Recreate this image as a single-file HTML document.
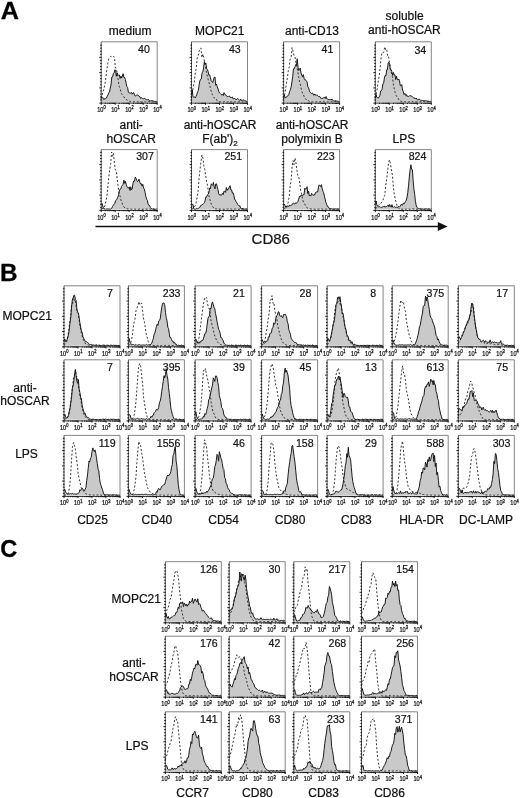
<!DOCTYPE html>
<html><head><meta charset="utf-8"><title>Figure</title>
<style>
html,body{margin:0;padding:0;background:#fff;}
body{width:520px;height:798px;overflow:hidden;}
svg{display:block;}
text{font-family:"Liberation Sans",sans-serif;fill:#111;}
.big{font-size:23.8px;font-weight:bold;fill:#000;stroke:#000;stroke-width:0.3px;}
.lb{font-size:12px;stroke:#111;stroke-width:0.22px;}
.cd{font-size:15px;stroke:#111;stroke-width:0.2px;}
.nm{font-size:10.6px;text-anchor:middle;stroke:#111;stroke-width:0.2px;}
.tk{font-size:7.3px;fill:#111;stroke:#111;stroke-width:0.25px;}
.sp{font-size:5.2px;stroke-width:0.3px;}
</style></head><body>
<svg width="520" height="798" viewBox="0 0 520 798">
<rect width="520" height="798" fill="#fff"/>
<path d="M101.2,102.0 L101.2,96.5 L102.0,96.7 L102.7,97.4 L103.5,99.4 L104.2,98.6 L105.0,99.4 L105.7,98.3 L106.5,98.0 L107.3,96.0 L108.0,95.0 L108.8,92.5 L109.5,92.1 L110.3,88.1 L111.0,85.0 L111.8,77.0 L112.6,76.9 L113.3,73.6 L114.1,73.0 L114.8,69.8 L115.6,70.2 L116.3,76.2 L117.1,72.8 L117.8,74.5 L118.6,75.3 L119.4,75.0 L120.1,78.4 L120.9,76.1 L121.6,78.1 L122.4,76.2 L123.1,73.7 L123.9,77.5 L124.7,77.5 L125.4,79.6 L126.2,83.4 L126.9,86.7 L127.7,87.7 L128.4,92.4 L129.2,92.9 L130.0,92.6 L130.7,93.2 L131.5,92.5 L132.2,94.2 L133.0,92.8 L133.7,92.8 L134.5,94.8 L135.3,96.1 L136.0,95.5 L136.8,95.0 L137.5,95.0 L138.3,95.3 L139.0,96.4 L139.8,96.5 L140.6,98.4 L141.3,97.6 L142.1,98.2 L142.8,98.9 L143.6,98.7 L144.3,98.2 L145.1,99.2 L145.8,99.1 L146.6,99.7 L147.4,99.8 L148.1,99.3 L148.9,99.8 L149.6,100.7 L150.4,100.8 L151.1,100.8 L151.9,100.6 L152.7,100.7 L153.4,101.1 L154.2,101.3 L154.9,101.4 L155.7,101.3 L156.4,101.7 L157.2,101.7 L157.2,102.0 Z" fill="#c9c9c9" stroke="none"/>
<path d="M101.2,98.9 L102.1,94.9 L103.1,91.5 L104.0,88.4 L105.0,83.9 L105.9,77.4 L106.9,69.2 L107.8,63.3 L108.8,58.8 L109.7,57.5 L110.7,56.3 L111.6,56.7 L112.6,57.5 L113.5,56.6 L114.5,57.0 L115.4,67.9 L116.4,69.2 L117.3,74.1 L118.3,80.7 L119.2,86.4 L120.2,88.6 L121.1,92.9 L122.1,94.6 L123.0,95.9 L124.0,97.4 L124.9,97.5 L125.9,99.0 L126.8,99.9 L127.8,100.5 L128.7,101.1 L129.7,101.3 L130.6,101.7 L131.6,101.9 L132.5,101.8 L133.5,101.8 L134.4,101.7 L135.4,101.9 L136.3,101.8 L137.3,101.7 L138.2,102.0 L139.2,102.0 L140.1,101.6 L141.1,102.0 L142.0,102.0 L143.0,101.8 L143.9,101.7 L144.9,102.0 L145.8,102.0 L146.8,101.4 L147.7,101.6 L148.7,101.4 L149.6,101.7 L150.6,102.0 L151.5,101.6 L152.5,101.9 L153.4,102.0 L154.4,101.7 L155.3,101.9 L156.3,101.8 L157.2,101.9" fill="none" stroke="#2a2a2a" stroke-width="0.95" stroke-dasharray="2,1.9"/>
<path d="M101.2,96.5 L102.0,96.7 L102.7,97.4 L103.5,99.4 L104.2,98.6 L105.0,99.4 L105.7,98.3 L106.5,98.0 L107.3,96.0 L108.0,95.0 L108.8,92.5 L109.5,92.1 L110.3,88.1 L111.0,85.0 L111.8,77.0 L112.6,76.9 L113.3,73.6 L114.1,73.0 L114.8,69.8 L115.6,70.2 L116.3,76.2 L117.1,72.8 L117.8,74.5 L118.6,75.3 L119.4,75.0 L120.1,78.4 L120.9,76.1 L121.6,78.1 L122.4,76.2 L123.1,73.7 L123.9,77.5 L124.7,77.5 L125.4,79.6 L126.2,83.4 L126.9,86.7 L127.7,87.7 L128.4,92.4 L129.2,92.9 L130.0,92.6 L130.7,93.2 L131.5,92.5 L132.2,94.2 L133.0,92.8 L133.7,92.8 L134.5,94.8 L135.3,96.1 L136.0,95.5 L136.8,95.0 L137.5,95.0 L138.3,95.3 L139.0,96.4 L139.8,96.5 L140.6,98.4 L141.3,97.6 L142.1,98.2 L142.8,98.9 L143.6,98.7 L144.3,98.2 L145.1,99.2 L145.8,99.1 L146.6,99.7 L147.4,99.8 L148.1,99.3 L148.9,99.8 L149.6,100.7 L150.4,100.8 L151.1,100.8 L151.9,100.6 L152.7,100.7 L153.4,101.1 L154.2,101.3 L154.9,101.4 L155.7,101.3 L156.4,101.7 L157.2,101.7" fill="none" stroke="#111" stroke-width="0.95" stroke-linejoin="round"/>
<path d="M101.2,41.8 H157.2 V103.1" fill="none" stroke="#666" stroke-width="0.8"/>
<path d="M101.2,41.8 V103.1" fill="none" stroke="#222" stroke-width="0.8"/>
<path d="M100.8,103.1 H157.5" fill="none" stroke="#111" stroke-width="0.9"/>
<path d="M99.3,103.1 h2.4 M100.1,100.0 h1.6 M100.1,97.0 h1.6 M100.1,94.0 h1.6 M100.1,90.9 h1.6 M99.3,87.9 h2.4 M100.1,84.8 h1.6 M100.1,81.8 h1.6 M100.1,78.7 h1.6 M100.1,75.7 h1.6 M99.3,72.6 h2.4 M100.1,69.6 h1.6 M100.1,66.5 h1.6 M100.1,63.5 h1.6 M100.1,60.4 h1.6 M99.3,57.4 h2.4 M100.1,54.3 h1.6 M100.1,51.3 h1.6 M100.1,48.2 h1.6 M100.1,45.2 h1.6 M101.2,102.8 v2.0 M105.4,102.8 v1.1 M107.9,102.8 v1.1 M109.6,102.8 v1.1 M111.0,102.8 v1.1 M112.1,102.8 v1.1 M113.0,102.8 v1.1 M113.8,102.8 v1.1 M114.6,102.8 v1.1 M115.2,102.8 v2.0 M119.4,102.8 v1.1 M121.9,102.8 v1.1 M123.6,102.8 v1.1 M125.0,102.8 v1.1 M126.1,102.8 v1.1 M127.0,102.8 v1.1 M127.8,102.8 v1.1 M128.6,102.8 v1.1 M129.2,102.8 v2.0 M133.4,102.8 v1.1 M135.9,102.8 v1.1 M137.6,102.8 v1.1 M139.0,102.8 v1.1 M140.1,102.8 v1.1 M141.0,102.8 v1.1 M141.8,102.8 v1.1 M142.6,102.8 v1.1 M143.2,102.8 v2.0 M147.4,102.8 v1.1 M149.9,102.8 v1.1 M151.6,102.8 v1.1 M153.0,102.8 v1.1 M154.1,102.8 v1.1 M155.0,102.8 v1.1 M155.8,102.8 v1.1 M156.6,102.8 v1.1 M157.2,102.8 v2" fill="none" stroke="#111" stroke-width="0.95"/>
<text transform="translate(97.2,111.9) scale(0.77,1)" class="tk">10<tspan dy="-2.5" class="sp">0</tspan></text>
<text transform="translate(111.2,111.9) scale(0.77,1)" class="tk">10<tspan dy="-2.5" class="sp">1</tspan></text>
<text transform="translate(125.2,111.9) scale(0.77,1)" class="tk">10<tspan dy="-2.5" class="sp">2</tspan></text>
<text transform="translate(139.2,111.9) scale(0.77,1)" class="tk">10<tspan dy="-2.5" class="sp">3</tspan></text>
<text transform="translate(153.2,111.9) scale(0.77,1)" class="tk">10<tspan dy="-2.5" class="sp">4</tspan></text>
<text x="144.0" y="53.3" class="nm">40</text>
<path d="M191.5,102.0 L191.5,94.8 L192.3,89.9 L193.0,96.6 L193.8,97.2 L194.5,96.8 L195.3,97.9 L196.0,96.4 L196.8,94.5 L197.6,91.8 L198.3,90.3 L199.1,85.1 L199.8,81.0 L200.6,79.3 L201.3,78.9 L202.1,72.5 L202.9,71.9 L203.6,67.4 L204.4,61.6 L205.1,64.1 L205.9,63.0 L206.6,68.5 L207.4,69.8 L208.1,71.3 L208.9,75.2 L209.7,74.8 L210.4,77.7 L211.2,80.7 L211.9,81.7 L212.7,82.5 L213.4,79.9 L214.2,77.4 L215.0,77.0 L215.7,85.3 L216.5,84.1 L217.2,86.6 L218.0,88.9 L218.7,91.3 L219.5,92.9 L220.3,93.5 L221.0,94.3 L221.8,95.0 L222.5,94.5 L223.3,95.6 L224.0,92.6 L224.8,93.9 L225.6,95.3 L226.3,95.7 L227.1,96.2 L227.8,96.8 L228.6,96.4 L229.3,95.9 L230.1,97.3 L230.9,97.4 L231.6,97.5 L232.4,97.0 L233.1,98.8 L233.9,98.9 L234.6,98.2 L235.4,99.0 L236.1,99.9 L236.9,98.9 L237.7,98.5 L238.4,99.3 L239.2,99.8 L239.9,100.6 L240.7,99.1 L241.4,100.5 L242.2,100.4 L243.0,100.2 L243.7,99.8 L244.5,100.9 L245.2,100.6 L246.0,101.3 L246.7,101.4 L247.5,101.7 L247.5,102.0 Z" fill="#c9c9c9" stroke="none"/>
<path d="M191.5,97.8 L192.4,92.5 L193.4,85.8 L194.3,82.1 L195.3,72.6 L196.2,68.4 L197.2,57.9 L198.1,56.2 L199.1,51.2 L200.0,48.7 L201.0,47.9 L201.9,57.6 L202.9,54.0 L203.8,57.5 L204.8,63.8 L205.7,68.5 L206.7,73.2 L207.6,77.5 L208.6,81.3 L209.5,84.2 L210.5,89.0 L211.4,91.6 L212.4,94.7 L213.3,96.8 L214.3,97.9 L215.2,98.7 L216.2,98.7 L217.1,100.8 L218.1,101.4 L219.0,101.8 L220.0,101.8 L220.9,101.8 L221.9,102.0 L222.8,101.9 L223.8,101.8 L224.7,101.5 L225.7,101.9 L226.6,101.9 L227.6,102.0 L228.5,101.5 L229.5,102.0 L230.4,101.8 L231.4,101.9 L232.3,101.6 L233.3,102.0 L234.2,102.0 L235.2,101.9 L236.1,101.9 L237.1,101.8 L238.0,102.0 L239.0,101.9 L239.9,101.7 L240.9,102.0 L241.8,101.8 L242.8,102.0 L243.7,101.7 L244.7,101.7 L245.6,101.8 L246.6,101.8 L247.5,101.9" fill="none" stroke="#2a2a2a" stroke-width="0.95" stroke-dasharray="2,1.9"/>
<path d="M191.5,94.8 L192.3,89.9 L193.0,96.6 L193.8,97.2 L194.5,96.8 L195.3,97.9 L196.0,96.4 L196.8,94.5 L197.6,91.8 L198.3,90.3 L199.1,85.1 L199.8,81.0 L200.6,79.3 L201.3,78.9 L202.1,72.5 L202.9,71.9 L203.6,67.4 L204.4,61.6 L205.1,64.1 L205.9,63.0 L206.6,68.5 L207.4,69.8 L208.1,71.3 L208.9,75.2 L209.7,74.8 L210.4,77.7 L211.2,80.7 L211.9,81.7 L212.7,82.5 L213.4,79.9 L214.2,77.4 L215.0,77.0 L215.7,85.3 L216.5,84.1 L217.2,86.6 L218.0,88.9 L218.7,91.3 L219.5,92.9 L220.3,93.5 L221.0,94.3 L221.8,95.0 L222.5,94.5 L223.3,95.6 L224.0,92.6 L224.8,93.9 L225.6,95.3 L226.3,95.7 L227.1,96.2 L227.8,96.8 L228.6,96.4 L229.3,95.9 L230.1,97.3 L230.9,97.4 L231.6,97.5 L232.4,97.0 L233.1,98.8 L233.9,98.9 L234.6,98.2 L235.4,99.0 L236.1,99.9 L236.9,98.9 L237.7,98.5 L238.4,99.3 L239.2,99.8 L239.9,100.6 L240.7,99.1 L241.4,100.5 L242.2,100.4 L243.0,100.2 L243.7,99.8 L244.5,100.9 L245.2,100.6 L246.0,101.3 L246.7,101.4 L247.5,101.7" fill="none" stroke="#111" stroke-width="0.95" stroke-linejoin="round"/>
<path d="M191.5,41.8 H247.5 V103.1" fill="none" stroke="#666" stroke-width="0.8"/>
<path d="M191.5,41.8 V103.1" fill="none" stroke="#222" stroke-width="0.8"/>
<path d="M191.1,103.1 H247.8" fill="none" stroke="#111" stroke-width="0.9"/>
<path d="M189.6,103.1 h2.4 M190.4,100.0 h1.6 M190.4,97.0 h1.6 M190.4,94.0 h1.6 M190.4,90.9 h1.6 M189.6,87.9 h2.4 M190.4,84.8 h1.6 M190.4,81.8 h1.6 M190.4,78.7 h1.6 M190.4,75.7 h1.6 M189.6,72.6 h2.4 M190.4,69.6 h1.6 M190.4,66.5 h1.6 M190.4,63.5 h1.6 M190.4,60.4 h1.6 M189.6,57.4 h2.4 M190.4,54.3 h1.6 M190.4,51.3 h1.6 M190.4,48.2 h1.6 M190.4,45.2 h1.6 M191.5,102.8 v2.0 M195.7,102.8 v1.1 M198.2,102.8 v1.1 M199.9,102.8 v1.1 M201.3,102.8 v1.1 M202.4,102.8 v1.1 M203.3,102.8 v1.1 M204.1,102.8 v1.1 M204.9,102.8 v1.1 M205.5,102.8 v2.0 M209.7,102.8 v1.1 M212.2,102.8 v1.1 M213.9,102.8 v1.1 M215.3,102.8 v1.1 M216.4,102.8 v1.1 M217.3,102.8 v1.1 M218.1,102.8 v1.1 M218.9,102.8 v1.1 M219.5,102.8 v2.0 M223.7,102.8 v1.1 M226.2,102.8 v1.1 M227.9,102.8 v1.1 M229.3,102.8 v1.1 M230.4,102.8 v1.1 M231.3,102.8 v1.1 M232.1,102.8 v1.1 M232.9,102.8 v1.1 M233.5,102.8 v2.0 M237.7,102.8 v1.1 M240.2,102.8 v1.1 M241.9,102.8 v1.1 M243.3,102.8 v1.1 M244.4,102.8 v1.1 M245.3,102.8 v1.1 M246.1,102.8 v1.1 M246.9,102.8 v1.1 M247.5,102.8 v2" fill="none" stroke="#111" stroke-width="0.95"/>
<text transform="translate(187.5,112.1) scale(0.77,1)" class="tk">10<tspan dy="-2.5" class="sp">0</tspan></text>
<text transform="translate(201.5,112.1) scale(0.77,1)" class="tk">10<tspan dy="-2.5" class="sp">1</tspan></text>
<text transform="translate(215.5,112.1) scale(0.77,1)" class="tk">10<tspan dy="-2.5" class="sp">2</tspan></text>
<text transform="translate(229.5,112.1) scale(0.77,1)" class="tk">10<tspan dy="-2.5" class="sp">3</tspan></text>
<text transform="translate(243.5,112.1) scale(0.77,1)" class="tk">10<tspan dy="-2.5" class="sp">4</tspan></text>
<text x="234.8" y="53.3" class="nm">43</text>
<path d="M283.6,102.0 L283.6,97.2 L284.4,95.0 L285.1,97.4 L285.9,97.8 L286.6,97.0 L287.4,95.9 L288.1,95.8 L288.9,94.2 L289.7,91.3 L290.4,89.7 L291.2,86.8 L291.9,82.0 L292.7,76.6 L293.4,68.8 L294.2,68.8 L295.0,66.8 L295.7,64.5 L296.5,65.2 L297.2,58.8 L298.0,67.2 L298.7,70.5 L299.5,69.5 L300.2,68.1 L301.0,72.9 L301.8,75.1 L302.5,76.8 L303.3,74.6 L304.0,78.2 L304.8,79.8 L305.5,79.7 L306.3,81.1 L307.1,81.9 L307.8,86.7 L308.6,88.0 L309.3,90.3 L310.1,92.3 L310.8,92.8 L311.6,93.6 L312.4,92.8 L313.1,94.0 L313.9,95.3 L314.6,93.9 L315.4,95.1 L316.1,95.6 L316.9,94.7 L317.7,95.7 L318.4,96.5 L319.2,96.4 L319.9,96.6 L320.7,98.3 L321.4,98.3 L322.2,98.5 L323.0,98.1 L323.7,97.6 L324.5,97.4 L325.2,98.6 L326.0,96.5 L326.7,98.7 L327.5,99.0 L328.2,99.5 L329.0,99.5 L329.8,99.8 L330.5,99.7 L331.3,100.0 L332.0,99.0 L332.8,100.5 L333.5,100.9 L334.3,101.0 L335.1,100.6 L335.8,100.8 L336.6,101.0 L337.3,101.1 L338.1,101.4 L338.8,101.4 L339.6,101.8 L339.6,102.0 Z" fill="#c9c9c9" stroke="none"/>
<path d="M283.6,99.1 L284.5,95.2 L285.5,90.0 L286.4,83.7 L287.4,77.6 L288.3,70.6 L289.3,66.7 L290.2,58.4 L291.2,56.9 L292.1,47.6 L293.1,51.8 L294.0,55.4 L295.0,57.0 L295.9,62.6 L296.9,66.8 L297.8,71.2 L298.8,77.9 L299.7,82.4 L300.7,85.8 L301.6,91.0 L302.6,93.3 L303.5,94.8 L304.5,97.6 L305.4,98.9 L306.4,99.5 L307.3,99.3 L308.3,100.7 L309.2,101.4 L310.2,101.8 L311.1,101.9 L312.1,101.9 L313.0,102.0 L314.0,101.8 L314.9,101.9 L315.9,102.0 L316.8,101.8 L317.8,102.0 L318.7,101.9 L319.7,101.9 L320.6,101.8 L321.6,101.7 L322.5,101.6 L323.5,101.4 L324.4,101.9 L325.4,101.8 L326.3,101.8 L327.3,101.8 L328.2,102.0 L329.2,102.0 L330.1,101.8 L331.1,101.6 L332.0,101.9 L333.0,101.9 L333.9,101.7 L334.9,101.9 L335.8,101.5 L336.8,101.9 L337.7,101.9 L338.7,102.0 L339.6,101.8" fill="none" stroke="#2a2a2a" stroke-width="0.95" stroke-dasharray="2,1.9"/>
<path d="M283.6,97.2 L284.4,95.0 L285.1,97.4 L285.9,97.8 L286.6,97.0 L287.4,95.9 L288.1,95.8 L288.9,94.2 L289.7,91.3 L290.4,89.7 L291.2,86.8 L291.9,82.0 L292.7,76.6 L293.4,68.8 L294.2,68.8 L295.0,66.8 L295.7,64.5 L296.5,65.2 L297.2,58.8 L298.0,67.2 L298.7,70.5 L299.5,69.5 L300.2,68.1 L301.0,72.9 L301.8,75.1 L302.5,76.8 L303.3,74.6 L304.0,78.2 L304.8,79.8 L305.5,79.7 L306.3,81.1 L307.1,81.9 L307.8,86.7 L308.6,88.0 L309.3,90.3 L310.1,92.3 L310.8,92.8 L311.6,93.6 L312.4,92.8 L313.1,94.0 L313.9,95.3 L314.6,93.9 L315.4,95.1 L316.1,95.6 L316.9,94.7 L317.7,95.7 L318.4,96.5 L319.2,96.4 L319.9,96.6 L320.7,98.3 L321.4,98.3 L322.2,98.5 L323.0,98.1 L323.7,97.6 L324.5,97.4 L325.2,98.6 L326.0,96.5 L326.7,98.7 L327.5,99.0 L328.2,99.5 L329.0,99.5 L329.8,99.8 L330.5,99.7 L331.3,100.0 L332.0,99.0 L332.8,100.5 L333.5,100.9 L334.3,101.0 L335.1,100.6 L335.8,100.8 L336.6,101.0 L337.3,101.1 L338.1,101.4 L338.8,101.4 L339.6,101.8" fill="none" stroke="#111" stroke-width="0.95" stroke-linejoin="round"/>
<path d="M283.6,41.8 H339.6 V103.1" fill="none" stroke="#666" stroke-width="0.8"/>
<path d="M283.6,41.8 V103.1" fill="none" stroke="#222" stroke-width="0.8"/>
<path d="M283.2,103.1 H339.9" fill="none" stroke="#111" stroke-width="0.9"/>
<path d="M281.7,103.1 h2.4 M282.5,100.0 h1.6 M282.5,97.0 h1.6 M282.5,94.0 h1.6 M282.5,90.9 h1.6 M281.7,87.9 h2.4 M282.5,84.8 h1.6 M282.5,81.8 h1.6 M282.5,78.7 h1.6 M282.5,75.7 h1.6 M281.7,72.6 h2.4 M282.5,69.6 h1.6 M282.5,66.5 h1.6 M282.5,63.5 h1.6 M282.5,60.4 h1.6 M281.7,57.4 h2.4 M282.5,54.3 h1.6 M282.5,51.3 h1.6 M282.5,48.2 h1.6 M282.5,45.2 h1.6 M283.6,102.8 v2.0 M287.8,102.8 v1.1 M290.3,102.8 v1.1 M292.0,102.8 v1.1 M293.4,102.8 v1.1 M294.5,102.8 v1.1 M295.4,102.8 v1.1 M296.2,102.8 v1.1 M297.0,102.8 v1.1 M297.6,102.8 v2.0 M301.8,102.8 v1.1 M304.3,102.8 v1.1 M306.0,102.8 v1.1 M307.4,102.8 v1.1 M308.5,102.8 v1.1 M309.4,102.8 v1.1 M310.2,102.8 v1.1 M311.0,102.8 v1.1 M311.6,102.8 v2.0 M315.8,102.8 v1.1 M318.3,102.8 v1.1 M320.0,102.8 v1.1 M321.4,102.8 v1.1 M322.5,102.8 v1.1 M323.4,102.8 v1.1 M324.2,102.8 v1.1 M325.0,102.8 v1.1 M325.6,102.8 v2.0 M329.8,102.8 v1.1 M332.3,102.8 v1.1 M334.0,102.8 v1.1 M335.4,102.8 v1.1 M336.5,102.8 v1.1 M337.4,102.8 v1.1 M338.2,102.8 v1.1 M339.0,102.8 v1.1 M339.6,102.8 v2" fill="none" stroke="#111" stroke-width="0.95"/>
<text transform="translate(279.6,112.1) scale(0.77,1)" class="tk">10<tspan dy="-2.5" class="sp">0</tspan></text>
<text transform="translate(293.6,112.1) scale(0.77,1)" class="tk">10<tspan dy="-2.5" class="sp">1</tspan></text>
<text transform="translate(307.6,112.1) scale(0.77,1)" class="tk">10<tspan dy="-2.5" class="sp">2</tspan></text>
<text transform="translate(321.6,112.1) scale(0.77,1)" class="tk">10<tspan dy="-2.5" class="sp">3</tspan></text>
<text transform="translate(335.6,112.1) scale(0.77,1)" class="tk">10<tspan dy="-2.5" class="sp">4</tspan></text>
<text x="327.5" y="53.3" class="nm">41</text>
<path d="M375.3,102.0 L375.3,98.2 L376.1,94.5 L376.8,97.4 L377.6,97.6 L378.3,98.2 L379.1,96.9 L379.8,95.9 L380.6,91.1 L381.4,90.7 L382.1,89.1 L382.9,83.7 L383.6,83.3 L384.4,78.1 L385.1,75.4 L385.9,75.8 L386.7,69.8 L387.4,69.7 L388.2,62.8 L388.9,62.4 L389.7,64.4 L390.4,69.9 L391.2,69.7 L391.9,71.7 L392.7,75.3 L393.5,72.5 L394.2,75.1 L395.0,74.8 L395.7,79.5 L396.5,76.2 L397.2,79.4 L398.0,80.0 L398.8,79.0 L399.5,80.9 L400.3,85.6 L401.0,85.8 L401.8,84.6 L402.5,90.0 L403.3,91.6 L404.1,94.5 L404.8,93.4 L405.6,95.4 L406.3,94.5 L407.1,96.5 L407.8,95.9 L408.6,96.5 L409.4,96.1 L410.1,95.3 L410.9,96.4 L411.6,96.1 L412.4,96.6 L413.1,97.3 L413.9,98.3 L414.7,97.9 L415.4,98.8 L416.2,98.0 L416.9,99.2 L417.7,100.2 L418.4,99.2 L419.2,99.3 L419.9,99.4 L420.7,100.4 L421.5,100.4 L422.2,100.5 L423.0,100.7 L423.7,100.6 L424.5,100.8 L425.2,100.6 L426.0,101.1 L426.8,100.9 L427.5,101.2 L428.3,101.2 L429.0,101.5 L429.8,101.4 L430.5,101.3 L431.3,101.4 L431.3,102.0 Z" fill="#c9c9c9" stroke="none"/>
<path d="M375.3,98.0 L376.2,94.0 L377.2,88.8 L378.1,82.0 L379.1,76.4 L380.0,69.1 L381.0,58.8 L381.9,52.8 L382.9,53.2 L383.8,51.6 L384.8,46.8 L385.7,49.8 L386.7,49.2 L387.6,56.2 L388.6,56.2 L389.5,63.1 L390.5,69.5 L391.4,73.1 L392.4,76.6 L393.3,83.9 L394.3,88.8 L395.2,92.6 L396.2,95.5 L397.1,97.2 L398.1,98.2 L399.0,100.0 L400.0,101.0 L400.9,101.2 L401.9,101.8 L402.8,101.8 L403.8,101.8 L404.7,101.8 L405.7,101.9 L406.6,101.8 L407.6,102.0 L408.5,102.0 L409.5,101.7 L410.4,101.9 L411.4,101.9 L412.3,101.5 L413.3,101.9 L414.2,101.8 L415.2,101.9 L416.1,101.9 L417.1,102.0 L418.0,101.7 L419.0,101.7 L419.9,101.8 L420.9,101.7 L421.8,101.7 L422.8,101.7 L423.7,101.5 L424.7,101.7 L425.6,101.7 L426.6,101.8 L427.5,102.0 L428.5,101.5 L429.4,101.9 L430.4,102.0 L431.3,101.7" fill="none" stroke="#2a2a2a" stroke-width="0.95" stroke-dasharray="2,1.9"/>
<path d="M375.3,98.2 L376.1,94.5 L376.8,97.4 L377.6,97.6 L378.3,98.2 L379.1,96.9 L379.8,95.9 L380.6,91.1 L381.4,90.7 L382.1,89.1 L382.9,83.7 L383.6,83.3 L384.4,78.1 L385.1,75.4 L385.9,75.8 L386.7,69.8 L387.4,69.7 L388.2,62.8 L388.9,62.4 L389.7,64.4 L390.4,69.9 L391.2,69.7 L391.9,71.7 L392.7,75.3 L393.5,72.5 L394.2,75.1 L395.0,74.8 L395.7,79.5 L396.5,76.2 L397.2,79.4 L398.0,80.0 L398.8,79.0 L399.5,80.9 L400.3,85.6 L401.0,85.8 L401.8,84.6 L402.5,90.0 L403.3,91.6 L404.1,94.5 L404.8,93.4 L405.6,95.4 L406.3,94.5 L407.1,96.5 L407.8,95.9 L408.6,96.5 L409.4,96.1 L410.1,95.3 L410.9,96.4 L411.6,96.1 L412.4,96.6 L413.1,97.3 L413.9,98.3 L414.7,97.9 L415.4,98.8 L416.2,98.0 L416.9,99.2 L417.7,100.2 L418.4,99.2 L419.2,99.3 L419.9,99.4 L420.7,100.4 L421.5,100.4 L422.2,100.5 L423.0,100.7 L423.7,100.6 L424.5,100.8 L425.2,100.6 L426.0,101.1 L426.8,100.9 L427.5,101.2 L428.3,101.2 L429.0,101.5 L429.8,101.4 L430.5,101.3 L431.3,101.4" fill="none" stroke="#111" stroke-width="0.95" stroke-linejoin="round"/>
<path d="M375.3,41.8 H431.3 V103.1" fill="none" stroke="#666" stroke-width="0.8"/>
<path d="M375.3,41.8 V103.1" fill="none" stroke="#222" stroke-width="0.8"/>
<path d="M374.9,103.1 H431.6" fill="none" stroke="#111" stroke-width="0.9"/>
<path d="M373.4,103.1 h2.4 M374.2,100.0 h1.6 M374.2,97.0 h1.6 M374.2,94.0 h1.6 M374.2,90.9 h1.6 M373.4,87.9 h2.4 M374.2,84.8 h1.6 M374.2,81.8 h1.6 M374.2,78.7 h1.6 M374.2,75.7 h1.6 M373.4,72.6 h2.4 M374.2,69.6 h1.6 M374.2,66.5 h1.6 M374.2,63.5 h1.6 M374.2,60.4 h1.6 M373.4,57.4 h2.4 M374.2,54.3 h1.6 M374.2,51.3 h1.6 M374.2,48.2 h1.6 M374.2,45.2 h1.6 M375.3,102.8 v2.0 M379.5,102.8 v1.1 M382.0,102.8 v1.1 M383.7,102.8 v1.1 M385.1,102.8 v1.1 M386.2,102.8 v1.1 M387.1,102.8 v1.1 M387.9,102.8 v1.1 M388.7,102.8 v1.1 M389.3,102.8 v2.0 M393.5,102.8 v1.1 M396.0,102.8 v1.1 M397.7,102.8 v1.1 M399.1,102.8 v1.1 M400.2,102.8 v1.1 M401.1,102.8 v1.1 M401.9,102.8 v1.1 M402.7,102.8 v1.1 M403.3,102.8 v2.0 M407.5,102.8 v1.1 M410.0,102.8 v1.1 M411.7,102.8 v1.1 M413.1,102.8 v1.1 M414.2,102.8 v1.1 M415.1,102.8 v1.1 M415.9,102.8 v1.1 M416.7,102.8 v1.1 M417.3,102.8 v2.0 M421.5,102.8 v1.1 M424.0,102.8 v1.1 M425.7,102.8 v1.1 M427.1,102.8 v1.1 M428.2,102.8 v1.1 M429.1,102.8 v1.1 M429.9,102.8 v1.1 M430.7,102.8 v1.1 M431.3,102.8 v2" fill="none" stroke="#111" stroke-width="0.95"/>
<text transform="translate(371.3,112.1) scale(0.77,1)" class="tk">10<tspan dy="-2.5" class="sp">0</tspan></text>
<text transform="translate(385.3,112.1) scale(0.77,1)" class="tk">10<tspan dy="-2.5" class="sp">1</tspan></text>
<text transform="translate(399.3,112.1) scale(0.77,1)" class="tk">10<tspan dy="-2.5" class="sp">2</tspan></text>
<text transform="translate(413.3,112.1) scale(0.77,1)" class="tk">10<tspan dy="-2.5" class="sp">3</tspan></text>
<text transform="translate(427.3,112.1) scale(0.77,1)" class="tk">10<tspan dy="-2.5" class="sp">4</tspan></text>
<text x="420.3" y="53.8" class="nm">34</text>
<path d="M101.2,209.3 L101.2,204.4 L102.0,203.4 L102.7,205.9 L103.5,208.2 L104.2,209.1 L105.0,208.5 L105.7,209.2 L106.5,209.0 L107.3,209.0 L108.0,208.9 L108.8,208.9 L109.5,209.0 L110.3,209.2 L111.0,208.8 L111.8,208.2 L112.6,206.3 L113.3,205.3 L114.1,204.1 L114.8,203.3 L115.6,200.7 L116.3,200.2 L117.1,198.9 L117.8,197.2 L118.6,194.8 L119.4,190.9 L120.1,189.0 L120.9,188.9 L121.6,186.4 L122.4,185.4 L123.1,184.2 L123.9,180.2 L124.7,183.4 L125.4,181.2 L126.2,184.4 L126.9,186.4 L127.7,187.7 L128.4,188.2 L129.2,186.9 L130.0,190.5 L130.7,186.8 L131.5,189.8 L132.2,188.8 L133.0,183.3 L133.7,181.0 L134.5,181.1 L135.3,177.0 L136.0,178.4 L136.8,180.5 L137.5,181.7 L138.3,181.0 L139.0,179.2 L139.8,182.2 L140.6,184.0 L141.3,183.6 L142.1,186.1 L142.8,184.3 L143.6,188.4 L144.3,188.9 L145.1,192.4 L145.8,196.2 L146.6,199.1 L147.4,200.4 L148.1,204.1 L148.9,205.4 L149.6,205.5 L150.4,207.6 L151.1,208.3 L151.9,208.8 L152.7,209.1 L153.4,208.7 L154.2,209.0 L154.9,209.3 L155.7,209.3 L156.4,209.0 L157.2,208.8 L157.2,209.3 Z" fill="#c9c9c9" stroke="none"/>
<path d="M101.2,209.1 L102.1,208.5 L103.1,208.5 L104.0,207.4 L105.0,205.5 L105.9,201.9 L106.9,196.1 L107.8,187.1 L108.8,177.1 L109.7,169.5 L110.7,163.6 L111.6,152.0 L112.6,156.2 L113.5,153.6 L114.5,164.0 L115.4,169.9 L116.4,171.2 L117.3,179.7 L118.3,187.7 L119.2,193.9 L120.2,196.4 L121.1,200.8 L122.1,202.8 L123.0,205.6 L124.0,206.9 L124.9,208.1 L125.9,208.4 L126.8,208.5 L127.8,208.9 L128.7,209.0 L129.7,209.0 L130.6,209.1 L131.6,209.3 L132.5,209.2 L133.5,208.7 L134.4,209.1 L135.4,209.2 L136.3,209.2 L137.3,209.2 L138.2,209.3 L139.2,209.1 L140.1,209.0 L141.1,209.3 L142.0,209.3 L143.0,209.3 L143.9,209.0 L144.9,208.9 L145.8,209.1 L146.8,209.2 L147.7,209.0 L148.7,209.3 L149.6,209.0 L150.6,209.2 L151.5,209.2 L152.5,209.3 L153.4,209.2 L154.4,209.3 L155.3,209.3 L156.3,209.2 L157.2,209.2" fill="none" stroke="#2a2a2a" stroke-width="0.95" stroke-dasharray="2,1.9"/>
<path d="M101.2,204.4 L102.0,203.4 L102.7,205.9 L103.5,208.2 L104.2,209.1 L105.0,208.5 L105.7,209.2 L106.5,209.0 L107.3,209.0 L108.0,208.9 L108.8,208.9 L109.5,209.0 L110.3,209.2 L111.0,208.8 L111.8,208.2 L112.6,206.3 L113.3,205.3 L114.1,204.1 L114.8,203.3 L115.6,200.7 L116.3,200.2 L117.1,198.9 L117.8,197.2 L118.6,194.8 L119.4,190.9 L120.1,189.0 L120.9,188.9 L121.6,186.4 L122.4,185.4 L123.1,184.2 L123.9,180.2 L124.7,183.4 L125.4,181.2 L126.2,184.4 L126.9,186.4 L127.7,187.7 L128.4,188.2 L129.2,186.9 L130.0,190.5 L130.7,186.8 L131.5,189.8 L132.2,188.8 L133.0,183.3 L133.7,181.0 L134.5,181.1 L135.3,177.0 L136.0,178.4 L136.8,180.5 L137.5,181.7 L138.3,181.0 L139.0,179.2 L139.8,182.2 L140.6,184.0 L141.3,183.6 L142.1,186.1 L142.8,184.3 L143.6,188.4 L144.3,188.9 L145.1,192.4 L145.8,196.2 L146.6,199.1 L147.4,200.4 L148.1,204.1 L148.9,205.4 L149.6,205.5 L150.4,207.6 L151.1,208.3 L151.9,208.8 L152.7,209.1 L153.4,208.7 L154.2,209.0 L154.9,209.3 L155.7,209.3 L156.4,209.0 L157.2,208.8" fill="none" stroke="#111" stroke-width="0.95" stroke-linejoin="round"/>
<path d="M101.2,149.6 H157.2 V210.4" fill="none" stroke="#666" stroke-width="0.8"/>
<path d="M101.2,149.6 V210.4" fill="none" stroke="#222" stroke-width="0.8"/>
<path d="M100.8,210.4 H157.5" fill="none" stroke="#111" stroke-width="0.9"/>
<path d="M99.3,210.4 h2.4 M100.1,207.3 h1.6 M100.1,204.3 h1.6 M100.1,201.2 h1.6 M100.1,198.2 h1.6 M99.3,195.1 h2.4 M100.1,192.1 h1.6 M100.1,189.0 h1.6 M100.1,186.0 h1.6 M100.1,182.9 h1.6 M99.3,179.9 h2.4 M100.1,176.8 h1.6 M100.1,173.8 h1.6 M100.1,170.7 h1.6 M100.1,167.7 h1.6 M99.3,164.6 h2.4 M100.1,161.6 h1.6 M100.1,158.5 h1.6 M100.1,155.5 h1.6 M100.1,152.4 h1.6 M101.2,210.1 v2.0 M105.4,210.1 v1.1 M107.9,210.1 v1.1 M109.6,210.1 v1.1 M111.0,210.1 v1.1 M112.1,210.1 v1.1 M113.0,210.1 v1.1 M113.8,210.1 v1.1 M114.6,210.1 v1.1 M115.2,210.1 v2.0 M119.4,210.1 v1.1 M121.9,210.1 v1.1 M123.6,210.1 v1.1 M125.0,210.1 v1.1 M126.1,210.1 v1.1 M127.0,210.1 v1.1 M127.8,210.1 v1.1 M128.6,210.1 v1.1 M129.2,210.1 v2.0 M133.4,210.1 v1.1 M135.9,210.1 v1.1 M137.6,210.1 v1.1 M139.0,210.1 v1.1 M140.1,210.1 v1.1 M141.0,210.1 v1.1 M141.8,210.1 v1.1 M142.6,210.1 v1.1 M143.2,210.1 v2.0 M147.4,210.1 v1.1 M149.9,210.1 v1.1 M151.6,210.1 v1.1 M153.0,210.1 v1.1 M154.1,210.1 v1.1 M155.0,210.1 v1.1 M155.8,210.1 v1.1 M156.6,210.1 v1.1 M157.2,210.1 v2" fill="none" stroke="#111" stroke-width="0.95"/>
<text transform="translate(97.2,219.9) scale(0.77,1)" class="tk">10<tspan dy="-2.5" class="sp">0</tspan></text>
<text transform="translate(111.2,219.9) scale(0.77,1)" class="tk">10<tspan dy="-2.5" class="sp">1</tspan></text>
<text transform="translate(125.2,219.9) scale(0.77,1)" class="tk">10<tspan dy="-2.5" class="sp">2</tspan></text>
<text transform="translate(139.2,219.9) scale(0.77,1)" class="tk">10<tspan dy="-2.5" class="sp">3</tspan></text>
<text transform="translate(153.2,219.9) scale(0.77,1)" class="tk">10<tspan dy="-2.5" class="sp">4</tspan></text>
<text x="145.0" y="160.2" class="nm">307</text>
<path d="M191.5,209.3 L191.5,205.4 L192.3,203.9 L193.0,204.8 L193.8,208.5 L194.5,209.1 L195.3,209.2 L196.0,208.9 L196.8,208.5 L197.6,208.7 L198.3,208.4 L199.1,207.7 L199.8,207.3 L200.6,205.9 L201.3,205.0 L202.1,204.7 L202.9,204.3 L203.6,203.5 L204.4,202.5 L205.1,200.8 L205.9,196.9 L206.6,196.9 L207.4,194.8 L208.1,194.3 L208.9,192.7 L209.7,187.9 L210.4,188.9 L211.2,183.9 L211.9,184.5 L212.7,185.4 L213.4,182.4 L214.2,186.8 L215.0,188.9 L215.7,184.0 L216.5,183.8 L217.2,186.8 L218.0,189.6 L218.7,193.7 L219.5,195.0 L220.3,194.4 L221.0,195.6 L221.8,194.4 L222.5,193.3 L223.3,194.6 L224.0,191.1 L224.8,191.4 L225.6,192.4 L226.3,187.5 L227.1,190.4 L227.8,189.0 L228.6,189.1 L229.3,186.9 L230.1,185.7 L230.9,190.1 L231.6,189.9 L232.4,193.1 L233.1,192.8 L233.9,195.4 L234.6,199.0 L235.4,200.1 L236.1,201.6 L236.9,202.9 L237.7,204.5 L238.4,205.4 L239.2,206.1 L239.9,205.7 L240.7,208.4 L241.4,209.0 L242.2,208.0 L243.0,209.1 L243.7,208.9 L244.5,209.0 L245.2,208.9 L246.0,209.2 L246.7,209.1 L247.5,209.0 L247.5,209.3 Z" fill="#c9c9c9" stroke="none"/>
<path d="M191.5,209.1 L192.4,208.9 L193.4,208.5 L194.3,207.1 L195.3,205.4 L196.2,202.2 L197.2,197.1 L198.1,191.3 L199.1,177.9 L200.0,169.7 L201.0,161.7 L201.9,155.0 L202.9,158.0 L203.8,165.8 L204.8,169.2 L205.7,175.6 L206.7,182.0 L207.6,185.7 L208.6,194.5 L209.5,197.9 L210.5,201.8 L211.4,204.2 L212.4,206.5 L213.3,207.1 L214.3,208.6 L215.2,208.7 L216.2,209.1 L217.1,208.7 L218.1,209.2 L219.0,209.1 L220.0,209.2 L220.9,209.2 L221.9,209.2 L222.8,209.2 L223.8,209.3 L224.7,209.3 L225.7,209.3 L226.6,209.0 L227.6,209.1 L228.5,209.0 L229.5,209.3 L230.4,208.9 L231.4,209.1 L232.3,209.3 L233.3,209.1 L234.2,209.1 L235.2,209.0 L236.1,209.1 L237.1,209.2 L238.0,209.3 L239.0,209.3 L239.9,208.9 L240.9,209.1 L241.8,209.3 L242.8,209.2 L243.7,209.1 L244.7,209.2 L245.6,209.3 L246.6,209.1 L247.5,209.2" fill="none" stroke="#2a2a2a" stroke-width="0.95" stroke-dasharray="2,1.9"/>
<path d="M191.5,205.4 L192.3,203.9 L193.0,204.8 L193.8,208.5 L194.5,209.1 L195.3,209.2 L196.0,208.9 L196.8,208.5 L197.6,208.7 L198.3,208.4 L199.1,207.7 L199.8,207.3 L200.6,205.9 L201.3,205.0 L202.1,204.7 L202.9,204.3 L203.6,203.5 L204.4,202.5 L205.1,200.8 L205.9,196.9 L206.6,196.9 L207.4,194.8 L208.1,194.3 L208.9,192.7 L209.7,187.9 L210.4,188.9 L211.2,183.9 L211.9,184.5 L212.7,185.4 L213.4,182.4 L214.2,186.8 L215.0,188.9 L215.7,184.0 L216.5,183.8 L217.2,186.8 L218.0,189.6 L218.7,193.7 L219.5,195.0 L220.3,194.4 L221.0,195.6 L221.8,194.4 L222.5,193.3 L223.3,194.6 L224.0,191.1 L224.8,191.4 L225.6,192.4 L226.3,187.5 L227.1,190.4 L227.8,189.0 L228.6,189.1 L229.3,186.9 L230.1,185.7 L230.9,190.1 L231.6,189.9 L232.4,193.1 L233.1,192.8 L233.9,195.4 L234.6,199.0 L235.4,200.1 L236.1,201.6 L236.9,202.9 L237.7,204.5 L238.4,205.4 L239.2,206.1 L239.9,205.7 L240.7,208.4 L241.4,209.0 L242.2,208.0 L243.0,209.1 L243.7,208.9 L244.5,209.0 L245.2,208.9 L246.0,209.2 L246.7,209.1 L247.5,209.0" fill="none" stroke="#111" stroke-width="0.95" stroke-linejoin="round"/>
<path d="M191.5,149.6 H247.5 V210.4" fill="none" stroke="#666" stroke-width="0.8"/>
<path d="M191.5,149.6 V210.4" fill="none" stroke="#222" stroke-width="0.8"/>
<path d="M191.1,210.4 H247.8" fill="none" stroke="#111" stroke-width="0.9"/>
<path d="M189.6,210.4 h2.4 M190.4,207.3 h1.6 M190.4,204.3 h1.6 M190.4,201.2 h1.6 M190.4,198.2 h1.6 M189.6,195.1 h2.4 M190.4,192.1 h1.6 M190.4,189.0 h1.6 M190.4,186.0 h1.6 M190.4,182.9 h1.6 M189.6,179.9 h2.4 M190.4,176.8 h1.6 M190.4,173.8 h1.6 M190.4,170.7 h1.6 M190.4,167.7 h1.6 M189.6,164.6 h2.4 M190.4,161.6 h1.6 M190.4,158.5 h1.6 M190.4,155.5 h1.6 M190.4,152.4 h1.6 M191.5,210.1 v2.0 M195.7,210.1 v1.1 M198.2,210.1 v1.1 M199.9,210.1 v1.1 M201.3,210.1 v1.1 M202.4,210.1 v1.1 M203.3,210.1 v1.1 M204.1,210.1 v1.1 M204.9,210.1 v1.1 M205.5,210.1 v2.0 M209.7,210.1 v1.1 M212.2,210.1 v1.1 M213.9,210.1 v1.1 M215.3,210.1 v1.1 M216.4,210.1 v1.1 M217.3,210.1 v1.1 M218.1,210.1 v1.1 M218.9,210.1 v1.1 M219.5,210.1 v2.0 M223.7,210.1 v1.1 M226.2,210.1 v1.1 M227.9,210.1 v1.1 M229.3,210.1 v1.1 M230.4,210.1 v1.1 M231.3,210.1 v1.1 M232.1,210.1 v1.1 M232.9,210.1 v1.1 M233.5,210.1 v2.0 M237.7,210.1 v1.1 M240.2,210.1 v1.1 M241.9,210.1 v1.1 M243.3,210.1 v1.1 M244.4,210.1 v1.1 M245.3,210.1 v1.1 M246.1,210.1 v1.1 M246.9,210.1 v1.1 M247.5,210.1 v2" fill="none" stroke="#111" stroke-width="0.95"/>
<text transform="translate(187.5,219.9) scale(0.77,1)" class="tk">10<tspan dy="-2.5" class="sp">0</tspan></text>
<text transform="translate(201.5,219.9) scale(0.77,1)" class="tk">10<tspan dy="-2.5" class="sp">1</tspan></text>
<text transform="translate(215.5,219.9) scale(0.77,1)" class="tk">10<tspan dy="-2.5" class="sp">2</tspan></text>
<text transform="translate(229.5,219.9) scale(0.77,1)" class="tk">10<tspan dy="-2.5" class="sp">3</tspan></text>
<text transform="translate(243.5,219.9) scale(0.77,1)" class="tk">10<tspan dy="-2.5" class="sp">4</tspan></text>
<text x="233.3" y="160.2" class="nm">251</text>
<path d="M283.6,209.3 L283.6,205.5 L284.4,204.0 L285.1,205.4 L285.9,207.5 L286.6,206.1 L287.4,206.7 L288.1,206.0 L288.9,206.5 L289.7,205.1 L290.4,205.6 L291.2,205.2 L291.9,205.1 L292.7,203.5 L293.4,203.1 L294.2,203.8 L295.0,204.0 L295.7,202.8 L296.5,203.3 L297.2,202.3 L298.0,201.4 L298.7,199.2 L299.5,196.2 L300.2,196.9 L301.0,195.1 L301.8,195.4 L302.5,195.8 L303.3,194.5 L304.0,194.9 L304.8,188.2 L305.5,189.1 L306.3,188.8 L307.1,186.7 L307.8,193.7 L308.6,191.1 L309.3,195.9 L310.1,195.1 L310.8,196.1 L311.6,193.4 L312.4,194.4 L313.1,195.4 L313.9,194.9 L314.6,195.0 L315.4,192.6 L316.1,192.7 L316.9,191.5 L317.7,192.0 L318.4,187.2 L319.2,184.8 L319.9,185.5 L320.7,186.6 L321.4,184.7 L322.2,188.7 L323.0,191.3 L323.7,192.8 L324.5,196.7 L325.2,199.2 L326.0,202.8 L326.7,204.4 L327.5,206.6 L328.2,206.6 L329.0,208.0 L329.8,209.2 L330.5,208.8 L331.3,208.6 L332.0,209.2 L332.8,209.0 L333.5,209.1 L334.3,209.1 L335.1,208.9 L335.8,208.9 L336.6,209.1 L337.3,209.2 L338.1,209.0 L338.8,209.2 L339.6,208.7 L339.6,209.3 Z" fill="#c9c9c9" stroke="none"/>
<path d="M283.6,209.2 L284.5,208.4 L285.5,208.5 L286.4,206.7 L287.4,205.6 L288.3,201.8 L289.3,196.2 L290.2,186.1 L291.2,179.6 L292.1,166.9 L293.1,160.6 L294.0,164.7 L295.0,158.0 L295.9,162.4 L296.9,170.2 L297.8,175.3 L298.8,176.6 L299.7,182.9 L300.7,190.6 L301.6,193.6 L302.6,199.3 L303.5,202.2 L304.5,203.6 L305.4,205.4 L306.4,207.2 L307.3,207.9 L308.3,208.5 L309.2,208.6 L310.2,208.9 L311.1,208.9 L312.1,209.1 L313.0,209.2 L314.0,209.2 L314.9,209.1 L315.9,209.3 L316.8,209.3 L317.8,209.3 L318.7,209.1 L319.7,209.1 L320.6,209.2 L321.6,208.9 L322.5,209.2 L323.5,209.3 L324.4,209.0 L325.4,209.1 L326.3,209.1 L327.3,209.2 L328.2,209.3 L329.2,209.2 L330.1,209.1 L331.1,208.9 L332.0,209.0 L333.0,209.3 L333.9,209.1 L334.9,209.1 L335.8,209.2 L336.8,209.0 L337.7,208.8 L338.7,209.1 L339.6,209.3" fill="none" stroke="#2a2a2a" stroke-width="0.95" stroke-dasharray="2,1.9"/>
<path d="M283.6,205.5 L284.4,204.0 L285.1,205.4 L285.9,207.5 L286.6,206.1 L287.4,206.7 L288.1,206.0 L288.9,206.5 L289.7,205.1 L290.4,205.6 L291.2,205.2 L291.9,205.1 L292.7,203.5 L293.4,203.1 L294.2,203.8 L295.0,204.0 L295.7,202.8 L296.5,203.3 L297.2,202.3 L298.0,201.4 L298.7,199.2 L299.5,196.2 L300.2,196.9 L301.0,195.1 L301.8,195.4 L302.5,195.8 L303.3,194.5 L304.0,194.9 L304.8,188.2 L305.5,189.1 L306.3,188.8 L307.1,186.7 L307.8,193.7 L308.6,191.1 L309.3,195.9 L310.1,195.1 L310.8,196.1 L311.6,193.4 L312.4,194.4 L313.1,195.4 L313.9,194.9 L314.6,195.0 L315.4,192.6 L316.1,192.7 L316.9,191.5 L317.7,192.0 L318.4,187.2 L319.2,184.8 L319.9,185.5 L320.7,186.6 L321.4,184.7 L322.2,188.7 L323.0,191.3 L323.7,192.8 L324.5,196.7 L325.2,199.2 L326.0,202.8 L326.7,204.4 L327.5,206.6 L328.2,206.6 L329.0,208.0 L329.8,209.2 L330.5,208.8 L331.3,208.6 L332.0,209.2 L332.8,209.0 L333.5,209.1 L334.3,209.1 L335.1,208.9 L335.8,208.9 L336.6,209.1 L337.3,209.2 L338.1,209.0 L338.8,209.2 L339.6,208.7" fill="none" stroke="#111" stroke-width="0.95" stroke-linejoin="round"/>
<path d="M283.6,149.6 H339.6 V210.4" fill="none" stroke="#666" stroke-width="0.8"/>
<path d="M283.6,149.6 V210.4" fill="none" stroke="#222" stroke-width="0.8"/>
<path d="M283.2,210.4 H339.9" fill="none" stroke="#111" stroke-width="0.9"/>
<path d="M281.7,210.4 h2.4 M282.5,207.3 h1.6 M282.5,204.3 h1.6 M282.5,201.2 h1.6 M282.5,198.2 h1.6 M281.7,195.1 h2.4 M282.5,192.1 h1.6 M282.5,189.0 h1.6 M282.5,186.0 h1.6 M282.5,182.9 h1.6 M281.7,179.9 h2.4 M282.5,176.8 h1.6 M282.5,173.8 h1.6 M282.5,170.7 h1.6 M282.5,167.7 h1.6 M281.7,164.6 h2.4 M282.5,161.6 h1.6 M282.5,158.5 h1.6 M282.5,155.5 h1.6 M282.5,152.4 h1.6 M283.6,210.1 v2.0 M287.8,210.1 v1.1 M290.3,210.1 v1.1 M292.0,210.1 v1.1 M293.4,210.1 v1.1 M294.5,210.1 v1.1 M295.4,210.1 v1.1 M296.2,210.1 v1.1 M297.0,210.1 v1.1 M297.6,210.1 v2.0 M301.8,210.1 v1.1 M304.3,210.1 v1.1 M306.0,210.1 v1.1 M307.4,210.1 v1.1 M308.5,210.1 v1.1 M309.4,210.1 v1.1 M310.2,210.1 v1.1 M311.0,210.1 v1.1 M311.6,210.1 v2.0 M315.8,210.1 v1.1 M318.3,210.1 v1.1 M320.0,210.1 v1.1 M321.4,210.1 v1.1 M322.5,210.1 v1.1 M323.4,210.1 v1.1 M324.2,210.1 v1.1 M325.0,210.1 v1.1 M325.6,210.1 v2.0 M329.8,210.1 v1.1 M332.3,210.1 v1.1 M334.0,210.1 v1.1 M335.4,210.1 v1.1 M336.5,210.1 v1.1 M337.4,210.1 v1.1 M338.2,210.1 v1.1 M339.0,210.1 v1.1 M339.6,210.1 v2" fill="none" stroke="#111" stroke-width="0.95"/>
<text transform="translate(279.6,219.9) scale(0.77,1)" class="tk">10<tspan dy="-2.5" class="sp">0</tspan></text>
<text transform="translate(293.6,219.9) scale(0.77,1)" class="tk">10<tspan dy="-2.5" class="sp">1</tspan></text>
<text transform="translate(307.6,219.9) scale(0.77,1)" class="tk">10<tspan dy="-2.5" class="sp">2</tspan></text>
<text transform="translate(321.6,219.9) scale(0.77,1)" class="tk">10<tspan dy="-2.5" class="sp">3</tspan></text>
<text transform="translate(335.6,219.9) scale(0.77,1)" class="tk">10<tspan dy="-2.5" class="sp">4</tspan></text>
<text x="325.8" y="160.2" class="nm">223</text>
<path d="M375.3,209.3 L375.3,203.5 L376.1,201.0 L376.8,204.9 L377.6,206.3 L378.3,206.7 L379.1,207.2 L379.8,206.5 L380.6,207.3 L381.4,207.4 L382.1,207.0 L382.9,207.0 L383.6,206.5 L384.4,206.1 L385.1,207.3 L385.9,206.3 L386.7,206.7 L387.4,205.7 L388.2,204.9 L388.9,206.8 L389.7,204.5 L390.4,205.9 L391.2,207.2 L391.9,204.7 L392.7,207.1 L393.5,207.3 L394.2,206.6 L395.0,207.2 L395.7,207.4 L396.5,207.1 L397.2,207.7 L398.0,206.6 L398.8,206.4 L399.5,207.0 L400.3,206.1 L401.0,204.5 L401.8,204.6 L402.5,205.2 L403.3,203.2 L404.1,203.9 L404.8,202.8 L405.6,201.4 L406.3,200.2 L407.1,197.0 L407.8,192.3 L408.6,185.1 L409.4,176.0 L410.1,169.7 L410.9,164.8 L411.6,169.4 L412.4,169.7 L413.1,180.2 L413.9,189.1 L414.7,194.4 L415.4,201.2 L416.2,205.3 L416.9,207.4 L417.7,208.1 L418.4,208.5 L419.2,208.8 L419.9,208.7 L420.7,208.8 L421.5,209.1 L422.2,208.9 L423.0,209.1 L423.7,209.2 L424.5,209.1 L425.2,209.2 L426.0,208.8 L426.8,208.9 L427.5,209.1 L428.3,209.2 L429.0,209.0 L429.8,209.1 L430.5,209.3 L431.3,208.5 L431.3,209.3 Z" fill="#c9c9c9" stroke="none"/>
<path d="M375.3,208.6 L376.2,208.3 L377.2,206.5 L378.1,205.7 L379.1,204.6 L380.0,203.7 L381.0,203.4 L381.9,201.9 L382.9,200.5 L383.8,197.3 L384.8,195.3 L385.7,185.5 L386.7,179.3 L387.6,170.8 L388.6,162.5 L389.5,159.8 L390.5,163.8 L391.4,170.0 L392.4,175.1 L393.3,186.5 L394.3,194.2 L395.2,198.8 L396.2,202.9 L397.1,205.7 L398.1,207.5 L399.0,208.6 L400.0,209.0 L400.9,209.1 L401.9,209.2 L402.8,209.3 L403.8,209.2 L404.7,208.7 L405.7,209.3 L406.6,209.1 L407.6,209.0 L408.5,208.9 L409.5,209.2 L410.4,209.2 L411.4,209.0 L412.3,208.6 L413.3,209.0 L414.2,209.0 L415.2,209.3 L416.1,209.2 L417.1,209.3 L418.0,209.0 L419.0,209.2 L419.9,209.1 L420.9,209.2 L421.8,209.1 L422.8,209.2 L423.7,209.0 L424.7,209.2 L425.6,209.0 L426.6,209.1 L427.5,209.3 L428.5,208.9 L429.4,209.0 L430.4,209.2 L431.3,209.0" fill="none" stroke="#2a2a2a" stroke-width="0.95" stroke-dasharray="2,1.9"/>
<path d="M375.3,203.5 L376.1,201.0 L376.8,204.9 L377.6,206.3 L378.3,206.7 L379.1,207.2 L379.8,206.5 L380.6,207.3 L381.4,207.4 L382.1,207.0 L382.9,207.0 L383.6,206.5 L384.4,206.1 L385.1,207.3 L385.9,206.3 L386.7,206.7 L387.4,205.7 L388.2,204.9 L388.9,206.8 L389.7,204.5 L390.4,205.9 L391.2,207.2 L391.9,204.7 L392.7,207.1 L393.5,207.3 L394.2,206.6 L395.0,207.2 L395.7,207.4 L396.5,207.1 L397.2,207.7 L398.0,206.6 L398.8,206.4 L399.5,207.0 L400.3,206.1 L401.0,204.5 L401.8,204.6 L402.5,205.2 L403.3,203.2 L404.1,203.9 L404.8,202.8 L405.6,201.4 L406.3,200.2 L407.1,197.0 L407.8,192.3 L408.6,185.1 L409.4,176.0 L410.1,169.7 L410.9,164.8 L411.6,169.4 L412.4,169.7 L413.1,180.2 L413.9,189.1 L414.7,194.4 L415.4,201.2 L416.2,205.3 L416.9,207.4 L417.7,208.1 L418.4,208.5 L419.2,208.8 L419.9,208.7 L420.7,208.8 L421.5,209.1 L422.2,208.9 L423.0,209.1 L423.7,209.2 L424.5,209.1 L425.2,209.2 L426.0,208.8 L426.8,208.9 L427.5,209.1 L428.3,209.2 L429.0,209.0 L429.8,209.1 L430.5,209.3 L431.3,208.5" fill="none" stroke="#111" stroke-width="0.95" stroke-linejoin="round"/>
<path d="M375.3,149.6 H431.3 V210.4" fill="none" stroke="#666" stroke-width="0.8"/>
<path d="M375.3,149.6 V210.4" fill="none" stroke="#222" stroke-width="0.8"/>
<path d="M374.9,210.4 H431.6" fill="none" stroke="#111" stroke-width="0.9"/>
<path d="M373.4,210.4 h2.4 M374.2,207.3 h1.6 M374.2,204.3 h1.6 M374.2,201.2 h1.6 M374.2,198.2 h1.6 M373.4,195.1 h2.4 M374.2,192.1 h1.6 M374.2,189.0 h1.6 M374.2,186.0 h1.6 M374.2,182.9 h1.6 M373.4,179.9 h2.4 M374.2,176.8 h1.6 M374.2,173.8 h1.6 M374.2,170.7 h1.6 M374.2,167.7 h1.6 M373.4,164.6 h2.4 M374.2,161.6 h1.6 M374.2,158.5 h1.6 M374.2,155.5 h1.6 M374.2,152.4 h1.6 M375.3,210.1 v2.0 M379.5,210.1 v1.1 M382.0,210.1 v1.1 M383.7,210.1 v1.1 M385.1,210.1 v1.1 M386.2,210.1 v1.1 M387.1,210.1 v1.1 M387.9,210.1 v1.1 M388.7,210.1 v1.1 M389.3,210.1 v2.0 M393.5,210.1 v1.1 M396.0,210.1 v1.1 M397.7,210.1 v1.1 M399.1,210.1 v1.1 M400.2,210.1 v1.1 M401.1,210.1 v1.1 M401.9,210.1 v1.1 M402.7,210.1 v1.1 M403.3,210.1 v2.0 M407.5,210.1 v1.1 M410.0,210.1 v1.1 M411.7,210.1 v1.1 M413.1,210.1 v1.1 M414.2,210.1 v1.1 M415.1,210.1 v1.1 M415.9,210.1 v1.1 M416.7,210.1 v1.1 M417.3,210.1 v2.0 M421.5,210.1 v1.1 M424.0,210.1 v1.1 M425.7,210.1 v1.1 M427.1,210.1 v1.1 M428.2,210.1 v1.1 M429.1,210.1 v1.1 M429.9,210.1 v1.1 M430.7,210.1 v1.1 M431.3,210.1 v2" fill="none" stroke="#111" stroke-width="0.95"/>
<text transform="translate(371.3,219.9) scale(0.77,1)" class="tk">10<tspan dy="-2.5" class="sp">0</tspan></text>
<text transform="translate(385.3,219.9) scale(0.77,1)" class="tk">10<tspan dy="-2.5" class="sp">1</tspan></text>
<text transform="translate(399.3,219.9) scale(0.77,1)" class="tk">10<tspan dy="-2.5" class="sp">2</tspan></text>
<text transform="translate(413.3,219.9) scale(0.77,1)" class="tk">10<tspan dy="-2.5" class="sp">3</tspan></text>
<text transform="translate(427.3,219.9) scale(0.77,1)" class="tk">10<tspan dy="-2.5" class="sp">4</tspan></text>
<text x="417.5" y="160.2" class="nm">824</text>
<path d="M64.0,345.7 L64.0,341.9 L64.8,338.9 L65.5,341.5 L66.3,341.1 L67.0,339.8 L67.8,337.4 L68.5,334.7 L69.3,329.0 L70.1,321.8 L70.8,317.1 L71.6,306.5 L72.3,299.9 L73.1,298.0 L73.8,295.8 L74.6,295.1 L75.4,299.5 L76.1,300.4 L76.9,309.2 L77.6,312.0 L78.4,313.1 L79.1,317.2 L79.9,322.9 L80.6,327.0 L81.4,330.8 L82.2,332.6 L82.9,336.5 L83.7,338.4 L84.4,339.6 L85.2,341.5 L85.9,341.7 L86.7,341.7 L87.5,342.4 L88.2,343.1 L89.0,343.9 L89.7,344.5 L90.5,344.5 L91.2,344.5 L92.0,345.0 L92.8,344.9 L93.5,345.0 L94.3,345.3 L95.0,345.2 L95.8,345.2 L96.5,344.8 L97.3,345.4 L98.1,345.5 L98.8,345.0 L99.6,345.2 L100.3,345.4 L101.1,345.6 L101.8,345.6 L102.6,345.3 L103.4,344.8 L104.1,345.6 L104.9,345.0 L105.6,345.7 L106.4,345.3 L107.1,345.4 L107.9,345.2 L108.6,345.5 L109.4,345.7 L110.2,345.2 L110.9,345.3 L111.7,345.3 L112.4,345.6 L113.2,345.1 L113.9,345.5 L114.7,345.4 L115.5,345.6 L116.2,345.3 L117.0,345.6 L117.7,345.5 L118.5,345.7 L119.2,345.4 L120.0,345.5 L120.0,345.7 Z" fill="#c9c9c9" stroke="none"/>
<path d="M64.0,345.1 L64.9,344.4 L65.9,343.4 L66.8,341.3 L67.8,336.0 L68.7,330.4 L69.7,323.3 L70.6,316.3 L71.6,305.5 L72.5,304.5 L73.5,295.7 L74.4,301.3 L75.4,300.6 L76.3,307.2 L77.3,312.7 L78.2,313.6 L79.2,320.5 L80.1,326.5 L81.1,332.0 L82.0,335.0 L83.0,339.0 L83.9,340.9 L84.9,342.9 L85.8,344.1 L86.8,344.6 L87.7,344.6 L88.7,345.2 L89.6,345.4 L90.6,345.5 L91.5,345.5 L92.5,345.5 L93.4,345.5 L94.4,345.6 L95.3,345.3 L96.3,345.4 L97.2,345.6 L98.2,345.7 L99.1,345.6 L100.1,345.5 L101.0,345.5 L102.0,345.4 L102.9,345.5 L103.9,345.6 L104.8,345.7 L105.8,345.7 L106.7,345.5 L107.7,345.7 L108.6,345.4 L109.6,345.4 L110.5,345.6 L111.5,345.5 L112.4,345.7 L113.4,345.6 L114.3,345.5 L115.3,345.3 L116.2,345.7 L117.2,345.5 L118.1,345.5 L119.1,345.6 L120.0,345.6" fill="none" stroke="#2a2a2a" stroke-width="0.95" stroke-dasharray="2,1.9"/>
<path d="M64.0,341.9 L64.8,338.9 L65.5,341.5 L66.3,341.1 L67.0,339.8 L67.8,337.4 L68.5,334.7 L69.3,329.0 L70.1,321.8 L70.8,317.1 L71.6,306.5 L72.3,299.9 L73.1,298.0 L73.8,295.8 L74.6,295.1 L75.4,299.5 L76.1,300.4 L76.9,309.2 L77.6,312.0 L78.4,313.1 L79.1,317.2 L79.9,322.9 L80.6,327.0 L81.4,330.8 L82.2,332.6 L82.9,336.5 L83.7,338.4 L84.4,339.6 L85.2,341.5 L85.9,341.7 L86.7,341.7 L87.5,342.4 L88.2,343.1 L89.0,343.9 L89.7,344.5 L90.5,344.5 L91.2,344.5 L92.0,345.0 L92.8,344.9 L93.5,345.0 L94.3,345.3 L95.0,345.2 L95.8,345.2 L96.5,344.8 L97.3,345.4 L98.1,345.5 L98.8,345.0 L99.6,345.2 L100.3,345.4 L101.1,345.6 L101.8,345.6 L102.6,345.3 L103.4,344.8 L104.1,345.6 L104.9,345.0 L105.6,345.7 L106.4,345.3 L107.1,345.4 L107.9,345.2 L108.6,345.5 L109.4,345.7 L110.2,345.2 L110.9,345.3 L111.7,345.3 L112.4,345.6 L113.2,345.1 L113.9,345.5 L114.7,345.4 L115.5,345.6 L116.2,345.3 L117.0,345.6 L117.7,345.5 L118.5,345.7 L119.2,345.4 L120.0,345.5" fill="none" stroke="#111" stroke-width="0.95" stroke-linejoin="round"/>
<path d="M64.0,285.8 H120.0 V346.8" fill="none" stroke="#666" stroke-width="0.8"/>
<path d="M64.0,285.8 V346.8" fill="none" stroke="#222" stroke-width="0.8"/>
<path d="M63.6,346.8 H120.3" fill="none" stroke="#111" stroke-width="0.9"/>
<path d="M62.1,346.8 h2.4 M62.9,343.8 h1.6 M62.9,340.7 h1.6 M62.9,337.6 h1.6 M62.9,334.6 h1.6 M62.1,331.5 h2.4 M62.9,328.5 h1.6 M62.9,325.4 h1.6 M62.9,322.4 h1.6 M62.9,319.3 h1.6 M62.1,316.3 h2.4 M62.9,313.2 h1.6 M62.9,310.2 h1.6 M62.9,307.1 h1.6 M62.9,304.1 h1.6 M62.1,301.0 h2.4 M62.9,298.0 h1.6 M62.9,294.9 h1.6 M62.9,291.9 h1.6 M62.9,288.8 h1.6 M64.0,346.5 v2.0 M68.2,346.5 v1.1 M70.7,346.5 v1.1 M72.4,346.5 v1.1 M73.8,346.5 v1.1 M74.9,346.5 v1.1 M75.8,346.5 v1.1 M76.6,346.5 v1.1 M77.4,346.5 v1.1 M78.0,346.5 v2.0 M82.2,346.5 v1.1 M84.7,346.5 v1.1 M86.4,346.5 v1.1 M87.8,346.5 v1.1 M88.9,346.5 v1.1 M89.8,346.5 v1.1 M90.6,346.5 v1.1 M91.4,346.5 v1.1 M92.0,346.5 v2.0 M96.2,346.5 v1.1 M98.7,346.5 v1.1 M100.4,346.5 v1.1 M101.8,346.5 v1.1 M102.9,346.5 v1.1 M103.8,346.5 v1.1 M104.6,346.5 v1.1 M105.4,346.5 v1.1 M106.0,346.5 v2.0 M110.2,346.5 v1.1 M112.7,346.5 v1.1 M114.4,346.5 v1.1 M115.8,346.5 v1.1 M116.9,346.5 v1.1 M117.8,346.5 v1.1 M118.6,346.5 v1.1 M119.4,346.5 v1.1 M120.0,346.5 v2" fill="none" stroke="#111" stroke-width="0.95"/>
<text transform="translate(60.0,355.8) scale(0.77,1)" class="tk">10<tspan dy="-2.5" class="sp">0</tspan></text>
<text transform="translate(74.0,355.8) scale(0.77,1)" class="tk">10<tspan dy="-2.5" class="sp">1</tspan></text>
<text transform="translate(88.0,355.8) scale(0.77,1)" class="tk">10<tspan dy="-2.5" class="sp">2</tspan></text>
<text transform="translate(102.0,355.8) scale(0.77,1)" class="tk">10<tspan dy="-2.5" class="sp">3</tspan></text>
<text transform="translate(116.0,355.8) scale(0.77,1)" class="tk">10<tspan dy="-2.5" class="sp">4</tspan></text>
<text x="110.0" y="297.1" class="nm">7</text>
<path d="M128.4,345.7 L128.4,339.2 L129.2,338.4 L129.9,342.2 L130.7,343.3 L131.4,344.9 L132.2,344.6 L132.9,344.7 L133.7,344.6 L134.5,345.2 L135.2,345.2 L136.0,344.5 L136.7,345.2 L137.5,345.1 L138.2,345.1 L139.0,344.5 L139.8,344.8 L140.5,345.2 L141.3,345.2 L142.0,344.9 L142.8,345.0 L143.5,345.0 L144.3,345.1 L145.0,345.2 L145.8,345.0 L146.6,344.6 L147.3,345.2 L148.1,344.7 L148.8,345.0 L149.6,345.2 L150.3,344.9 L151.1,343.9 L151.9,343.0 L152.6,340.4 L153.4,338.3 L154.1,334.5 L154.9,333.0 L155.6,329.9 L156.4,326.5 L157.2,324.1 L157.9,325.4 L158.7,321.0 L159.4,320.5 L160.2,318.9 L160.9,313.3 L161.7,307.9 L162.5,303.7 L163.2,303.0 L164.0,302.9 L164.7,304.8 L165.5,312.3 L166.2,317.5 L167.0,320.6 L167.8,327.2 L168.5,328.4 L169.3,333.7 L170.0,337.6 L170.8,337.6 L171.5,339.4 L172.3,341.2 L173.0,341.2 L173.8,342.9 L174.6,342.3 L175.3,344.1 L176.1,344.1 L176.8,344.7 L177.6,345.5 L178.3,345.2 L179.1,345.7 L179.9,345.5 L180.6,345.6 L181.4,345.1 L182.1,345.3 L182.9,345.6 L183.6,345.6 L184.4,345.3 L184.4,345.7 Z" fill="#c9c9c9" stroke="none"/>
<path d="M128.4,345.7 L129.3,345.1 L130.3,343.8 L131.2,341.4 L132.2,336.5 L133.1,329.4 L134.1,321.8 L135.0,319.2 L136.0,310.6 L136.9,308.4 L137.9,305.6 L138.8,301.6 L139.8,304.9 L140.7,303.8 L141.7,303.3 L142.6,310.9 L143.6,319.0 L144.5,322.2 L145.5,329.0 L146.4,335.1 L147.4,338.0 L148.3,341.6 L149.3,343.7 L150.2,345.1 L151.2,345.4 L152.1,345.6 L153.1,345.4 L154.0,345.5 L155.0,345.5 L155.9,345.6 L156.9,345.7 L157.8,345.3 L158.8,345.6 L159.7,345.2 L160.7,345.6 L161.6,345.6 L162.6,345.6 L163.5,345.5 L164.5,345.5 L165.4,345.4 L166.4,345.6 L167.3,345.5 L168.3,345.7 L169.2,345.4 L170.2,345.7 L171.1,345.4 L172.1,345.6 L173.0,345.5 L174.0,345.6 L174.9,345.4 L175.9,345.3 L176.8,345.2 L177.8,345.4 L178.7,345.6 L179.7,345.6 L180.6,345.7 L181.6,345.5 L182.5,345.6 L183.5,345.6 L184.4,345.4" fill="none" stroke="#2a2a2a" stroke-width="0.95" stroke-dasharray="2,1.9"/>
<path d="M128.4,339.2 L129.2,338.4 L129.9,342.2 L130.7,343.3 L131.4,344.9 L132.2,344.6 L132.9,344.7 L133.7,344.6 L134.5,345.2 L135.2,345.2 L136.0,344.5 L136.7,345.2 L137.5,345.1 L138.2,345.1 L139.0,344.5 L139.8,344.8 L140.5,345.2 L141.3,345.2 L142.0,344.9 L142.8,345.0 L143.5,345.0 L144.3,345.1 L145.0,345.2 L145.8,345.0 L146.6,344.6 L147.3,345.2 L148.1,344.7 L148.8,345.0 L149.6,345.2 L150.3,344.9 L151.1,343.9 L151.9,343.0 L152.6,340.4 L153.4,338.3 L154.1,334.5 L154.9,333.0 L155.6,329.9 L156.4,326.5 L157.2,324.1 L157.9,325.4 L158.7,321.0 L159.4,320.5 L160.2,318.9 L160.9,313.3 L161.7,307.9 L162.5,303.7 L163.2,303.0 L164.0,302.9 L164.7,304.8 L165.5,312.3 L166.2,317.5 L167.0,320.6 L167.8,327.2 L168.5,328.4 L169.3,333.7 L170.0,337.6 L170.8,337.6 L171.5,339.4 L172.3,341.2 L173.0,341.2 L173.8,342.9 L174.6,342.3 L175.3,344.1 L176.1,344.1 L176.8,344.7 L177.6,345.5 L178.3,345.2 L179.1,345.7 L179.9,345.5 L180.6,345.6 L181.4,345.1 L182.1,345.3 L182.9,345.6 L183.6,345.6 L184.4,345.3" fill="none" stroke="#111" stroke-width="0.95" stroke-linejoin="round"/>
<path d="M128.4,285.8 H184.4 V346.8" fill="none" stroke="#666" stroke-width="0.8"/>
<path d="M128.4,285.8 V346.8" fill="none" stroke="#222" stroke-width="0.8"/>
<path d="M128.0,346.8 H184.7" fill="none" stroke="#111" stroke-width="0.9"/>
<path d="M126.5,346.8 h2.4 M127.3,343.8 h1.6 M127.3,340.7 h1.6 M127.3,337.6 h1.6 M127.3,334.6 h1.6 M126.5,331.5 h2.4 M127.3,328.5 h1.6 M127.3,325.4 h1.6 M127.3,322.4 h1.6 M127.3,319.3 h1.6 M126.5,316.3 h2.4 M127.3,313.2 h1.6 M127.3,310.2 h1.6 M127.3,307.1 h1.6 M127.3,304.1 h1.6 M126.5,301.0 h2.4 M127.3,298.0 h1.6 M127.3,294.9 h1.6 M127.3,291.9 h1.6 M127.3,288.8 h1.6 M128.4,346.5 v2.0 M132.6,346.5 v1.1 M135.1,346.5 v1.1 M136.8,346.5 v1.1 M138.2,346.5 v1.1 M139.3,346.5 v1.1 M140.2,346.5 v1.1 M141.0,346.5 v1.1 M141.8,346.5 v1.1 M142.4,346.5 v2.0 M146.6,346.5 v1.1 M149.1,346.5 v1.1 M150.8,346.5 v1.1 M152.2,346.5 v1.1 M153.3,346.5 v1.1 M154.2,346.5 v1.1 M155.0,346.5 v1.1 M155.8,346.5 v1.1 M156.4,346.5 v2.0 M160.6,346.5 v1.1 M163.1,346.5 v1.1 M164.8,346.5 v1.1 M166.2,346.5 v1.1 M167.3,346.5 v1.1 M168.2,346.5 v1.1 M169.0,346.5 v1.1 M169.8,346.5 v1.1 M170.4,346.5 v2.0 M174.6,346.5 v1.1 M177.1,346.5 v1.1 M178.8,346.5 v1.1 M180.2,346.5 v1.1 M181.3,346.5 v1.1 M182.2,346.5 v1.1 M183.0,346.5 v1.1 M183.8,346.5 v1.1 M184.4,346.5 v2" fill="none" stroke="#111" stroke-width="0.95"/>
<text transform="translate(124.4,355.8) scale(0.77,1)" class="tk">10<tspan dy="-2.5" class="sp">0</tspan></text>
<text transform="translate(138.4,355.8) scale(0.77,1)" class="tk">10<tspan dy="-2.5" class="sp">1</tspan></text>
<text transform="translate(152.4,355.8) scale(0.77,1)" class="tk">10<tspan dy="-2.5" class="sp">2</tspan></text>
<text transform="translate(166.4,355.8) scale(0.77,1)" class="tk">10<tspan dy="-2.5" class="sp">3</tspan></text>
<text transform="translate(180.4,355.8) scale(0.77,1)" class="tk">10<tspan dy="-2.5" class="sp">4</tspan></text>
<text x="171.6" y="297.1" class="nm">233</text>
<path d="M195.1,345.7 L195.1,340.2 L195.9,339.2 L196.6,341.2 L197.4,343.2 L198.1,342.1 L198.9,343.4 L199.6,341.9 L200.4,342.3 L201.2,340.6 L201.9,341.0 L202.7,340.3 L203.4,338.9 L204.2,336.0 L204.9,333.6 L205.7,333.3 L206.5,329.8 L207.2,324.0 L208.0,318.1 L208.7,316.9 L209.5,315.9 L210.2,308.1 L211.0,308.8 L211.7,303.8 L212.5,301.9 L213.3,304.8 L214.0,307.3 L214.8,308.8 L215.5,313.6 L216.3,317.0 L217.0,321.4 L217.8,325.3 L218.6,329.3 L219.3,330.4 L220.1,333.1 L220.8,337.6 L221.6,337.7 L222.3,339.2 L223.1,340.3 L223.9,343.0 L224.6,344.0 L225.4,344.7 L226.1,345.0 L226.9,345.3 L227.6,345.3 L228.4,345.5 L229.2,345.1 L229.9,345.6 L230.7,345.6 L231.4,345.0 L232.2,345.3 L232.9,345.7 L233.7,345.5 L234.5,345.7 L235.2,345.1 L236.0,345.6 L236.7,345.5 L237.5,345.6 L238.2,345.4 L239.0,345.3 L239.7,345.6 L240.5,345.1 L241.3,345.4 L242.0,345.7 L242.8,345.5 L243.5,345.6 L244.3,345.1 L245.0,345.4 L245.8,345.6 L246.6,345.7 L247.3,345.2 L248.1,345.4 L248.8,345.5 L249.6,345.6 L250.3,345.5 L251.1,345.5 L251.1,345.7 Z" fill="#c9c9c9" stroke="none"/>
<path d="M195.1,345.4 L196.0,344.6 L197.0,343.8 L197.9,341.3 L198.9,338.4 L199.8,332.4 L200.8,324.2 L201.7,316.8 L202.7,309.5 L203.6,303.1 L204.6,298.3 L205.5,299.1 L206.5,297.5 L207.4,303.4 L208.4,307.1 L209.3,309.2 L210.3,314.5 L211.2,321.6 L212.2,325.5 L213.1,328.4 L214.1,333.7 L215.0,336.6 L216.0,338.9 L216.9,340.7 L217.9,342.4 L218.8,343.4 L219.8,343.6 L220.7,344.7 L221.7,344.9 L222.6,345.3 L223.6,345.5 L224.5,345.6 L225.5,345.3 L226.4,345.5 L227.4,345.7 L228.3,345.5 L229.3,345.5 L230.2,345.4 L231.2,345.6 L232.1,345.4 L233.1,345.4 L234.0,345.4 L235.0,345.5 L235.9,345.4 L236.9,345.2 L237.8,345.7 L238.8,345.4 L239.7,345.7 L240.7,345.6 L241.6,345.7 L242.6,345.4 L243.5,345.5 L244.5,345.4 L245.4,345.6 L246.4,345.5 L247.3,345.6 L248.3,345.7 L249.2,345.3 L250.2,345.5 L251.1,345.3" fill="none" stroke="#2a2a2a" stroke-width="0.95" stroke-dasharray="2,1.9"/>
<path d="M195.1,340.2 L195.9,339.2 L196.6,341.2 L197.4,343.2 L198.1,342.1 L198.9,343.4 L199.6,341.9 L200.4,342.3 L201.2,340.6 L201.9,341.0 L202.7,340.3 L203.4,338.9 L204.2,336.0 L204.9,333.6 L205.7,333.3 L206.5,329.8 L207.2,324.0 L208.0,318.1 L208.7,316.9 L209.5,315.9 L210.2,308.1 L211.0,308.8 L211.7,303.8 L212.5,301.9 L213.3,304.8 L214.0,307.3 L214.8,308.8 L215.5,313.6 L216.3,317.0 L217.0,321.4 L217.8,325.3 L218.6,329.3 L219.3,330.4 L220.1,333.1 L220.8,337.6 L221.6,337.7 L222.3,339.2 L223.1,340.3 L223.9,343.0 L224.6,344.0 L225.4,344.7 L226.1,345.0 L226.9,345.3 L227.6,345.3 L228.4,345.5 L229.2,345.1 L229.9,345.6 L230.7,345.6 L231.4,345.0 L232.2,345.3 L232.9,345.7 L233.7,345.5 L234.5,345.7 L235.2,345.1 L236.0,345.6 L236.7,345.5 L237.5,345.6 L238.2,345.4 L239.0,345.3 L239.7,345.6 L240.5,345.1 L241.3,345.4 L242.0,345.7 L242.8,345.5 L243.5,345.6 L244.3,345.1 L245.0,345.4 L245.8,345.6 L246.6,345.7 L247.3,345.2 L248.1,345.4 L248.8,345.5 L249.6,345.6 L250.3,345.5 L251.1,345.5" fill="none" stroke="#111" stroke-width="0.95" stroke-linejoin="round"/>
<path d="M195.1,285.8 H251.1 V346.8" fill="none" stroke="#666" stroke-width="0.8"/>
<path d="M195.1,285.8 V346.8" fill="none" stroke="#222" stroke-width="0.8"/>
<path d="M194.7,346.8 H251.4" fill="none" stroke="#111" stroke-width="0.9"/>
<path d="M193.2,346.8 h2.4 M194.0,343.8 h1.6 M194.0,340.7 h1.6 M194.0,337.6 h1.6 M194.0,334.6 h1.6 M193.2,331.5 h2.4 M194.0,328.5 h1.6 M194.0,325.4 h1.6 M194.0,322.4 h1.6 M194.0,319.3 h1.6 M193.2,316.3 h2.4 M194.0,313.2 h1.6 M194.0,310.2 h1.6 M194.0,307.1 h1.6 M194.0,304.1 h1.6 M193.2,301.0 h2.4 M194.0,298.0 h1.6 M194.0,294.9 h1.6 M194.0,291.9 h1.6 M194.0,288.8 h1.6 M195.1,346.5 v2.0 M199.3,346.5 v1.1 M201.8,346.5 v1.1 M203.5,346.5 v1.1 M204.9,346.5 v1.1 M206.0,346.5 v1.1 M206.9,346.5 v1.1 M207.7,346.5 v1.1 M208.5,346.5 v1.1 M209.1,346.5 v2.0 M213.3,346.5 v1.1 M215.8,346.5 v1.1 M217.5,346.5 v1.1 M218.9,346.5 v1.1 M220.0,346.5 v1.1 M220.9,346.5 v1.1 M221.7,346.5 v1.1 M222.5,346.5 v1.1 M223.1,346.5 v2.0 M227.3,346.5 v1.1 M229.8,346.5 v1.1 M231.5,346.5 v1.1 M232.9,346.5 v1.1 M234.0,346.5 v1.1 M234.9,346.5 v1.1 M235.7,346.5 v1.1 M236.5,346.5 v1.1 M237.1,346.5 v2.0 M241.3,346.5 v1.1 M243.8,346.5 v1.1 M245.5,346.5 v1.1 M246.9,346.5 v1.1 M248.0,346.5 v1.1 M248.9,346.5 v1.1 M249.7,346.5 v1.1 M250.5,346.5 v1.1 M251.1,346.5 v2" fill="none" stroke="#111" stroke-width="0.95"/>
<text transform="translate(191.1,355.8) scale(0.77,1)" class="tk">10<tspan dy="-2.5" class="sp">0</tspan></text>
<text transform="translate(205.1,355.8) scale(0.77,1)" class="tk">10<tspan dy="-2.5" class="sp">1</tspan></text>
<text transform="translate(219.1,355.8) scale(0.77,1)" class="tk">10<tspan dy="-2.5" class="sp">2</tspan></text>
<text transform="translate(233.1,355.8) scale(0.77,1)" class="tk">10<tspan dy="-2.5" class="sp">3</tspan></text>
<text transform="translate(247.1,355.8) scale(0.77,1)" class="tk">10<tspan dy="-2.5" class="sp">4</tspan></text>
<text x="239.0" y="297.1" class="nm">21</text>
<path d="M261.6,345.7 L261.6,340.1 L262.4,339.8 L263.1,341.7 L263.9,343.3 L264.6,343.1 L265.4,342.3 L266.1,340.9 L266.9,341.6 L267.7,340.7 L268.4,336.8 L269.2,337.1 L269.9,333.5 L270.7,333.1 L271.4,332.9 L272.2,328.2 L273.0,327.6 L273.7,322.8 L274.5,324.3 L275.2,322.6 L276.0,317.0 L276.7,315.8 L277.5,315.0 L278.2,311.8 L279.0,312.0 L279.8,315.8 L280.5,316.3 L281.3,315.5 L282.0,317.1 L282.8,317.7 L283.5,314.6 L284.3,314.7 L285.1,314.0 L285.8,315.4 L286.6,316.6 L287.3,321.8 L288.1,323.8 L288.8,329.7 L289.6,331.7 L290.4,334.2 L291.1,338.1 L291.9,339.7 L292.6,340.2 L293.4,341.4 L294.1,342.0 L294.9,342.5 L295.7,342.6 L296.4,342.8 L297.2,344.4 L297.9,344.8 L298.7,344.6 L299.4,344.8 L300.2,344.9 L301.0,344.7 L301.7,345.0 L302.5,345.3 L303.2,344.9 L304.0,345.2 L304.7,345.6 L305.5,345.0 L306.2,345.6 L307.0,345.7 L307.8,345.0 L308.5,345.3 L309.3,345.4 L310.0,345.4 L310.8,345.3 L311.5,345.5 L312.3,344.8 L313.1,345.4 L313.8,345.5 L314.6,345.7 L315.3,345.5 L316.1,345.2 L316.8,345.7 L317.6,345.4 L317.6,345.7 Z" fill="#c9c9c9" stroke="none"/>
<path d="M261.6,345.3 L262.5,344.9 L263.5,343.6 L264.4,341.9 L265.4,338.0 L266.3,331.7 L267.3,326.9 L268.2,318.9 L269.2,312.9 L270.1,300.3 L271.1,300.0 L272.0,295.7 L273.0,303.5 L273.9,302.7 L274.9,311.1 L275.8,314.5 L276.8,317.6 L277.7,326.0 L278.7,329.6 L279.6,333.7 L280.6,337.2 L281.5,339.7 L282.5,341.9 L283.4,343.0 L284.4,344.0 L285.3,344.5 L286.3,345.1 L287.2,345.2 L288.2,345.4 L289.1,345.6 L290.1,345.6 L291.0,345.3 L292.0,345.6 L292.9,345.4 L293.9,345.6 L294.8,345.3 L295.8,345.5 L296.7,345.3 L297.7,345.4 L298.6,345.6 L299.6,345.3 L300.5,345.7 L301.5,345.7 L302.4,345.6 L303.4,345.6 L304.3,345.6 L305.3,345.6 L306.2,345.5 L307.2,345.5 L308.1,345.6 L309.1,345.6 L310.0,345.6 L311.0,345.7 L311.9,345.5 L312.9,345.6 L313.8,345.7 L314.8,345.6 L315.7,345.5 L316.7,345.5 L317.6,345.6" fill="none" stroke="#2a2a2a" stroke-width="0.95" stroke-dasharray="2,1.9"/>
<path d="M261.6,340.1 L262.4,339.8 L263.1,341.7 L263.9,343.3 L264.6,343.1 L265.4,342.3 L266.1,340.9 L266.9,341.6 L267.7,340.7 L268.4,336.8 L269.2,337.1 L269.9,333.5 L270.7,333.1 L271.4,332.9 L272.2,328.2 L273.0,327.6 L273.7,322.8 L274.5,324.3 L275.2,322.6 L276.0,317.0 L276.7,315.8 L277.5,315.0 L278.2,311.8 L279.0,312.0 L279.8,315.8 L280.5,316.3 L281.3,315.5 L282.0,317.1 L282.8,317.7 L283.5,314.6 L284.3,314.7 L285.1,314.0 L285.8,315.4 L286.6,316.6 L287.3,321.8 L288.1,323.8 L288.8,329.7 L289.6,331.7 L290.4,334.2 L291.1,338.1 L291.9,339.7 L292.6,340.2 L293.4,341.4 L294.1,342.0 L294.9,342.5 L295.7,342.6 L296.4,342.8 L297.2,344.4 L297.9,344.8 L298.7,344.6 L299.4,344.8 L300.2,344.9 L301.0,344.7 L301.7,345.0 L302.5,345.3 L303.2,344.9 L304.0,345.2 L304.7,345.6 L305.5,345.0 L306.2,345.6 L307.0,345.7 L307.8,345.0 L308.5,345.3 L309.3,345.4 L310.0,345.4 L310.8,345.3 L311.5,345.5 L312.3,344.8 L313.1,345.4 L313.8,345.5 L314.6,345.7 L315.3,345.5 L316.1,345.2 L316.8,345.7 L317.6,345.4" fill="none" stroke="#111" stroke-width="0.95" stroke-linejoin="round"/>
<path d="M261.6,285.8 H317.6 V346.8" fill="none" stroke="#666" stroke-width="0.8"/>
<path d="M261.6,285.8 V346.8" fill="none" stroke="#222" stroke-width="0.8"/>
<path d="M261.2,346.8 H317.9" fill="none" stroke="#111" stroke-width="0.9"/>
<path d="M259.7,346.8 h2.4 M260.5,343.8 h1.6 M260.5,340.7 h1.6 M260.5,337.6 h1.6 M260.5,334.6 h1.6 M259.7,331.5 h2.4 M260.5,328.5 h1.6 M260.5,325.4 h1.6 M260.5,322.4 h1.6 M260.5,319.3 h1.6 M259.7,316.3 h2.4 M260.5,313.2 h1.6 M260.5,310.2 h1.6 M260.5,307.1 h1.6 M260.5,304.1 h1.6 M259.7,301.0 h2.4 M260.5,298.0 h1.6 M260.5,294.9 h1.6 M260.5,291.9 h1.6 M260.5,288.8 h1.6 M261.6,346.5 v2.0 M265.8,346.5 v1.1 M268.3,346.5 v1.1 M270.0,346.5 v1.1 M271.4,346.5 v1.1 M272.5,346.5 v1.1 M273.4,346.5 v1.1 M274.2,346.5 v1.1 M275.0,346.5 v1.1 M275.6,346.5 v2.0 M279.8,346.5 v1.1 M282.3,346.5 v1.1 M284.0,346.5 v1.1 M285.4,346.5 v1.1 M286.5,346.5 v1.1 M287.4,346.5 v1.1 M288.2,346.5 v1.1 M289.0,346.5 v1.1 M289.6,346.5 v2.0 M293.8,346.5 v1.1 M296.3,346.5 v1.1 M298.0,346.5 v1.1 M299.4,346.5 v1.1 M300.5,346.5 v1.1 M301.4,346.5 v1.1 M302.2,346.5 v1.1 M303.0,346.5 v1.1 M303.6,346.5 v2.0 M307.8,346.5 v1.1 M310.3,346.5 v1.1 M312.0,346.5 v1.1 M313.4,346.5 v1.1 M314.5,346.5 v1.1 M315.4,346.5 v1.1 M316.2,346.5 v1.1 M317.0,346.5 v1.1 M317.6,346.5 v2" fill="none" stroke="#111" stroke-width="0.95"/>
<text transform="translate(257.6,355.8) scale(0.77,1)" class="tk">10<tspan dy="-2.5" class="sp">0</tspan></text>
<text transform="translate(271.6,355.8) scale(0.77,1)" class="tk">10<tspan dy="-2.5" class="sp">1</tspan></text>
<text transform="translate(285.6,355.8) scale(0.77,1)" class="tk">10<tspan dy="-2.5" class="sp">2</tspan></text>
<text transform="translate(299.6,355.8) scale(0.77,1)" class="tk">10<tspan dy="-2.5" class="sp">3</tspan></text>
<text transform="translate(313.6,355.8) scale(0.77,1)" class="tk">10<tspan dy="-2.5" class="sp">4</tspan></text>
<text x="305.5" y="297.1" class="nm">28</text>
<path d="M327.1,345.7 L327.1,341.4 L327.9,338.2 L328.6,340.1 L329.4,340.9 L330.1,339.4 L330.9,336.9 L331.6,332.7 L332.4,329.3 L333.2,323.9 L333.9,322.5 L334.7,317.6 L335.4,311.8 L336.2,303.9 L336.9,303.2 L337.7,297.2 L338.5,296.9 L339.2,299.4 L340.0,296.7 L340.7,302.6 L341.5,306.9 L342.2,313.8 L343.0,313.2 L343.7,317.6 L344.5,324.6 L345.3,327.5 L346.0,329.7 L346.8,334.5 L347.5,335.6 L348.3,337.1 L349.0,340.2 L349.8,340.8 L350.6,340.5 L351.3,342.8 L352.1,341.8 L352.8,344.1 L353.6,344.5 L354.3,344.0 L355.1,345.1 L355.9,344.9 L356.6,345.3 L357.4,345.3 L358.1,345.4 L358.9,345.5 L359.6,345.6 L360.4,345.4 L361.2,345.6 L361.9,345.4 L362.7,345.6 L363.4,345.4 L364.2,345.3 L364.9,345.5 L365.7,345.6 L366.5,345.4 L367.2,345.4 L368.0,345.1 L368.7,345.6 L369.5,345.4 L370.2,345.6 L371.0,345.7 L371.7,345.6 L372.5,345.3 L373.3,345.4 L374.0,345.5 L374.8,345.3 L375.5,345.5 L376.3,345.5 L377.0,345.4 L377.8,345.4 L378.6,345.5 L379.3,344.9 L380.1,345.6 L380.8,345.4 L381.6,345.4 L382.3,345.6 L383.1,345.4 L383.1,345.7 Z" fill="#c9c9c9" stroke="none"/>
<path d="M327.1,344.8 L328.0,343.9 L329.0,342.3 L329.9,340.7 L330.9,337.5 L331.8,333.0 L332.8,327.0 L333.7,321.9 L334.7,312.1 L335.6,305.7 L336.6,304.8 L337.5,301.5 L338.5,302.2 L339.4,300.6 L340.4,305.2 L341.3,304.3 L342.3,313.0 L343.2,317.6 L344.2,320.3 L345.1,327.8 L346.1,331.7 L347.0,336.4 L348.0,338.5 L348.9,341.2 L349.9,342.2 L350.8,343.0 L351.8,344.1 L352.7,345.0 L353.7,345.3 L354.6,345.3 L355.6,345.5 L356.5,345.5 L357.5,345.6 L358.4,345.6 L359.4,345.5 L360.3,345.5 L361.3,345.6 L362.2,345.6 L363.2,345.4 L364.1,345.5 L365.1,345.4 L366.0,345.7 L367.0,345.6 L367.9,345.6 L368.9,345.3 L369.8,345.6 L370.8,345.4 L371.7,345.4 L372.7,345.3 L373.6,345.6 L374.6,345.5 L375.5,345.4 L376.5,345.3 L377.4,345.5 L378.4,345.6 L379.3,345.7 L380.3,345.3 L381.2,345.6 L382.2,345.6 L383.1,345.5" fill="none" stroke="#2a2a2a" stroke-width="0.95" stroke-dasharray="2,1.9"/>
<path d="M327.1,341.4 L327.9,338.2 L328.6,340.1 L329.4,340.9 L330.1,339.4 L330.9,336.9 L331.6,332.7 L332.4,329.3 L333.2,323.9 L333.9,322.5 L334.7,317.6 L335.4,311.8 L336.2,303.9 L336.9,303.2 L337.7,297.2 L338.5,296.9 L339.2,299.4 L340.0,296.7 L340.7,302.6 L341.5,306.9 L342.2,313.8 L343.0,313.2 L343.7,317.6 L344.5,324.6 L345.3,327.5 L346.0,329.7 L346.8,334.5 L347.5,335.6 L348.3,337.1 L349.0,340.2 L349.8,340.8 L350.6,340.5 L351.3,342.8 L352.1,341.8 L352.8,344.1 L353.6,344.5 L354.3,344.0 L355.1,345.1 L355.9,344.9 L356.6,345.3 L357.4,345.3 L358.1,345.4 L358.9,345.5 L359.6,345.6 L360.4,345.4 L361.2,345.6 L361.9,345.4 L362.7,345.6 L363.4,345.4 L364.2,345.3 L364.9,345.5 L365.7,345.6 L366.5,345.4 L367.2,345.4 L368.0,345.1 L368.7,345.6 L369.5,345.4 L370.2,345.6 L371.0,345.7 L371.7,345.6 L372.5,345.3 L373.3,345.4 L374.0,345.5 L374.8,345.3 L375.5,345.5 L376.3,345.5 L377.0,345.4 L377.8,345.4 L378.6,345.5 L379.3,344.9 L380.1,345.6 L380.8,345.4 L381.6,345.4 L382.3,345.6 L383.1,345.4" fill="none" stroke="#111" stroke-width="0.95" stroke-linejoin="round"/>
<path d="M327.1,285.8 H383.1 V346.8" fill="none" stroke="#666" stroke-width="0.8"/>
<path d="M327.1,285.8 V346.8" fill="none" stroke="#222" stroke-width="0.8"/>
<path d="M326.7,346.8 H383.4" fill="none" stroke="#111" stroke-width="0.9"/>
<path d="M325.2,346.8 h2.4 M326.0,343.8 h1.6 M326.0,340.7 h1.6 M326.0,337.6 h1.6 M326.0,334.6 h1.6 M325.2,331.5 h2.4 M326.0,328.5 h1.6 M326.0,325.4 h1.6 M326.0,322.4 h1.6 M326.0,319.3 h1.6 M325.2,316.3 h2.4 M326.0,313.2 h1.6 M326.0,310.2 h1.6 M326.0,307.1 h1.6 M326.0,304.1 h1.6 M325.2,301.0 h2.4 M326.0,298.0 h1.6 M326.0,294.9 h1.6 M326.0,291.9 h1.6 M326.0,288.8 h1.6 M327.1,346.5 v2.0 M331.3,346.5 v1.1 M333.8,346.5 v1.1 M335.5,346.5 v1.1 M336.9,346.5 v1.1 M338.0,346.5 v1.1 M338.9,346.5 v1.1 M339.7,346.5 v1.1 M340.5,346.5 v1.1 M341.1,346.5 v2.0 M345.3,346.5 v1.1 M347.8,346.5 v1.1 M349.5,346.5 v1.1 M350.9,346.5 v1.1 M352.0,346.5 v1.1 M352.9,346.5 v1.1 M353.7,346.5 v1.1 M354.5,346.5 v1.1 M355.1,346.5 v2.0 M359.3,346.5 v1.1 M361.8,346.5 v1.1 M363.5,346.5 v1.1 M364.9,346.5 v1.1 M366.0,346.5 v1.1 M366.9,346.5 v1.1 M367.7,346.5 v1.1 M368.5,346.5 v1.1 M369.1,346.5 v2.0 M373.3,346.5 v1.1 M375.8,346.5 v1.1 M377.5,346.5 v1.1 M378.9,346.5 v1.1 M380.0,346.5 v1.1 M380.9,346.5 v1.1 M381.7,346.5 v1.1 M382.5,346.5 v1.1 M383.1,346.5 v2" fill="none" stroke="#111" stroke-width="0.95"/>
<text transform="translate(323.1,355.8) scale(0.77,1)" class="tk">10<tspan dy="-2.5" class="sp">0</tspan></text>
<text transform="translate(337.1,355.8) scale(0.77,1)" class="tk">10<tspan dy="-2.5" class="sp">1</tspan></text>
<text transform="translate(351.1,355.8) scale(0.77,1)" class="tk">10<tspan dy="-2.5" class="sp">2</tspan></text>
<text transform="translate(365.1,355.8) scale(0.77,1)" class="tk">10<tspan dy="-2.5" class="sp">3</tspan></text>
<text transform="translate(379.1,355.8) scale(0.77,1)" class="tk">10<tspan dy="-2.5" class="sp">4</tspan></text>
<text x="373.1" y="297.1" class="nm">8</text>
<path d="M392.2,345.7 L392.2,341.6 L393.0,340.1 L393.7,342.4 L394.5,344.3 L395.2,344.8 L396.0,345.1 L396.7,345.2 L397.5,345.2 L398.3,345.1 L399.0,345.2 L399.8,344.6 L400.5,345.0 L401.3,344.8 L402.0,345.0 L402.8,344.7 L403.6,345.1 L404.3,345.0 L405.1,345.1 L405.8,344.9 L406.6,345.1 L407.3,344.9 L408.1,344.7 L408.8,345.0 L409.6,345.0 L410.4,344.4 L411.1,345.2 L411.9,345.0 L412.6,345.3 L413.4,345.1 L414.1,345.3 L414.9,344.7 L415.7,342.8 L416.4,340.9 L417.2,338.5 L417.9,335.6 L418.7,332.1 L419.4,327.1 L420.2,325.4 L421.0,320.4 L421.7,316.7 L422.5,313.1 L423.2,306.7 L424.0,305.3 L424.7,305.3 L425.5,296.1 L426.3,301.0 L427.0,297.0 L427.8,299.7 L428.5,304.9 L429.3,309.2 L430.0,315.0 L430.8,317.7 L431.6,318.4 L432.3,320.3 L433.1,323.0 L433.8,324.7 L434.6,327.0 L435.3,330.7 L436.1,335.6 L436.8,336.3 L437.6,339.8 L438.4,338.9 L439.1,341.5 L439.9,343.4 L440.6,343.9 L441.4,345.0 L442.1,344.8 L442.9,345.4 L443.7,345.3 L444.4,345.0 L445.2,345.4 L445.9,345.0 L446.7,345.2 L447.4,345.7 L448.2,345.5 L448.2,345.7 Z" fill="#c9c9c9" stroke="none"/>
<path d="M392.2,344.7 L393.1,343.9 L394.1,341.6 L395.0,339.3 L396.0,334.9 L396.9,329.0 L397.9,321.9 L398.8,313.9 L399.8,306.6 L400.7,300.3 L401.7,301.8 L402.6,303.4 L403.6,302.5 L404.5,308.9 L405.5,311.5 L406.4,321.1 L407.4,325.7 L408.3,331.4 L409.3,335.2 L410.2,337.8 L411.2,341.5 L412.1,342.2 L413.1,344.2 L414.0,344.9 L415.0,345.1 L415.9,345.5 L416.9,345.5 L417.8,345.3 L418.8,345.6 L419.7,345.6 L420.7,345.4 L421.6,345.5 L422.6,345.6 L423.5,345.3 L424.5,345.6 L425.4,345.7 L426.4,345.5 L427.3,345.2 L428.3,345.6 L429.2,345.5 L430.2,345.7 L431.1,345.4 L432.1,345.7 L433.0,345.5 L434.0,345.6 L434.9,345.4 L435.9,345.5 L436.8,345.4 L437.8,345.6 L438.7,345.5 L439.7,345.6 L440.6,345.2 L441.6,345.6 L442.5,345.5 L443.5,345.6 L444.4,345.6 L445.4,345.5 L446.3,345.5 L447.3,345.6 L448.2,345.6" fill="none" stroke="#2a2a2a" stroke-width="0.95" stroke-dasharray="2,1.9"/>
<path d="M392.2,341.6 L393.0,340.1 L393.7,342.4 L394.5,344.3 L395.2,344.8 L396.0,345.1 L396.7,345.2 L397.5,345.2 L398.3,345.1 L399.0,345.2 L399.8,344.6 L400.5,345.0 L401.3,344.8 L402.0,345.0 L402.8,344.7 L403.6,345.1 L404.3,345.0 L405.1,345.1 L405.8,344.9 L406.6,345.1 L407.3,344.9 L408.1,344.7 L408.8,345.0 L409.6,345.0 L410.4,344.4 L411.1,345.2 L411.9,345.0 L412.6,345.3 L413.4,345.1 L414.1,345.3 L414.9,344.7 L415.7,342.8 L416.4,340.9 L417.2,338.5 L417.9,335.6 L418.7,332.1 L419.4,327.1 L420.2,325.4 L421.0,320.4 L421.7,316.7 L422.5,313.1 L423.2,306.7 L424.0,305.3 L424.7,305.3 L425.5,296.1 L426.3,301.0 L427.0,297.0 L427.8,299.7 L428.5,304.9 L429.3,309.2 L430.0,315.0 L430.8,317.7 L431.6,318.4 L432.3,320.3 L433.1,323.0 L433.8,324.7 L434.6,327.0 L435.3,330.7 L436.1,335.6 L436.8,336.3 L437.6,339.8 L438.4,338.9 L439.1,341.5 L439.9,343.4 L440.6,343.9 L441.4,345.0 L442.1,344.8 L442.9,345.4 L443.7,345.3 L444.4,345.0 L445.2,345.4 L445.9,345.0 L446.7,345.2 L447.4,345.7 L448.2,345.5" fill="none" stroke="#111" stroke-width="0.95" stroke-linejoin="round"/>
<path d="M392.2,285.8 H448.2 V346.8" fill="none" stroke="#666" stroke-width="0.8"/>
<path d="M392.2,285.8 V346.8" fill="none" stroke="#222" stroke-width="0.8"/>
<path d="M391.8,346.8 H448.5" fill="none" stroke="#111" stroke-width="0.9"/>
<path d="M390.3,346.8 h2.4 M391.1,343.8 h1.6 M391.1,340.7 h1.6 M391.1,337.6 h1.6 M391.1,334.6 h1.6 M390.3,331.5 h2.4 M391.1,328.5 h1.6 M391.1,325.4 h1.6 M391.1,322.4 h1.6 M391.1,319.3 h1.6 M390.3,316.3 h2.4 M391.1,313.2 h1.6 M391.1,310.2 h1.6 M391.1,307.1 h1.6 M391.1,304.1 h1.6 M390.3,301.0 h2.4 M391.1,298.0 h1.6 M391.1,294.9 h1.6 M391.1,291.9 h1.6 M391.1,288.8 h1.6 M392.2,346.5 v2.0 M396.4,346.5 v1.1 M398.9,346.5 v1.1 M400.6,346.5 v1.1 M402.0,346.5 v1.1 M403.1,346.5 v1.1 M404.0,346.5 v1.1 M404.8,346.5 v1.1 M405.6,346.5 v1.1 M406.2,346.5 v2.0 M410.4,346.5 v1.1 M412.9,346.5 v1.1 M414.6,346.5 v1.1 M416.0,346.5 v1.1 M417.1,346.5 v1.1 M418.0,346.5 v1.1 M418.8,346.5 v1.1 M419.6,346.5 v1.1 M420.2,346.5 v2.0 M424.4,346.5 v1.1 M426.9,346.5 v1.1 M428.6,346.5 v1.1 M430.0,346.5 v1.1 M431.1,346.5 v1.1 M432.0,346.5 v1.1 M432.8,346.5 v1.1 M433.6,346.5 v1.1 M434.2,346.5 v2.0 M438.4,346.5 v1.1 M440.9,346.5 v1.1 M442.6,346.5 v1.1 M444.0,346.5 v1.1 M445.1,346.5 v1.1 M446.0,346.5 v1.1 M446.8,346.5 v1.1 M447.6,346.5 v1.1 M448.2,346.5 v2" fill="none" stroke="#111" stroke-width="0.95"/>
<text transform="translate(388.2,355.8) scale(0.77,1)" class="tk">10<tspan dy="-2.5" class="sp">0</tspan></text>
<text transform="translate(402.2,355.8) scale(0.77,1)" class="tk">10<tspan dy="-2.5" class="sp">1</tspan></text>
<text transform="translate(416.2,355.8) scale(0.77,1)" class="tk">10<tspan dy="-2.5" class="sp">2</tspan></text>
<text transform="translate(430.2,355.8) scale(0.77,1)" class="tk">10<tspan dy="-2.5" class="sp">3</tspan></text>
<text transform="translate(444.2,355.8) scale(0.77,1)" class="tk">10<tspan dy="-2.5" class="sp">4</tspan></text>
<text x="435.4" y="297.1" class="nm">375</text>
<path d="M458.3,345.7 L458.3,338.6 L459.1,336.7 L459.8,338.1 L460.6,339.0 L461.3,337.6 L462.1,336.4 L462.8,334.5 L463.6,332.0 L464.4,330.5 L465.1,328.9 L465.9,325.5 L466.6,325.1 L467.4,321.9 L468.1,320.3 L468.9,320.3 L469.7,315.7 L470.4,313.9 L471.2,306.1 L471.9,303.0 L472.7,304.6 L473.4,308.3 L474.2,315.7 L474.9,320.8 L475.7,327.9 L476.5,330.8 L477.2,335.6 L478.0,337.8 L478.7,338.7 L479.5,339.1 L480.2,340.0 L481.0,340.6 L481.8,341.4 L482.5,340.9 L483.3,340.3 L484.0,340.8 L484.8,342.3 L485.5,340.8 L486.3,341.5 L487.1,342.4 L487.8,342.2 L488.6,342.2 L489.3,342.8 L490.1,339.9 L490.8,342.3 L491.6,342.3 L492.4,341.9 L493.1,342.5 L493.9,342.5 L494.6,342.0 L495.4,342.5 L496.1,342.2 L496.9,342.9 L497.7,342.9 L498.4,342.8 L499.2,342.9 L499.9,342.8 L500.7,340.7 L501.4,343.6 L502.2,343.9 L502.9,344.1 L503.7,344.3 L504.5,345.1 L505.2,345.3 L506.0,345.4 L506.7,345.5 L507.5,345.1 L508.2,345.6 L509.0,345.5 L509.8,345.6 L510.5,345.6 L511.3,345.3 L512.0,345.3 L512.8,345.7 L513.5,345.4 L514.3,345.2 L514.3,345.7 Z" fill="#c9c9c9" stroke="none"/>
<path d="M458.3,343.3 L459.2,341.1 L460.2,340.4 L461.1,337.7 L462.1,334.6 L463.0,332.6 L464.0,331.2 L464.9,327.8 L465.9,326.5 L466.8,323.0 L467.8,323.2 L468.7,319.4 L469.7,317.7 L470.6,313.1 L471.6,310.1 L472.5,304.0 L473.5,305.5 L474.4,318.6 L475.4,324.7 L476.3,330.1 L477.3,335.4 L478.2,338.0 L479.2,339.6 L480.1,340.2 L481.1,342.1 L482.0,342.0 L483.0,341.8 L483.9,342.7 L484.9,343.4 L485.8,342.7 L486.8,343.9 L487.7,343.4 L488.7,343.7 L489.6,343.7 L490.6,343.8 L491.5,343.4 L492.5,344.2 L493.4,344.2 L494.4,344.4 L495.3,344.7 L496.3,344.5 L497.2,344.6 L498.2,344.6 L499.1,344.6 L500.1,345.0 L501.0,345.0 L502.0,345.0 L502.9,345.3 L503.9,345.4 L504.8,345.6 L505.8,345.4 L506.7,345.3 L507.7,345.6 L508.6,345.6 L509.6,345.7 L510.5,345.5 L511.5,345.3 L512.4,345.7 L513.4,345.4 L514.3,345.5" fill="none" stroke="#2a2a2a" stroke-width="0.95" stroke-dasharray="2,1.9"/>
<path d="M458.3,338.6 L459.1,336.7 L459.8,338.1 L460.6,339.0 L461.3,337.6 L462.1,336.4 L462.8,334.5 L463.6,332.0 L464.4,330.5 L465.1,328.9 L465.9,325.5 L466.6,325.1 L467.4,321.9 L468.1,320.3 L468.9,320.3 L469.7,315.7 L470.4,313.9 L471.2,306.1 L471.9,303.0 L472.7,304.6 L473.4,308.3 L474.2,315.7 L474.9,320.8 L475.7,327.9 L476.5,330.8 L477.2,335.6 L478.0,337.8 L478.7,338.7 L479.5,339.1 L480.2,340.0 L481.0,340.6 L481.8,341.4 L482.5,340.9 L483.3,340.3 L484.0,340.8 L484.8,342.3 L485.5,340.8 L486.3,341.5 L487.1,342.4 L487.8,342.2 L488.6,342.2 L489.3,342.8 L490.1,339.9 L490.8,342.3 L491.6,342.3 L492.4,341.9 L493.1,342.5 L493.9,342.5 L494.6,342.0 L495.4,342.5 L496.1,342.2 L496.9,342.9 L497.7,342.9 L498.4,342.8 L499.2,342.9 L499.9,342.8 L500.7,340.7 L501.4,343.6 L502.2,343.9 L502.9,344.1 L503.7,344.3 L504.5,345.1 L505.2,345.3 L506.0,345.4 L506.7,345.5 L507.5,345.1 L508.2,345.6 L509.0,345.5 L509.8,345.6 L510.5,345.6 L511.3,345.3 L512.0,345.3 L512.8,345.7 L513.5,345.4 L514.3,345.2" fill="none" stroke="#111" stroke-width="0.95" stroke-linejoin="round"/>
<path d="M458.3,285.8 H514.3 V346.8" fill="none" stroke="#666" stroke-width="0.8"/>
<path d="M458.3,285.8 V346.8" fill="none" stroke="#222" stroke-width="0.8"/>
<path d="M457.9,346.8 H514.6" fill="none" stroke="#111" stroke-width="0.9"/>
<path d="M456.4,346.8 h2.4 M457.2,343.8 h1.6 M457.2,340.7 h1.6 M457.2,337.6 h1.6 M457.2,334.6 h1.6 M456.4,331.5 h2.4 M457.2,328.5 h1.6 M457.2,325.4 h1.6 M457.2,322.4 h1.6 M457.2,319.3 h1.6 M456.4,316.3 h2.4 M457.2,313.2 h1.6 M457.2,310.2 h1.6 M457.2,307.1 h1.6 M457.2,304.1 h1.6 M456.4,301.0 h2.4 M457.2,298.0 h1.6 M457.2,294.9 h1.6 M457.2,291.9 h1.6 M457.2,288.8 h1.6 M458.3,346.5 v2.0 M462.5,346.5 v1.1 M465.0,346.5 v1.1 M466.7,346.5 v1.1 M468.1,346.5 v1.1 M469.2,346.5 v1.1 M470.1,346.5 v1.1 M470.9,346.5 v1.1 M471.7,346.5 v1.1 M472.3,346.5 v2.0 M476.5,346.5 v1.1 M479.0,346.5 v1.1 M480.7,346.5 v1.1 M482.1,346.5 v1.1 M483.2,346.5 v1.1 M484.1,346.5 v1.1 M484.9,346.5 v1.1 M485.7,346.5 v1.1 M486.3,346.5 v2.0 M490.5,346.5 v1.1 M493.0,346.5 v1.1 M494.7,346.5 v1.1 M496.1,346.5 v1.1 M497.2,346.5 v1.1 M498.1,346.5 v1.1 M498.9,346.5 v1.1 M499.7,346.5 v1.1 M500.3,346.5 v2.0 M504.5,346.5 v1.1 M507.0,346.5 v1.1 M508.7,346.5 v1.1 M510.1,346.5 v1.1 M511.2,346.5 v1.1 M512.1,346.5 v1.1 M512.9,346.5 v1.1 M513.7,346.5 v1.1 M514.3,346.5 v2" fill="none" stroke="#111" stroke-width="0.95"/>
<text transform="translate(454.3,355.8) scale(0.77,1)" class="tk">10<tspan dy="-2.5" class="sp">0</tspan></text>
<text transform="translate(468.3,355.8) scale(0.77,1)" class="tk">10<tspan dy="-2.5" class="sp">1</tspan></text>
<text transform="translate(482.3,355.8) scale(0.77,1)" class="tk">10<tspan dy="-2.5" class="sp">2</tspan></text>
<text transform="translate(496.3,355.8) scale(0.77,1)" class="tk">10<tspan dy="-2.5" class="sp">3</tspan></text>
<text transform="translate(510.3,355.8) scale(0.77,1)" class="tk">10<tspan dy="-2.5" class="sp">4</tspan></text>
<text x="502.2" y="297.1" class="nm">17</text>
<path d="M64.0,419.8 L64.0,416.3 L64.8,414.3 L65.5,416.4 L66.3,418.1 L67.0,418.1 L67.8,416.6 L68.5,415.6 L69.3,411.1 L70.1,408.2 L70.8,402.6 L71.6,397.2 L72.3,388.0 L73.1,385.6 L73.8,380.8 L74.6,374.3 L75.4,369.5 L76.1,375.2 L76.9,381.6 L77.6,383.1 L78.4,379.6 L79.1,389.0 L79.9,392.6 L80.6,397.1 L81.4,398.9 L82.2,405.7 L82.9,408.7 L83.7,410.8 L84.4,413.7 L85.2,413.4 L85.9,416.1 L86.7,416.4 L87.5,417.6 L88.2,417.6 L89.0,418.4 L89.7,418.9 L90.5,419.2 L91.2,419.4 L92.0,419.3 L92.8,419.2 L93.5,419.2 L94.3,419.4 L95.0,419.7 L95.8,419.5 L96.5,419.4 L97.3,419.7 L98.1,419.5 L98.8,419.8 L99.6,419.7 L100.3,419.6 L101.1,419.8 L101.8,419.4 L102.6,419.2 L103.4,419.1 L104.1,419.5 L104.9,419.7 L105.6,419.0 L106.4,419.3 L107.1,419.7 L107.9,419.5 L108.6,419.3 L109.4,419.8 L110.2,419.3 L110.9,419.1 L111.7,419.6 L112.4,419.4 L113.2,419.1 L113.9,419.4 L114.7,419.4 L115.5,419.6 L116.2,419.6 L117.0,419.7 L117.7,419.3 L118.5,419.3 L119.2,419.6 L120.0,419.6 L120.0,419.8 Z" fill="#c9c9c9" stroke="none"/>
<path d="M64.0,419.5 L64.9,419.1 L65.9,418.8 L66.8,418.5 L67.8,417.1 L68.7,414.2 L69.7,409.8 L70.6,403.4 L71.6,394.1 L72.5,388.4 L73.5,378.0 L74.4,375.6 L75.4,370.0 L76.3,376.9 L77.3,376.6 L78.2,385.1 L79.2,389.1 L80.1,397.3 L81.1,401.1 L82.0,407.6 L83.0,411.1 L83.9,414.3 L84.9,416.2 L85.8,417.4 L86.8,418.6 L87.7,419.2 L88.7,419.5 L89.6,419.5 L90.6,419.6 L91.5,419.5 L92.5,419.7 L93.4,419.5 L94.4,419.7 L95.3,419.7 L96.3,419.7 L97.2,419.6 L98.2,419.8 L99.1,419.5 L100.1,419.5 L101.0,419.7 L102.0,419.8 L102.9,419.5 L103.9,419.5 L104.8,419.3 L105.8,419.4 L106.7,419.5 L107.7,419.6 L108.6,419.7 L109.6,419.8 L110.5,419.6 L111.5,419.4 L112.4,419.6 L113.4,419.1 L114.3,419.4 L115.3,419.6 L116.2,419.8 L117.2,419.7 L118.1,419.2 L119.1,419.7 L120.0,419.8" fill="none" stroke="#2a2a2a" stroke-width="0.95" stroke-dasharray="2,1.9"/>
<path d="M64.0,416.3 L64.8,414.3 L65.5,416.4 L66.3,418.1 L67.0,418.1 L67.8,416.6 L68.5,415.6 L69.3,411.1 L70.1,408.2 L70.8,402.6 L71.6,397.2 L72.3,388.0 L73.1,385.6 L73.8,380.8 L74.6,374.3 L75.4,369.5 L76.1,375.2 L76.9,381.6 L77.6,383.1 L78.4,379.6 L79.1,389.0 L79.9,392.6 L80.6,397.1 L81.4,398.9 L82.2,405.7 L82.9,408.7 L83.7,410.8 L84.4,413.7 L85.2,413.4 L85.9,416.1 L86.7,416.4 L87.5,417.6 L88.2,417.6 L89.0,418.4 L89.7,418.9 L90.5,419.2 L91.2,419.4 L92.0,419.3 L92.8,419.2 L93.5,419.2 L94.3,419.4 L95.0,419.7 L95.8,419.5 L96.5,419.4 L97.3,419.7 L98.1,419.5 L98.8,419.8 L99.6,419.7 L100.3,419.6 L101.1,419.8 L101.8,419.4 L102.6,419.2 L103.4,419.1 L104.1,419.5 L104.9,419.7 L105.6,419.0 L106.4,419.3 L107.1,419.7 L107.9,419.5 L108.6,419.3 L109.4,419.8 L110.2,419.3 L110.9,419.1 L111.7,419.6 L112.4,419.4 L113.2,419.1 L113.9,419.4 L114.7,419.4 L115.5,419.6 L116.2,419.6 L117.0,419.7 L117.7,419.3 L118.5,419.3 L119.2,419.6 L120.0,419.6" fill="none" stroke="#111" stroke-width="0.95" stroke-linejoin="round"/>
<path d="M64.0,359.8 H120.0 V420.9" fill="none" stroke="#666" stroke-width="0.8"/>
<path d="M64.0,359.8 V420.9" fill="none" stroke="#222" stroke-width="0.8"/>
<path d="M63.6,420.9 H120.3" fill="none" stroke="#111" stroke-width="0.9"/>
<path d="M62.1,420.9 h2.4 M62.9,417.9 h1.6 M62.9,414.8 h1.6 M62.9,411.8 h1.6 M62.9,408.7 h1.6 M62.1,405.6 h2.4 M62.9,402.6 h1.6 M62.9,399.5 h1.6 M62.9,396.5 h1.6 M62.9,393.4 h1.6 M62.1,390.4 h2.4 M62.9,387.3 h1.6 M62.9,384.3 h1.6 M62.9,381.2 h1.6 M62.9,378.2 h1.6 M62.1,375.1 h2.4 M62.9,372.1 h1.6 M62.9,369.0 h1.6 M62.9,366.0 h1.6 M62.9,362.9 h1.6 M64.0,420.6 v2.0 M68.2,420.6 v1.1 M70.7,420.6 v1.1 M72.4,420.6 v1.1 M73.8,420.6 v1.1 M74.9,420.6 v1.1 M75.8,420.6 v1.1 M76.6,420.6 v1.1 M77.4,420.6 v1.1 M78.0,420.6 v2.0 M82.2,420.6 v1.1 M84.7,420.6 v1.1 M86.4,420.6 v1.1 M87.8,420.6 v1.1 M88.9,420.6 v1.1 M89.8,420.6 v1.1 M90.6,420.6 v1.1 M91.4,420.6 v1.1 M92.0,420.6 v2.0 M96.2,420.6 v1.1 M98.7,420.6 v1.1 M100.4,420.6 v1.1 M101.8,420.6 v1.1 M102.9,420.6 v1.1 M103.8,420.6 v1.1 M104.6,420.6 v1.1 M105.4,420.6 v1.1 M106.0,420.6 v2.0 M110.2,420.6 v1.1 M112.7,420.6 v1.1 M114.4,420.6 v1.1 M115.8,420.6 v1.1 M116.9,420.6 v1.1 M117.8,420.6 v1.1 M118.6,420.6 v1.1 M119.4,420.6 v1.1 M120.0,420.6 v2" fill="none" stroke="#111" stroke-width="0.95"/>
<text transform="translate(60.0,429.9) scale(0.77,1)" class="tk">10<tspan dy="-2.5" class="sp">0</tspan></text>
<text transform="translate(74.0,429.9) scale(0.77,1)" class="tk">10<tspan dy="-2.5" class="sp">1</tspan></text>
<text transform="translate(88.0,429.9) scale(0.77,1)" class="tk">10<tspan dy="-2.5" class="sp">2</tspan></text>
<text transform="translate(102.0,429.9) scale(0.77,1)" class="tk">10<tspan dy="-2.5" class="sp">3</tspan></text>
<text transform="translate(116.0,429.9) scale(0.77,1)" class="tk">10<tspan dy="-2.5" class="sp">4</tspan></text>
<text x="110.0" y="371.1" class="nm">7</text>
<path d="M128.4,419.8 L128.4,415.6 L129.2,414.6 L129.9,414.8 L130.7,417.1 L131.4,419.2 L132.2,419.2 L132.9,419.1 L133.7,419.4 L134.5,419.0 L135.2,419.0 L136.0,419.3 L136.7,418.5 L137.5,418.2 L138.2,418.9 L139.0,419.1 L139.8,419.0 L140.5,419.1 L141.3,418.3 L142.0,418.9 L142.8,419.0 L143.5,419.0 L144.3,419.1 L145.0,419.1 L145.8,419.3 L146.6,418.6 L147.3,419.3 L148.1,419.2 L148.8,418.9 L149.6,418.7 L150.3,418.0 L151.1,416.2 L151.9,417.3 L152.6,415.4 L153.4,415.1 L154.1,412.7 L154.9,411.9 L155.6,411.4 L156.4,409.4 L157.2,410.0 L157.9,409.6 L158.7,407.4 L159.4,402.9 L160.2,401.0 L160.9,397.9 L161.7,391.7 L162.5,386.3 L163.2,381.6 L164.0,375.7 L164.7,377.9 L165.5,374.6 L166.2,368.7 L167.0,375.5 L167.8,379.0 L168.5,387.4 L169.3,393.5 L170.0,399.7 L170.8,407.8 L171.5,410.8 L172.3,414.4 L173.0,416.4 L173.8,418.6 L174.6,419.1 L175.3,418.9 L176.1,419.2 L176.8,419.0 L177.6,419.7 L178.3,419.8 L179.1,419.2 L179.9,419.2 L180.6,419.6 L181.4,419.6 L182.1,419.7 L182.9,419.5 L183.6,419.6 L184.4,419.5 L184.4,419.8 Z" fill="#c9c9c9" stroke="none"/>
<path d="M128.4,419.6 L129.3,419.6 L130.3,419.7 L131.2,419.6 L132.2,419.0 L133.1,418.1 L134.1,415.4 L135.0,409.8 L136.0,401.3 L136.9,389.1 L137.9,375.1 L138.8,365.8 L139.8,363.5 L140.7,366.8 L141.7,376.1 L142.6,383.5 L143.6,397.8 L144.5,403.1 L145.5,410.1 L146.4,414.5 L147.4,417.6 L148.3,418.4 L149.3,419.4 L150.2,419.5 L151.2,419.4 L152.1,419.7 L153.1,419.6 L154.0,419.5 L155.0,419.8 L155.9,419.8 L156.9,419.6 L157.8,419.7 L158.8,419.4 L159.7,419.7 L160.7,419.7 L161.6,419.5 L162.6,419.7 L163.5,419.6 L164.5,419.7 L165.4,419.6 L166.4,419.8 L167.3,419.8 L168.3,419.7 L169.2,419.5 L170.2,419.6 L171.1,419.7 L172.1,419.3 L173.0,419.7 L174.0,419.7 L174.9,419.7 L175.9,419.6 L176.8,419.3 L177.8,419.6 L178.7,419.8 L179.7,419.6 L180.6,419.6 L181.6,419.8 L182.5,419.6 L183.5,419.6 L184.4,419.5" fill="none" stroke="#2a2a2a" stroke-width="0.95" stroke-dasharray="2,1.9"/>
<path d="M128.4,415.6 L129.2,414.6 L129.9,414.8 L130.7,417.1 L131.4,419.2 L132.2,419.2 L132.9,419.1 L133.7,419.4 L134.5,419.0 L135.2,419.0 L136.0,419.3 L136.7,418.5 L137.5,418.2 L138.2,418.9 L139.0,419.1 L139.8,419.0 L140.5,419.1 L141.3,418.3 L142.0,418.9 L142.8,419.0 L143.5,419.0 L144.3,419.1 L145.0,419.1 L145.8,419.3 L146.6,418.6 L147.3,419.3 L148.1,419.2 L148.8,418.9 L149.6,418.7 L150.3,418.0 L151.1,416.2 L151.9,417.3 L152.6,415.4 L153.4,415.1 L154.1,412.7 L154.9,411.9 L155.6,411.4 L156.4,409.4 L157.2,410.0 L157.9,409.6 L158.7,407.4 L159.4,402.9 L160.2,401.0 L160.9,397.9 L161.7,391.7 L162.5,386.3 L163.2,381.6 L164.0,375.7 L164.7,377.9 L165.5,374.6 L166.2,368.7 L167.0,375.5 L167.8,379.0 L168.5,387.4 L169.3,393.5 L170.0,399.7 L170.8,407.8 L171.5,410.8 L172.3,414.4 L173.0,416.4 L173.8,418.6 L174.6,419.1 L175.3,418.9 L176.1,419.2 L176.8,419.0 L177.6,419.7 L178.3,419.8 L179.1,419.2 L179.9,419.2 L180.6,419.6 L181.4,419.6 L182.1,419.7 L182.9,419.5 L183.6,419.6 L184.4,419.5" fill="none" stroke="#111" stroke-width="0.95" stroke-linejoin="round"/>
<path d="M128.4,359.8 H184.4 V420.9" fill="none" stroke="#666" stroke-width="0.8"/>
<path d="M128.4,359.8 V420.9" fill="none" stroke="#222" stroke-width="0.8"/>
<path d="M128.0,420.9 H184.7" fill="none" stroke="#111" stroke-width="0.9"/>
<path d="M126.5,420.9 h2.4 M127.3,417.9 h1.6 M127.3,414.8 h1.6 M127.3,411.8 h1.6 M127.3,408.7 h1.6 M126.5,405.6 h2.4 M127.3,402.6 h1.6 M127.3,399.5 h1.6 M127.3,396.5 h1.6 M127.3,393.4 h1.6 M126.5,390.4 h2.4 M127.3,387.3 h1.6 M127.3,384.3 h1.6 M127.3,381.2 h1.6 M127.3,378.2 h1.6 M126.5,375.1 h2.4 M127.3,372.1 h1.6 M127.3,369.0 h1.6 M127.3,366.0 h1.6 M127.3,362.9 h1.6 M128.4,420.6 v2.0 M132.6,420.6 v1.1 M135.1,420.6 v1.1 M136.8,420.6 v1.1 M138.2,420.6 v1.1 M139.3,420.6 v1.1 M140.2,420.6 v1.1 M141.0,420.6 v1.1 M141.8,420.6 v1.1 M142.4,420.6 v2.0 M146.6,420.6 v1.1 M149.1,420.6 v1.1 M150.8,420.6 v1.1 M152.2,420.6 v1.1 M153.3,420.6 v1.1 M154.2,420.6 v1.1 M155.0,420.6 v1.1 M155.8,420.6 v1.1 M156.4,420.6 v2.0 M160.6,420.6 v1.1 M163.1,420.6 v1.1 M164.8,420.6 v1.1 M166.2,420.6 v1.1 M167.3,420.6 v1.1 M168.2,420.6 v1.1 M169.0,420.6 v1.1 M169.8,420.6 v1.1 M170.4,420.6 v2.0 M174.6,420.6 v1.1 M177.1,420.6 v1.1 M178.8,420.6 v1.1 M180.2,420.6 v1.1 M181.3,420.6 v1.1 M182.2,420.6 v1.1 M183.0,420.6 v1.1 M183.8,420.6 v1.1 M184.4,420.6 v2" fill="none" stroke="#111" stroke-width="0.95"/>
<text transform="translate(124.4,429.9) scale(0.77,1)" class="tk">10<tspan dy="-2.5" class="sp">0</tspan></text>
<text transform="translate(138.4,429.9) scale(0.77,1)" class="tk">10<tspan dy="-2.5" class="sp">1</tspan></text>
<text transform="translate(152.4,429.9) scale(0.77,1)" class="tk">10<tspan dy="-2.5" class="sp">2</tspan></text>
<text transform="translate(166.4,429.9) scale(0.77,1)" class="tk">10<tspan dy="-2.5" class="sp">3</tspan></text>
<text transform="translate(180.4,429.9) scale(0.77,1)" class="tk">10<tspan dy="-2.5" class="sp">4</tspan></text>
<text x="171.6" y="371.1" class="nm">395</text>
<path d="M195.1,419.8 L195.1,414.3 L195.9,411.9 L196.6,416.5 L197.4,417.8 L198.1,419.3 L198.9,419.7 L199.6,419.3 L200.4,419.1 L201.2,418.8 L201.9,418.8 L202.7,418.3 L203.4,416.1 L204.2,416.8 L204.9,413.6 L205.7,414.5 L206.5,411.6 L207.2,408.7 L208.0,405.5 L208.7,399.9 L209.5,398.5 L210.2,394.5 L211.0,391.5 L211.7,387.9 L212.5,385.1 L213.3,377.9 L214.0,379.3 L214.8,381.4 L215.5,376.0 L216.3,375.9 L217.0,377.3 L217.8,382.4 L218.6,386.3 L219.3,395.4 L220.1,398.4 L220.8,401.5 L221.6,407.5 L222.3,408.3 L223.1,410.3 L223.9,414.8 L224.6,416.0 L225.4,417.4 L226.1,417.2 L226.9,418.8 L227.6,419.2 L228.4,419.2 L229.2,419.4 L229.9,419.2 L230.7,419.4 L231.4,419.3 L232.2,419.7 L232.9,419.7 L233.7,419.5 L234.5,419.6 L235.2,419.7 L236.0,419.0 L236.7,419.5 L237.5,419.7 L238.2,419.6 L239.0,419.7 L239.7,419.6 L240.5,419.2 L241.3,419.6 L242.0,419.8 L242.8,419.7 L243.5,419.3 L244.3,419.4 L245.0,419.2 L245.8,419.4 L246.6,419.7 L247.3,419.5 L248.1,419.7 L248.8,419.7 L249.6,419.1 L250.3,419.6 L251.1,419.5 L251.1,419.8 Z" fill="#c9c9c9" stroke="none"/>
<path d="M195.1,419.6 L196.0,419.4 L197.0,419.2 L197.9,418.5 L198.9,416.4 L199.8,412.6 L200.8,405.4 L201.7,396.1 L202.7,381.0 L203.6,370.3 L204.6,371.5 L205.5,368.6 L206.5,374.8 L207.4,378.6 L208.4,383.4 L209.3,389.2 L210.3,394.1 L211.2,402.9 L212.2,408.3 L213.1,412.4 L214.1,413.9 L215.0,416.5 L216.0,418.2 L216.9,418.7 L217.9,419.3 L218.8,419.5 L219.8,419.5 L220.7,419.5 L221.7,419.3 L222.6,419.4 L223.6,419.8 L224.5,419.8 L225.5,419.7 L226.4,419.6 L227.4,419.6 L228.3,419.5 L229.3,419.7 L230.2,419.8 L231.2,419.7 L232.1,419.6 L233.1,419.8 L234.0,419.7 L235.0,419.8 L235.9,419.7 L236.9,419.7 L237.8,419.7 L238.8,419.5 L239.7,419.6 L240.7,419.8 L241.6,419.7 L242.6,419.7 L243.5,419.5 L244.5,419.7 L245.4,419.6 L246.4,419.8 L247.3,419.6 L248.3,419.5 L249.2,419.7 L250.2,419.6 L251.1,419.7" fill="none" stroke="#2a2a2a" stroke-width="0.95" stroke-dasharray="2,1.9"/>
<path d="M195.1,414.3 L195.9,411.9 L196.6,416.5 L197.4,417.8 L198.1,419.3 L198.9,419.7 L199.6,419.3 L200.4,419.1 L201.2,418.8 L201.9,418.8 L202.7,418.3 L203.4,416.1 L204.2,416.8 L204.9,413.6 L205.7,414.5 L206.5,411.6 L207.2,408.7 L208.0,405.5 L208.7,399.9 L209.5,398.5 L210.2,394.5 L211.0,391.5 L211.7,387.9 L212.5,385.1 L213.3,377.9 L214.0,379.3 L214.8,381.4 L215.5,376.0 L216.3,375.9 L217.0,377.3 L217.8,382.4 L218.6,386.3 L219.3,395.4 L220.1,398.4 L220.8,401.5 L221.6,407.5 L222.3,408.3 L223.1,410.3 L223.9,414.8 L224.6,416.0 L225.4,417.4 L226.1,417.2 L226.9,418.8 L227.6,419.2 L228.4,419.2 L229.2,419.4 L229.9,419.2 L230.7,419.4 L231.4,419.3 L232.2,419.7 L232.9,419.7 L233.7,419.5 L234.5,419.6 L235.2,419.7 L236.0,419.0 L236.7,419.5 L237.5,419.7 L238.2,419.6 L239.0,419.7 L239.7,419.6 L240.5,419.2 L241.3,419.6 L242.0,419.8 L242.8,419.7 L243.5,419.3 L244.3,419.4 L245.0,419.2 L245.8,419.4 L246.6,419.7 L247.3,419.5 L248.1,419.7 L248.8,419.7 L249.6,419.1 L250.3,419.6 L251.1,419.5" fill="none" stroke="#111" stroke-width="0.95" stroke-linejoin="round"/>
<path d="M195.1,359.8 H251.1 V420.9" fill="none" stroke="#666" stroke-width="0.8"/>
<path d="M195.1,359.8 V420.9" fill="none" stroke="#222" stroke-width="0.8"/>
<path d="M194.7,420.9 H251.4" fill="none" stroke="#111" stroke-width="0.9"/>
<path d="M193.2,420.9 h2.4 M194.0,417.9 h1.6 M194.0,414.8 h1.6 M194.0,411.8 h1.6 M194.0,408.7 h1.6 M193.2,405.6 h2.4 M194.0,402.6 h1.6 M194.0,399.5 h1.6 M194.0,396.5 h1.6 M194.0,393.4 h1.6 M193.2,390.4 h2.4 M194.0,387.3 h1.6 M194.0,384.3 h1.6 M194.0,381.2 h1.6 M194.0,378.2 h1.6 M193.2,375.1 h2.4 M194.0,372.1 h1.6 M194.0,369.0 h1.6 M194.0,366.0 h1.6 M194.0,362.9 h1.6 M195.1,420.6 v2.0 M199.3,420.6 v1.1 M201.8,420.6 v1.1 M203.5,420.6 v1.1 M204.9,420.6 v1.1 M206.0,420.6 v1.1 M206.9,420.6 v1.1 M207.7,420.6 v1.1 M208.5,420.6 v1.1 M209.1,420.6 v2.0 M213.3,420.6 v1.1 M215.8,420.6 v1.1 M217.5,420.6 v1.1 M218.9,420.6 v1.1 M220.0,420.6 v1.1 M220.9,420.6 v1.1 M221.7,420.6 v1.1 M222.5,420.6 v1.1 M223.1,420.6 v2.0 M227.3,420.6 v1.1 M229.8,420.6 v1.1 M231.5,420.6 v1.1 M232.9,420.6 v1.1 M234.0,420.6 v1.1 M234.9,420.6 v1.1 M235.7,420.6 v1.1 M236.5,420.6 v1.1 M237.1,420.6 v2.0 M241.3,420.6 v1.1 M243.8,420.6 v1.1 M245.5,420.6 v1.1 M246.9,420.6 v1.1 M248.0,420.6 v1.1 M248.9,420.6 v1.1 M249.7,420.6 v1.1 M250.5,420.6 v1.1 M251.1,420.6 v2" fill="none" stroke="#111" stroke-width="0.95"/>
<text transform="translate(191.1,429.9) scale(0.77,1)" class="tk">10<tspan dy="-2.5" class="sp">0</tspan></text>
<text transform="translate(205.1,429.9) scale(0.77,1)" class="tk">10<tspan dy="-2.5" class="sp">1</tspan></text>
<text transform="translate(219.1,429.9) scale(0.77,1)" class="tk">10<tspan dy="-2.5" class="sp">2</tspan></text>
<text transform="translate(233.1,429.9) scale(0.77,1)" class="tk">10<tspan dy="-2.5" class="sp">3</tspan></text>
<text transform="translate(247.1,429.9) scale(0.77,1)" class="tk">10<tspan dy="-2.5" class="sp">4</tspan></text>
<text x="239.0" y="371.1" class="nm">39</text>
<path d="M261.6,419.8 L261.6,416.4 L262.4,414.1 L263.1,416.9 L263.9,418.6 L264.6,419.1 L265.4,419.6 L266.1,419.5 L266.9,419.2 L267.7,419.1 L268.4,419.2 L269.2,419.2 L269.9,418.5 L270.7,417.0 L271.4,417.5 L272.2,416.1 L273.0,416.5 L273.7,414.9 L274.5,414.0 L275.2,412.6 L276.0,411.8 L276.7,410.0 L277.5,407.4 L278.2,406.6 L279.0,403.4 L279.8,400.8 L280.5,400.0 L281.3,394.3 L282.0,393.2 L282.8,385.5 L283.5,382.9 L284.3,373.0 L285.1,368.2 L285.8,372.3 L286.6,370.3 L287.3,372.7 L288.1,375.8 L288.8,382.1 L289.6,388.2 L290.4,400.4 L291.1,405.5 L291.9,408.8 L292.6,412.7 L293.4,415.6 L294.1,417.7 L294.9,419.1 L295.7,418.8 L296.4,419.3 L297.2,419.6 L297.9,419.3 L298.7,419.8 L299.4,419.3 L300.2,419.6 L301.0,419.7 L301.7,419.3 L302.5,419.6 L303.2,419.8 L304.0,419.4 L304.7,419.7 L305.5,419.6 L306.2,419.5 L307.0,419.6 L307.8,419.5 L308.5,419.5 L309.3,419.7 L310.0,419.6 L310.8,419.8 L311.5,419.6 L312.3,419.5 L313.1,419.8 L313.8,419.5 L314.6,419.6 L315.3,419.6 L316.1,419.7 L316.8,419.5 L317.6,419.7 L317.6,419.8 Z" fill="#c9c9c9" stroke="none"/>
<path d="M261.6,419.4 L262.5,419.4 L263.5,418.8 L264.4,416.9 L265.4,414.6 L266.3,409.9 L267.3,401.7 L268.2,391.6 L269.2,378.6 L270.1,370.1 L271.1,366.2 L272.0,363.8 L273.0,366.5 L273.9,373.0 L274.9,379.3 L275.8,385.2 L276.8,388.5 L277.7,395.1 L278.7,400.5 L279.6,406.4 L280.6,411.0 L281.5,412.5 L282.5,415.5 L283.4,417.3 L284.4,417.9 L285.3,418.6 L286.3,419.0 L287.2,419.4 L288.2,419.5 L289.1,419.6 L290.1,419.5 L291.0,419.6 L292.0,419.3 L292.9,419.7 L293.9,419.6 L294.8,419.5 L295.8,419.6 L296.7,419.7 L297.7,419.7 L298.6,419.6 L299.6,419.5 L300.5,419.6 L301.5,419.7 L302.4,419.6 L303.4,419.4 L304.3,419.7 L305.3,419.5 L306.2,419.2 L307.2,419.7 L308.1,419.4 L309.1,419.4 L310.0,419.6 L311.0,419.2 L311.9,419.5 L312.9,419.6 L313.8,419.7 L314.8,419.8 L315.7,419.7 L316.7,419.8 L317.6,419.8" fill="none" stroke="#2a2a2a" stroke-width="0.95" stroke-dasharray="2,1.9"/>
<path d="M261.6,416.4 L262.4,414.1 L263.1,416.9 L263.9,418.6 L264.6,419.1 L265.4,419.6 L266.1,419.5 L266.9,419.2 L267.7,419.1 L268.4,419.2 L269.2,419.2 L269.9,418.5 L270.7,417.0 L271.4,417.5 L272.2,416.1 L273.0,416.5 L273.7,414.9 L274.5,414.0 L275.2,412.6 L276.0,411.8 L276.7,410.0 L277.5,407.4 L278.2,406.6 L279.0,403.4 L279.8,400.8 L280.5,400.0 L281.3,394.3 L282.0,393.2 L282.8,385.5 L283.5,382.9 L284.3,373.0 L285.1,368.2 L285.8,372.3 L286.6,370.3 L287.3,372.7 L288.1,375.8 L288.8,382.1 L289.6,388.2 L290.4,400.4 L291.1,405.5 L291.9,408.8 L292.6,412.7 L293.4,415.6 L294.1,417.7 L294.9,419.1 L295.7,418.8 L296.4,419.3 L297.2,419.6 L297.9,419.3 L298.7,419.8 L299.4,419.3 L300.2,419.6 L301.0,419.7 L301.7,419.3 L302.5,419.6 L303.2,419.8 L304.0,419.4 L304.7,419.7 L305.5,419.6 L306.2,419.5 L307.0,419.6 L307.8,419.5 L308.5,419.5 L309.3,419.7 L310.0,419.6 L310.8,419.8 L311.5,419.6 L312.3,419.5 L313.1,419.8 L313.8,419.5 L314.6,419.6 L315.3,419.6 L316.1,419.7 L316.8,419.5 L317.6,419.7" fill="none" stroke="#111" stroke-width="0.95" stroke-linejoin="round"/>
<path d="M261.6,359.8 H317.6 V420.9" fill="none" stroke="#666" stroke-width="0.8"/>
<path d="M261.6,359.8 V420.9" fill="none" stroke="#222" stroke-width="0.8"/>
<path d="M261.2,420.9 H317.9" fill="none" stroke="#111" stroke-width="0.9"/>
<path d="M259.7,420.9 h2.4 M260.5,417.9 h1.6 M260.5,414.8 h1.6 M260.5,411.8 h1.6 M260.5,408.7 h1.6 M259.7,405.6 h2.4 M260.5,402.6 h1.6 M260.5,399.5 h1.6 M260.5,396.5 h1.6 M260.5,393.4 h1.6 M259.7,390.4 h2.4 M260.5,387.3 h1.6 M260.5,384.3 h1.6 M260.5,381.2 h1.6 M260.5,378.2 h1.6 M259.7,375.1 h2.4 M260.5,372.1 h1.6 M260.5,369.0 h1.6 M260.5,366.0 h1.6 M260.5,362.9 h1.6 M261.6,420.6 v2.0 M265.8,420.6 v1.1 M268.3,420.6 v1.1 M270.0,420.6 v1.1 M271.4,420.6 v1.1 M272.5,420.6 v1.1 M273.4,420.6 v1.1 M274.2,420.6 v1.1 M275.0,420.6 v1.1 M275.6,420.6 v2.0 M279.8,420.6 v1.1 M282.3,420.6 v1.1 M284.0,420.6 v1.1 M285.4,420.6 v1.1 M286.5,420.6 v1.1 M287.4,420.6 v1.1 M288.2,420.6 v1.1 M289.0,420.6 v1.1 M289.6,420.6 v2.0 M293.8,420.6 v1.1 M296.3,420.6 v1.1 M298.0,420.6 v1.1 M299.4,420.6 v1.1 M300.5,420.6 v1.1 M301.4,420.6 v1.1 M302.2,420.6 v1.1 M303.0,420.6 v1.1 M303.6,420.6 v2.0 M307.8,420.6 v1.1 M310.3,420.6 v1.1 M312.0,420.6 v1.1 M313.4,420.6 v1.1 M314.5,420.6 v1.1 M315.4,420.6 v1.1 M316.2,420.6 v1.1 M317.0,420.6 v1.1 M317.6,420.6 v2" fill="none" stroke="#111" stroke-width="0.95"/>
<text transform="translate(257.6,429.9) scale(0.77,1)" class="tk">10<tspan dy="-2.5" class="sp">0</tspan></text>
<text transform="translate(271.6,429.9) scale(0.77,1)" class="tk">10<tspan dy="-2.5" class="sp">1</tspan></text>
<text transform="translate(285.6,429.9) scale(0.77,1)" class="tk">10<tspan dy="-2.5" class="sp">2</tspan></text>
<text transform="translate(299.6,429.9) scale(0.77,1)" class="tk">10<tspan dy="-2.5" class="sp">3</tspan></text>
<text transform="translate(313.6,429.9) scale(0.77,1)" class="tk">10<tspan dy="-2.5" class="sp">4</tspan></text>
<text x="305.5" y="371.1" class="nm">45</text>
<path d="M327.1,419.8 L327.1,415.8 L327.9,414.3 L328.6,416.0 L329.4,417.0 L330.1,415.0 L330.9,410.4 L331.6,404.0 L332.4,402.5 L333.2,394.9 L333.9,390.9 L334.7,385.9 L335.4,385.3 L336.2,381.7 L336.9,379.0 L337.7,378.6 L338.5,376.0 L339.2,379.8 L340.0,377.4 L340.7,381.1 L341.5,386.0 L342.2,390.5 L343.0,397.5 L343.7,393.6 L344.5,393.6 L345.3,396.7 L346.0,397.4 L346.8,397.2 L347.5,397.1 L348.3,400.9 L349.0,406.7 L349.8,407.0 L350.6,411.5 L351.3,411.9 L352.1,412.4 L352.8,414.9 L353.6,417.2 L354.3,418.8 L355.1,419.4 L355.9,419.3 L356.6,419.5 L357.4,419.3 L358.1,419.6 L358.9,419.5 L359.6,419.7 L360.4,419.6 L361.2,419.7 L361.9,419.6 L362.7,419.2 L363.4,419.7 L364.2,419.2 L364.9,419.8 L365.7,419.2 L366.5,419.4 L367.2,419.8 L368.0,419.1 L368.7,419.8 L369.5,419.4 L370.2,419.3 L371.0,419.6 L371.7,419.5 L372.5,419.7 L373.3,419.5 L374.0,419.1 L374.8,419.7 L375.5,419.8 L376.3,419.7 L377.0,419.6 L377.8,419.4 L378.6,419.5 L379.3,419.8 L380.1,419.6 L380.8,419.1 L381.6,419.4 L382.3,419.4 L383.1,419.5 L383.1,419.8 Z" fill="#c9c9c9" stroke="none"/>
<path d="M327.1,419.5 L328.0,419.2 L329.0,419.1 L329.9,417.3 L330.9,415.1 L331.8,411.8 L332.8,405.6 L333.7,397.7 L334.7,384.3 L335.6,376.1 L336.6,373.0 L337.5,369.7 L338.5,368.1 L339.4,374.6 L340.4,380.9 L341.3,390.7 L342.3,397.7 L343.2,404.5 L344.2,408.7 L345.1,413.1 L346.1,416.1 L347.0,417.8 L348.0,418.6 L348.9,419.3 L349.9,419.4 L350.8,419.3 L351.8,419.7 L352.7,419.6 L353.7,419.4 L354.6,419.2 L355.6,419.8 L356.5,419.8 L357.5,419.8 L358.4,419.5 L359.4,419.6 L360.3,419.8 L361.3,419.8 L362.2,419.8 L363.2,419.8 L364.1,419.8 L365.1,419.7 L366.0,419.7 L367.0,419.7 L367.9,419.6 L368.9,419.8 L369.8,419.7 L370.8,419.6 L371.7,419.7 L372.7,419.5 L373.6,419.8 L374.6,419.5 L375.5,419.6 L376.5,419.8 L377.4,419.7 L378.4,419.6 L379.3,419.7 L380.3,419.7 L381.2,419.6 L382.2,419.5 L383.1,419.7" fill="none" stroke="#2a2a2a" stroke-width="0.95" stroke-dasharray="2,1.9"/>
<path d="M327.1,415.8 L327.9,414.3 L328.6,416.0 L329.4,417.0 L330.1,415.0 L330.9,410.4 L331.6,404.0 L332.4,402.5 L333.2,394.9 L333.9,390.9 L334.7,385.9 L335.4,385.3 L336.2,381.7 L336.9,379.0 L337.7,378.6 L338.5,376.0 L339.2,379.8 L340.0,377.4 L340.7,381.1 L341.5,386.0 L342.2,390.5 L343.0,397.5 L343.7,393.6 L344.5,393.6 L345.3,396.7 L346.0,397.4 L346.8,397.2 L347.5,397.1 L348.3,400.9 L349.0,406.7 L349.8,407.0 L350.6,411.5 L351.3,411.9 L352.1,412.4 L352.8,414.9 L353.6,417.2 L354.3,418.8 L355.1,419.4 L355.9,419.3 L356.6,419.5 L357.4,419.3 L358.1,419.6 L358.9,419.5 L359.6,419.7 L360.4,419.6 L361.2,419.7 L361.9,419.6 L362.7,419.2 L363.4,419.7 L364.2,419.2 L364.9,419.8 L365.7,419.2 L366.5,419.4 L367.2,419.8 L368.0,419.1 L368.7,419.8 L369.5,419.4 L370.2,419.3 L371.0,419.6 L371.7,419.5 L372.5,419.7 L373.3,419.5 L374.0,419.1 L374.8,419.7 L375.5,419.8 L376.3,419.7 L377.0,419.6 L377.8,419.4 L378.6,419.5 L379.3,419.8 L380.1,419.6 L380.8,419.1 L381.6,419.4 L382.3,419.4 L383.1,419.5" fill="none" stroke="#111" stroke-width="0.95" stroke-linejoin="round"/>
<path d="M327.1,359.8 H383.1 V420.9" fill="none" stroke="#666" stroke-width="0.8"/>
<path d="M327.1,359.8 V420.9" fill="none" stroke="#222" stroke-width="0.8"/>
<path d="M326.7,420.9 H383.4" fill="none" stroke="#111" stroke-width="0.9"/>
<path d="M325.2,420.9 h2.4 M326.0,417.9 h1.6 M326.0,414.8 h1.6 M326.0,411.8 h1.6 M326.0,408.7 h1.6 M325.2,405.6 h2.4 M326.0,402.6 h1.6 M326.0,399.5 h1.6 M326.0,396.5 h1.6 M326.0,393.4 h1.6 M325.2,390.4 h2.4 M326.0,387.3 h1.6 M326.0,384.3 h1.6 M326.0,381.2 h1.6 M326.0,378.2 h1.6 M325.2,375.1 h2.4 M326.0,372.1 h1.6 M326.0,369.0 h1.6 M326.0,366.0 h1.6 M326.0,362.9 h1.6 M327.1,420.6 v2.0 M331.3,420.6 v1.1 M333.8,420.6 v1.1 M335.5,420.6 v1.1 M336.9,420.6 v1.1 M338.0,420.6 v1.1 M338.9,420.6 v1.1 M339.7,420.6 v1.1 M340.5,420.6 v1.1 M341.1,420.6 v2.0 M345.3,420.6 v1.1 M347.8,420.6 v1.1 M349.5,420.6 v1.1 M350.9,420.6 v1.1 M352.0,420.6 v1.1 M352.9,420.6 v1.1 M353.7,420.6 v1.1 M354.5,420.6 v1.1 M355.1,420.6 v2.0 M359.3,420.6 v1.1 M361.8,420.6 v1.1 M363.5,420.6 v1.1 M364.9,420.6 v1.1 M366.0,420.6 v1.1 M366.9,420.6 v1.1 M367.7,420.6 v1.1 M368.5,420.6 v1.1 M369.1,420.6 v2.0 M373.3,420.6 v1.1 M375.8,420.6 v1.1 M377.5,420.6 v1.1 M378.9,420.6 v1.1 M380.0,420.6 v1.1 M380.9,420.6 v1.1 M381.7,420.6 v1.1 M382.5,420.6 v1.1 M383.1,420.6 v2" fill="none" stroke="#111" stroke-width="0.95"/>
<text transform="translate(323.1,429.9) scale(0.77,1)" class="tk">10<tspan dy="-2.5" class="sp">0</tspan></text>
<text transform="translate(337.1,429.9) scale(0.77,1)" class="tk">10<tspan dy="-2.5" class="sp">1</tspan></text>
<text transform="translate(351.1,429.9) scale(0.77,1)" class="tk">10<tspan dy="-2.5" class="sp">2</tspan></text>
<text transform="translate(365.1,429.9) scale(0.77,1)" class="tk">10<tspan dy="-2.5" class="sp">3</tspan></text>
<text transform="translate(379.1,429.9) scale(0.77,1)" class="tk">10<tspan dy="-2.5" class="sp">4</tspan></text>
<text x="371.0" y="371.1" class="nm">13</text>
<path d="M392.2,419.8 L392.2,413.3 L393.0,412.3 L393.7,413.7 L394.5,418.5 L395.2,419.1 L396.0,419.1 L396.7,419.0 L397.5,418.4 L398.3,419.2 L399.0,419.0 L399.8,419.2 L400.5,418.8 L401.3,419.0 L402.0,419.3 L402.8,418.9 L403.6,419.3 L404.3,418.9 L405.1,419.2 L405.8,418.7 L406.6,419.2 L407.3,419.2 L408.1,419.1 L408.8,418.4 L409.6,418.7 L410.4,419.1 L411.1,419.0 L411.9,419.1 L412.6,419.1 L413.4,419.2 L414.1,419.1 L414.9,419.2 L415.7,419.0 L416.4,418.8 L417.2,416.7 L417.9,414.4 L418.7,411.2 L419.4,410.0 L420.2,406.4 L421.0,403.8 L421.7,402.1 L422.5,398.3 L423.2,396.4 L424.0,395.2 L424.7,389.0 L425.5,386.4 L426.3,387.0 L427.0,384.3 L427.8,384.3 L428.5,381.9 L429.3,386.4 L430.0,383.4 L430.8,379.2 L431.6,381.4 L432.3,380.7 L433.1,384.9 L433.8,380.4 L434.6,384.5 L435.3,384.6 L436.1,391.8 L436.8,393.1 L437.6,398.5 L438.4,400.5 L439.1,407.0 L439.9,410.6 L440.6,414.0 L441.4,416.3 L442.1,419.2 L442.9,419.3 L443.7,419.6 L444.4,419.6 L445.2,419.8 L445.9,419.4 L446.7,419.5 L447.4,419.6 L448.2,419.8 L448.2,419.8 Z" fill="#c9c9c9" stroke="none"/>
<path d="M392.2,419.7 L393.1,419.5 L394.1,419.3 L395.0,418.0 L396.0,416.6 L396.9,412.5 L397.9,406.7 L398.8,397.3 L399.8,388.1 L400.7,380.0 L401.7,370.6 L402.6,365.8 L403.6,373.0 L404.5,373.8 L405.5,381.2 L406.4,390.2 L407.4,394.6 L408.3,398.7 L409.3,404.9 L410.2,410.7 L411.2,413.9 L412.1,415.4 L413.1,417.3 L414.0,418.3 L415.0,419.1 L415.9,419.3 L416.9,419.6 L417.8,419.6 L418.8,419.7 L419.7,419.6 L420.7,419.8 L421.6,419.7 L422.6,419.5 L423.5,419.7 L424.5,419.5 L425.4,419.7 L426.4,419.7 L427.3,419.5 L428.3,419.6 L429.2,419.6 L430.2,419.6 L431.1,419.7 L432.1,419.5 L433.0,419.6 L434.0,419.8 L434.9,419.7 L435.9,419.7 L436.8,419.4 L437.8,419.7 L438.7,419.7 L439.7,419.6 L440.6,419.5 L441.6,419.6 L442.5,419.7 L443.5,419.7 L444.4,419.5 L445.4,419.7 L446.3,419.7 L447.3,419.7 L448.2,419.8" fill="none" stroke="#2a2a2a" stroke-width="0.95" stroke-dasharray="2,1.9"/>
<path d="M392.2,413.3 L393.0,412.3 L393.7,413.7 L394.5,418.5 L395.2,419.1 L396.0,419.1 L396.7,419.0 L397.5,418.4 L398.3,419.2 L399.0,419.0 L399.8,419.2 L400.5,418.8 L401.3,419.0 L402.0,419.3 L402.8,418.9 L403.6,419.3 L404.3,418.9 L405.1,419.2 L405.8,418.7 L406.6,419.2 L407.3,419.2 L408.1,419.1 L408.8,418.4 L409.6,418.7 L410.4,419.1 L411.1,419.0 L411.9,419.1 L412.6,419.1 L413.4,419.2 L414.1,419.1 L414.9,419.2 L415.7,419.0 L416.4,418.8 L417.2,416.7 L417.9,414.4 L418.7,411.2 L419.4,410.0 L420.2,406.4 L421.0,403.8 L421.7,402.1 L422.5,398.3 L423.2,396.4 L424.0,395.2 L424.7,389.0 L425.5,386.4 L426.3,387.0 L427.0,384.3 L427.8,384.3 L428.5,381.9 L429.3,386.4 L430.0,383.4 L430.8,379.2 L431.6,381.4 L432.3,380.7 L433.1,384.9 L433.8,380.4 L434.6,384.5 L435.3,384.6 L436.1,391.8 L436.8,393.1 L437.6,398.5 L438.4,400.5 L439.1,407.0 L439.9,410.6 L440.6,414.0 L441.4,416.3 L442.1,419.2 L442.9,419.3 L443.7,419.6 L444.4,419.6 L445.2,419.8 L445.9,419.4 L446.7,419.5 L447.4,419.6 L448.2,419.8" fill="none" stroke="#111" stroke-width="0.95" stroke-linejoin="round"/>
<path d="M392.2,359.8 H448.2 V420.9" fill="none" stroke="#666" stroke-width="0.8"/>
<path d="M392.2,359.8 V420.9" fill="none" stroke="#222" stroke-width="0.8"/>
<path d="M391.8,420.9 H448.5" fill="none" stroke="#111" stroke-width="0.9"/>
<path d="M390.3,420.9 h2.4 M391.1,417.9 h1.6 M391.1,414.8 h1.6 M391.1,411.8 h1.6 M391.1,408.7 h1.6 M390.3,405.6 h2.4 M391.1,402.6 h1.6 M391.1,399.5 h1.6 M391.1,396.5 h1.6 M391.1,393.4 h1.6 M390.3,390.4 h2.4 M391.1,387.3 h1.6 M391.1,384.3 h1.6 M391.1,381.2 h1.6 M391.1,378.2 h1.6 M390.3,375.1 h2.4 M391.1,372.1 h1.6 M391.1,369.0 h1.6 M391.1,366.0 h1.6 M391.1,362.9 h1.6 M392.2,420.6 v2.0 M396.4,420.6 v1.1 M398.9,420.6 v1.1 M400.6,420.6 v1.1 M402.0,420.6 v1.1 M403.1,420.6 v1.1 M404.0,420.6 v1.1 M404.8,420.6 v1.1 M405.6,420.6 v1.1 M406.2,420.6 v2.0 M410.4,420.6 v1.1 M412.9,420.6 v1.1 M414.6,420.6 v1.1 M416.0,420.6 v1.1 M417.1,420.6 v1.1 M418.0,420.6 v1.1 M418.8,420.6 v1.1 M419.6,420.6 v1.1 M420.2,420.6 v2.0 M424.4,420.6 v1.1 M426.9,420.6 v1.1 M428.6,420.6 v1.1 M430.0,420.6 v1.1 M431.1,420.6 v1.1 M432.0,420.6 v1.1 M432.8,420.6 v1.1 M433.6,420.6 v1.1 M434.2,420.6 v2.0 M438.4,420.6 v1.1 M440.9,420.6 v1.1 M442.6,420.6 v1.1 M444.0,420.6 v1.1 M445.1,420.6 v1.1 M446.0,420.6 v1.1 M446.8,420.6 v1.1 M447.6,420.6 v1.1 M448.2,420.6 v2" fill="none" stroke="#111" stroke-width="0.95"/>
<text transform="translate(388.2,429.9) scale(0.77,1)" class="tk">10<tspan dy="-2.5" class="sp">0</tspan></text>
<text transform="translate(402.2,429.9) scale(0.77,1)" class="tk">10<tspan dy="-2.5" class="sp">1</tspan></text>
<text transform="translate(416.2,429.9) scale(0.77,1)" class="tk">10<tspan dy="-2.5" class="sp">2</tspan></text>
<text transform="translate(430.2,429.9) scale(0.77,1)" class="tk">10<tspan dy="-2.5" class="sp">3</tspan></text>
<text transform="translate(444.2,429.9) scale(0.77,1)" class="tk">10<tspan dy="-2.5" class="sp">4</tspan></text>
<text x="435.4" y="371.1" class="nm">613</text>
<path d="M458.3,419.8 L458.3,411.9 L459.1,408.7 L459.8,408.8 L460.6,409.6 L461.3,410.2 L462.1,410.1 L462.8,406.8 L463.6,407.7 L464.4,405.4 L465.1,405.1 L465.9,404.5 L466.6,403.6 L467.4,401.5 L468.1,398.9 L468.9,399.5 L469.7,394.9 L470.4,391.3 L471.2,391.3 L471.9,390.5 L472.7,396.7 L473.4,393.1 L474.2,400.4 L474.9,400.9 L475.7,400.5 L476.5,400.6 L477.2,401.5 L478.0,403.7 L478.7,404.6 L479.5,407.6 L480.2,407.2 L481.0,407.0 L481.8,410.0 L482.5,408.8 L483.3,407.2 L484.0,409.5 L484.8,410.4 L485.5,409.5 L486.3,410.8 L487.1,410.5 L487.8,410.9 L488.6,411.4 L489.3,412.3 L490.1,411.3 L490.8,410.4 L491.6,412.3 L492.4,410.3 L493.1,412.7 L493.9,411.3 L494.6,412.5 L495.4,411.1 L496.1,410.1 L496.9,413.0 L497.7,415.7 L498.4,417.6 L499.2,418.7 L499.9,418.6 L500.7,419.7 L501.4,419.5 L502.2,418.8 L502.9,419.7 L503.7,419.4 L504.5,419.6 L505.2,419.7 L506.0,419.5 L506.7,419.5 L507.5,419.3 L508.2,419.3 L509.0,419.6 L509.8,419.5 L510.5,419.3 L511.3,419.6 L512.0,419.2 L512.8,419.4 L513.5,419.7 L514.3,419.7 L514.3,419.8 Z" fill="#c9c9c9" stroke="none"/>
<path d="M458.3,416.4 L459.2,413.8 L460.2,414.7 L461.1,413.6 L462.1,411.0 L463.0,407.9 L464.0,405.8 L464.9,401.1 L465.9,397.9 L466.8,397.4 L467.8,391.2 L468.7,388.8 L469.7,384.7 L470.6,381.0 L471.6,382.6 L472.5,386.3 L473.5,389.6 L474.4,394.5 L475.4,395.8 L476.3,401.7 L477.3,405.6 L478.2,408.3 L479.2,411.3 L480.1,412.9 L481.1,415.2 L482.0,417.1 L483.0,419.0 L483.9,419.5 L484.9,419.7 L485.8,419.8 L486.8,419.7 L487.7,419.3 L488.7,419.7 L489.6,419.6 L490.6,419.6 L491.5,419.7 L492.5,419.4 L493.4,419.6 L494.4,419.7 L495.3,419.6 L496.3,419.6 L497.2,419.5 L498.2,419.6 L499.1,419.6 L500.1,419.6 L501.0,419.7 L502.0,419.7 L502.9,419.2 L503.9,419.2 L504.8,419.7 L505.8,419.7 L506.7,419.6 L507.7,419.6 L508.6,419.8 L509.6,419.7 L510.5,419.7 L511.5,419.7 L512.4,419.7 L513.4,419.7 L514.3,419.7" fill="none" stroke="#2a2a2a" stroke-width="0.95" stroke-dasharray="2,1.9"/>
<path d="M458.3,411.9 L459.1,408.7 L459.8,408.8 L460.6,409.6 L461.3,410.2 L462.1,410.1 L462.8,406.8 L463.6,407.7 L464.4,405.4 L465.1,405.1 L465.9,404.5 L466.6,403.6 L467.4,401.5 L468.1,398.9 L468.9,399.5 L469.7,394.9 L470.4,391.3 L471.2,391.3 L471.9,390.5 L472.7,396.7 L473.4,393.1 L474.2,400.4 L474.9,400.9 L475.7,400.5 L476.5,400.6 L477.2,401.5 L478.0,403.7 L478.7,404.6 L479.5,407.6 L480.2,407.2 L481.0,407.0 L481.8,410.0 L482.5,408.8 L483.3,407.2 L484.0,409.5 L484.8,410.4 L485.5,409.5 L486.3,410.8 L487.1,410.5 L487.8,410.9 L488.6,411.4 L489.3,412.3 L490.1,411.3 L490.8,410.4 L491.6,412.3 L492.4,410.3 L493.1,412.7 L493.9,411.3 L494.6,412.5 L495.4,411.1 L496.1,410.1 L496.9,413.0 L497.7,415.7 L498.4,417.6 L499.2,418.7 L499.9,418.6 L500.7,419.7 L501.4,419.5 L502.2,418.8 L502.9,419.7 L503.7,419.4 L504.5,419.6 L505.2,419.7 L506.0,419.5 L506.7,419.5 L507.5,419.3 L508.2,419.3 L509.0,419.6 L509.8,419.5 L510.5,419.3 L511.3,419.6 L512.0,419.2 L512.8,419.4 L513.5,419.7 L514.3,419.7" fill="none" stroke="#111" stroke-width="0.95" stroke-linejoin="round"/>
<path d="M458.3,359.8 H514.3 V420.9" fill="none" stroke="#666" stroke-width="0.8"/>
<path d="M458.3,359.8 V420.9" fill="none" stroke="#222" stroke-width="0.8"/>
<path d="M457.9,420.9 H514.6" fill="none" stroke="#111" stroke-width="0.9"/>
<path d="M456.4,420.9 h2.4 M457.2,417.9 h1.6 M457.2,414.8 h1.6 M457.2,411.8 h1.6 M457.2,408.7 h1.6 M456.4,405.6 h2.4 M457.2,402.6 h1.6 M457.2,399.5 h1.6 M457.2,396.5 h1.6 M457.2,393.4 h1.6 M456.4,390.4 h2.4 M457.2,387.3 h1.6 M457.2,384.3 h1.6 M457.2,381.2 h1.6 M457.2,378.2 h1.6 M456.4,375.1 h2.4 M457.2,372.1 h1.6 M457.2,369.0 h1.6 M457.2,366.0 h1.6 M457.2,362.9 h1.6 M458.3,420.6 v2.0 M462.5,420.6 v1.1 M465.0,420.6 v1.1 M466.7,420.6 v1.1 M468.1,420.6 v1.1 M469.2,420.6 v1.1 M470.1,420.6 v1.1 M470.9,420.6 v1.1 M471.7,420.6 v1.1 M472.3,420.6 v2.0 M476.5,420.6 v1.1 M479.0,420.6 v1.1 M480.7,420.6 v1.1 M482.1,420.6 v1.1 M483.2,420.6 v1.1 M484.1,420.6 v1.1 M484.9,420.6 v1.1 M485.7,420.6 v1.1 M486.3,420.6 v2.0 M490.5,420.6 v1.1 M493.0,420.6 v1.1 M494.7,420.6 v1.1 M496.1,420.6 v1.1 M497.2,420.6 v1.1 M498.1,420.6 v1.1 M498.9,420.6 v1.1 M499.7,420.6 v1.1 M500.3,420.6 v2.0 M504.5,420.6 v1.1 M507.0,420.6 v1.1 M508.7,420.6 v1.1 M510.1,420.6 v1.1 M511.2,420.6 v1.1 M512.1,420.6 v1.1 M512.9,420.6 v1.1 M513.7,420.6 v1.1 M514.3,420.6 v2" fill="none" stroke="#111" stroke-width="0.95"/>
<text transform="translate(454.3,429.9) scale(0.77,1)" class="tk">10<tspan dy="-2.5" class="sp">0</tspan></text>
<text transform="translate(468.3,429.9) scale(0.77,1)" class="tk">10<tspan dy="-2.5" class="sp">1</tspan></text>
<text transform="translate(482.3,429.9) scale(0.77,1)" class="tk">10<tspan dy="-2.5" class="sp">2</tspan></text>
<text transform="translate(496.3,429.9) scale(0.77,1)" class="tk">10<tspan dy="-2.5" class="sp">3</tspan></text>
<text transform="translate(510.3,429.9) scale(0.77,1)" class="tk">10<tspan dy="-2.5" class="sp">4</tspan></text>
<text x="502.2" y="371.1" class="nm">75</text>
<path d="M64.0,495.3 L64.0,490.3 L64.8,489.3 L65.5,491.8 L66.3,493.2 L67.0,493.9 L67.8,494.3 L68.5,493.9 L69.3,493.9 L70.1,493.6 L70.8,493.7 L71.6,493.8 L72.3,493.3 L73.1,493.9 L73.8,494.0 L74.6,493.9 L75.4,494.1 L76.1,494.1 L76.9,494.1 L77.6,493.9 L78.4,493.0 L79.1,492.6 L79.9,489.7 L80.6,490.5 L81.4,489.1 L82.2,488.2 L82.9,489.7 L83.7,489.9 L84.4,490.9 L85.2,489.1 L85.9,487.7 L86.7,480.6 L87.5,475.0 L88.2,468.7 L89.0,461.0 L89.7,462.1 L90.5,458.0 L91.2,457.5 L92.0,451.6 L92.8,447.9 L93.5,449.6 L94.3,451.6 L95.0,449.9 L95.8,453.4 L96.5,458.2 L97.3,463.6 L98.1,469.2 L98.8,471.0 L99.6,478.7 L100.3,483.2 L101.1,485.6 L101.8,488.0 L102.6,489.8 L103.4,493.0 L104.1,494.6 L104.9,495.2 L105.6,494.8 L106.4,494.7 L107.1,495.1 L107.9,494.5 L108.6,495.1 L109.4,495.0 L110.2,494.8 L110.9,495.1 L111.7,495.1 L112.4,495.0 L113.2,494.9 L113.9,494.7 L114.7,494.9 L115.5,495.1 L116.2,494.8 L117.0,495.1 L117.7,495.3 L118.5,495.1 L119.2,495.3 L120.0,495.1 L120.0,495.3 Z" fill="#c9c9c9" stroke="none"/>
<path d="M64.0,495.2 L64.9,495.0 L65.9,495.0 L66.8,494.9 L67.8,494.1 L68.7,491.7 L69.7,486.2 L70.6,475.3 L71.6,459.1 L72.5,446.5 L73.5,442.5 L74.4,445.6 L75.4,449.2 L76.3,458.4 L77.3,464.3 L78.2,474.2 L79.2,478.8 L80.1,482.7 L81.1,487.3 L82.0,489.1 L83.0,490.6 L83.9,491.4 L84.9,493.2 L85.8,493.7 L86.8,494.2 L87.7,494.3 L88.7,494.8 L89.6,494.8 L90.6,495.0 L91.5,495.0 L92.5,494.9 L93.4,495.2 L94.4,495.2 L95.3,494.9 L96.3,495.1 L97.2,495.1 L98.2,494.9 L99.1,495.3 L100.1,494.9 L101.0,495.2 L102.0,495.2 L102.9,495.2 L103.9,495.0 L104.8,495.0 L105.8,495.2 L106.7,495.0 L107.7,495.2 L108.6,495.2 L109.6,495.1 L110.5,494.9 L111.5,495.0 L112.4,495.0 L113.4,495.2 L114.3,495.2 L115.3,495.0 L116.2,495.3 L117.2,495.2 L118.1,495.0 L119.1,495.0 L120.0,495.1" fill="none" stroke="#2a2a2a" stroke-width="0.95" stroke-dasharray="2,1.9"/>
<path d="M64.0,490.3 L64.8,489.3 L65.5,491.8 L66.3,493.2 L67.0,493.9 L67.8,494.3 L68.5,493.9 L69.3,493.9 L70.1,493.6 L70.8,493.7 L71.6,493.8 L72.3,493.3 L73.1,493.9 L73.8,494.0 L74.6,493.9 L75.4,494.1 L76.1,494.1 L76.9,494.1 L77.6,493.9 L78.4,493.0 L79.1,492.6 L79.9,489.7 L80.6,490.5 L81.4,489.1 L82.2,488.2 L82.9,489.7 L83.7,489.9 L84.4,490.9 L85.2,489.1 L85.9,487.7 L86.7,480.6 L87.5,475.0 L88.2,468.7 L89.0,461.0 L89.7,462.1 L90.5,458.0 L91.2,457.5 L92.0,451.6 L92.8,447.9 L93.5,449.6 L94.3,451.6 L95.0,449.9 L95.8,453.4 L96.5,458.2 L97.3,463.6 L98.1,469.2 L98.8,471.0 L99.6,478.7 L100.3,483.2 L101.1,485.6 L101.8,488.0 L102.6,489.8 L103.4,493.0 L104.1,494.6 L104.9,495.2 L105.6,494.8 L106.4,494.7 L107.1,495.1 L107.9,494.5 L108.6,495.1 L109.4,495.0 L110.2,494.8 L110.9,495.1 L111.7,495.1 L112.4,495.0 L113.2,494.9 L113.9,494.7 L114.7,494.9 L115.5,495.1 L116.2,494.8 L117.0,495.1 L117.7,495.3 L118.5,495.1 L119.2,495.3 L120.0,495.1" fill="none" stroke="#111" stroke-width="0.95" stroke-linejoin="round"/>
<path d="M64.0,435.4 H120.0 V496.4" fill="none" stroke="#666" stroke-width="0.8"/>
<path d="M64.0,435.4 V496.4" fill="none" stroke="#222" stroke-width="0.8"/>
<path d="M63.6,496.4 H120.3" fill="none" stroke="#111" stroke-width="0.9"/>
<path d="M62.1,496.4 h2.4 M62.9,493.3 h1.6 M62.9,490.3 h1.6 M62.9,487.2 h1.6 M62.9,484.2 h1.6 M62.1,481.1 h2.4 M62.9,478.1 h1.6 M62.9,475.0 h1.6 M62.9,472.0 h1.6 M62.9,468.9 h1.6 M62.1,465.9 h2.4 M62.9,462.8 h1.6 M62.9,459.8 h1.6 M62.9,456.7 h1.6 M62.9,453.7 h1.6 M62.1,450.6 h2.4 M62.9,447.6 h1.6 M62.9,444.5 h1.6 M62.9,441.5 h1.6 M62.9,438.4 h1.6 M64.0,496.1 v2.0 M68.2,496.1 v1.1 M70.7,496.1 v1.1 M72.4,496.1 v1.1 M73.8,496.1 v1.1 M74.9,496.1 v1.1 M75.8,496.1 v1.1 M76.6,496.1 v1.1 M77.4,496.1 v1.1 M78.0,496.1 v2.0 M82.2,496.1 v1.1 M84.7,496.1 v1.1 M86.4,496.1 v1.1 M87.8,496.1 v1.1 M88.9,496.1 v1.1 M89.8,496.1 v1.1 M90.6,496.1 v1.1 M91.4,496.1 v1.1 M92.0,496.1 v2.0 M96.2,496.1 v1.1 M98.7,496.1 v1.1 M100.4,496.1 v1.1 M101.8,496.1 v1.1 M102.9,496.1 v1.1 M103.8,496.1 v1.1 M104.6,496.1 v1.1 M105.4,496.1 v1.1 M106.0,496.1 v2.0 M110.2,496.1 v1.1 M112.7,496.1 v1.1 M114.4,496.1 v1.1 M115.8,496.1 v1.1 M116.9,496.1 v1.1 M117.8,496.1 v1.1 M118.6,496.1 v1.1 M119.4,496.1 v1.1 M120.0,496.1 v2" fill="none" stroke="#111" stroke-width="0.95"/>
<text transform="translate(60.0,505.4) scale(0.77,1)" class="tk">10<tspan dy="-2.5" class="sp">0</tspan></text>
<text transform="translate(74.0,505.4) scale(0.77,1)" class="tk">10<tspan dy="-2.5" class="sp">1</tspan></text>
<text transform="translate(88.0,505.4) scale(0.77,1)" class="tk">10<tspan dy="-2.5" class="sp">2</tspan></text>
<text transform="translate(102.0,505.4) scale(0.77,1)" class="tk">10<tspan dy="-2.5" class="sp">3</tspan></text>
<text transform="translate(116.0,505.4) scale(0.77,1)" class="tk">10<tspan dy="-2.5" class="sp">4</tspan></text>
<text x="107.2" y="446.7" class="nm">119</text>
<path d="M128.4,495.3 L128.4,489.8 L129.2,489.5 L129.9,492.2 L130.7,493.9 L131.4,494.2 L132.2,494.4 L132.9,494.9 L133.7,494.9 L134.5,494.7 L135.2,494.4 L136.0,494.4 L136.7,494.8 L137.5,494.5 L138.2,494.6 L139.0,494.8 L139.8,494.6 L140.5,494.5 L141.3,494.4 L142.0,494.7 L142.8,494.1 L143.5,494.8 L144.3,494.4 L145.0,494.5 L145.8,494.2 L146.6,494.4 L147.3,494.8 L148.1,494.6 L148.8,494.5 L149.6,494.7 L150.3,494.8 L151.1,494.5 L151.9,494.7 L152.6,494.9 L153.4,494.9 L154.1,494.6 L154.9,494.5 L155.6,493.9 L156.4,491.7 L157.2,492.3 L157.9,489.8 L158.7,488.4 L159.4,489.5 L160.2,489.9 L160.9,488.3 L161.7,486.4 L162.5,485.8 L163.2,485.4 L164.0,484.3 L164.7,484.4 L165.5,481.4 L166.2,479.0 L167.0,476.5 L167.8,475.0 L168.5,475.9 L169.3,475.0 L170.0,473.8 L170.8,471.7 L171.5,467.5 L172.3,464.5 L173.0,455.2 L173.8,454.5 L174.6,448.9 L175.3,446.5 L176.1,460.9 L176.8,465.6 L177.6,476.1 L178.3,484.8 L179.1,490.1 L179.9,493.6 L180.6,494.9 L181.4,494.9 L182.1,495.2 L182.9,495.0 L183.6,495.2 L184.4,495.0 L184.4,495.3 Z" fill="#c9c9c9" stroke="none"/>
<path d="M128.4,495.1 L129.3,495.0 L130.3,495.2 L131.2,494.9 L132.2,494.8 L133.1,493.7 L134.1,490.1 L135.0,484.4 L136.0,476.6 L136.9,462.6 L137.9,449.9 L138.8,441.5 L139.8,445.5 L140.7,445.5 L141.7,453.5 L142.6,457.9 L143.6,466.9 L144.5,473.4 L145.5,478.4 L146.4,482.6 L147.4,487.4 L148.3,489.1 L149.3,490.5 L150.2,492.3 L151.2,493.3 L152.1,493.4 L153.1,493.7 L154.0,494.4 L155.0,494.7 L155.9,494.9 L156.9,495.1 L157.8,495.2 L158.8,494.9 L159.7,495.2 L160.7,495.0 L161.6,495.0 L162.6,495.1 L163.5,495.2 L164.5,495.3 L165.4,495.0 L166.4,495.2 L167.3,495.2 L168.3,494.9 L169.2,495.3 L170.2,495.2 L171.1,495.1 L172.1,495.2 L173.0,495.2 L174.0,494.9 L174.9,495.3 L175.9,495.2 L176.8,495.2 L177.8,495.3 L178.7,495.0 L179.7,495.0 L180.6,495.0 L181.6,495.0 L182.5,495.2 L183.5,495.3 L184.4,495.1" fill="none" stroke="#2a2a2a" stroke-width="0.95" stroke-dasharray="2,1.9"/>
<path d="M128.4,489.8 L129.2,489.5 L129.9,492.2 L130.7,493.9 L131.4,494.2 L132.2,494.4 L132.9,494.9 L133.7,494.9 L134.5,494.7 L135.2,494.4 L136.0,494.4 L136.7,494.8 L137.5,494.5 L138.2,494.6 L139.0,494.8 L139.8,494.6 L140.5,494.5 L141.3,494.4 L142.0,494.7 L142.8,494.1 L143.5,494.8 L144.3,494.4 L145.0,494.5 L145.8,494.2 L146.6,494.4 L147.3,494.8 L148.1,494.6 L148.8,494.5 L149.6,494.7 L150.3,494.8 L151.1,494.5 L151.9,494.7 L152.6,494.9 L153.4,494.9 L154.1,494.6 L154.9,494.5 L155.6,493.9 L156.4,491.7 L157.2,492.3 L157.9,489.8 L158.7,488.4 L159.4,489.5 L160.2,489.9 L160.9,488.3 L161.7,486.4 L162.5,485.8 L163.2,485.4 L164.0,484.3 L164.7,484.4 L165.5,481.4 L166.2,479.0 L167.0,476.5 L167.8,475.0 L168.5,475.9 L169.3,475.0 L170.0,473.8 L170.8,471.7 L171.5,467.5 L172.3,464.5 L173.0,455.2 L173.8,454.5 L174.6,448.9 L175.3,446.5 L176.1,460.9 L176.8,465.6 L177.6,476.1 L178.3,484.8 L179.1,490.1 L179.9,493.6 L180.6,494.9 L181.4,494.9 L182.1,495.2 L182.9,495.0 L183.6,495.2 L184.4,495.0" fill="none" stroke="#111" stroke-width="0.95" stroke-linejoin="round"/>
<path d="M128.4,435.4 H184.4 V496.4" fill="none" stroke="#666" stroke-width="0.8"/>
<path d="M128.4,435.4 V496.4" fill="none" stroke="#222" stroke-width="0.8"/>
<path d="M128.0,496.4 H184.7" fill="none" stroke="#111" stroke-width="0.9"/>
<path d="M126.5,496.4 h2.4 M127.3,493.3 h1.6 M127.3,490.3 h1.6 M127.3,487.2 h1.6 M127.3,484.2 h1.6 M126.5,481.1 h2.4 M127.3,478.1 h1.6 M127.3,475.0 h1.6 M127.3,472.0 h1.6 M127.3,468.9 h1.6 M126.5,465.9 h2.4 M127.3,462.8 h1.6 M127.3,459.8 h1.6 M127.3,456.7 h1.6 M127.3,453.7 h1.6 M126.5,450.6 h2.4 M127.3,447.6 h1.6 M127.3,444.5 h1.6 M127.3,441.5 h1.6 M127.3,438.4 h1.6 M128.4,496.1 v2.0 M132.6,496.1 v1.1 M135.1,496.1 v1.1 M136.8,496.1 v1.1 M138.2,496.1 v1.1 M139.3,496.1 v1.1 M140.2,496.1 v1.1 M141.0,496.1 v1.1 M141.8,496.1 v1.1 M142.4,496.1 v2.0 M146.6,496.1 v1.1 M149.1,496.1 v1.1 M150.8,496.1 v1.1 M152.2,496.1 v1.1 M153.3,496.1 v1.1 M154.2,496.1 v1.1 M155.0,496.1 v1.1 M155.8,496.1 v1.1 M156.4,496.1 v2.0 M160.6,496.1 v1.1 M163.1,496.1 v1.1 M164.8,496.1 v1.1 M166.2,496.1 v1.1 M167.3,496.1 v1.1 M168.2,496.1 v1.1 M169.0,496.1 v1.1 M169.8,496.1 v1.1 M170.4,496.1 v2.0 M174.6,496.1 v1.1 M177.1,496.1 v1.1 M178.8,496.1 v1.1 M180.2,496.1 v1.1 M181.3,496.1 v1.1 M182.2,496.1 v1.1 M183.0,496.1 v1.1 M183.8,496.1 v1.1 M184.4,496.1 v2" fill="none" stroke="#111" stroke-width="0.95"/>
<text transform="translate(124.4,505.4) scale(0.77,1)" class="tk">10<tspan dy="-2.5" class="sp">0</tspan></text>
<text transform="translate(138.4,505.4) scale(0.77,1)" class="tk">10<tspan dy="-2.5" class="sp">1</tspan></text>
<text transform="translate(152.4,505.4) scale(0.77,1)" class="tk">10<tspan dy="-2.5" class="sp">2</tspan></text>
<text transform="translate(166.4,505.4) scale(0.77,1)" class="tk">10<tspan dy="-2.5" class="sp">3</tspan></text>
<text transform="translate(180.4,505.4) scale(0.77,1)" class="tk">10<tspan dy="-2.5" class="sp">4</tspan></text>
<text x="168.6" y="446.7" class="nm">1556</text>
<path d="M195.1,495.3 L195.1,490.2 L195.9,488.4 L196.6,491.2 L197.4,493.4 L198.1,493.5 L198.9,494.2 L199.6,493.9 L200.4,493.9 L201.2,494.0 L201.9,492.5 L202.7,494.0 L203.4,493.1 L204.2,492.9 L204.9,492.8 L205.7,492.9 L206.5,491.4 L207.2,492.4 L208.0,490.8 L208.7,490.2 L209.5,488.6 L210.2,486.6 L211.0,486.1 L211.7,481.6 L212.5,478.7 L213.3,478.1 L214.0,473.9 L214.8,466.6 L215.5,465.0 L216.3,460.4 L217.0,454.3 L217.8,455.5 L218.6,461.2 L219.3,451.7 L220.1,454.2 L220.8,457.6 L221.6,459.9 L222.3,463.6 L223.1,468.5 L223.9,469.7 L224.6,477.5 L225.4,478.4 L226.1,483.1 L226.9,484.4 L227.6,487.5 L228.4,489.1 L229.2,489.6 L229.9,491.6 L230.7,492.6 L231.4,493.4 L232.2,493.6 L232.9,493.7 L233.7,494.8 L234.5,495.0 L235.2,495.0 L236.0,495.1 L236.7,495.2 L237.5,495.2 L238.2,495.0 L239.0,495.2 L239.7,494.6 L240.5,494.8 L241.3,495.0 L242.0,494.7 L242.8,495.0 L243.5,495.2 L244.3,494.6 L245.0,494.9 L245.8,495.1 L246.6,495.0 L247.3,495.2 L248.1,495.1 L248.8,495.2 L249.6,495.1 L250.3,495.2 L251.1,494.7 L251.1,495.3 Z" fill="#c9c9c9" stroke="none"/>
<path d="M195.1,495.1 L196.0,494.8 L197.0,494.7 L197.9,494.9 L198.9,494.7 L199.8,493.2 L200.8,489.1 L201.7,480.4 L202.7,466.7 L203.6,451.3 L204.6,439.8 L205.5,443.1 L206.5,446.5 L207.4,456.4 L208.4,464.9 L209.3,474.4 L210.3,481.5 L211.2,485.7 L212.2,488.6 L213.1,490.8 L214.1,491.5 L215.0,492.4 L216.0,493.3 L216.9,493.7 L217.9,494.2 L218.8,494.5 L219.8,494.3 L220.7,494.8 L221.7,494.9 L222.6,495.1 L223.6,494.9 L224.5,495.0 L225.5,495.2 L226.4,495.0 L227.4,495.1 L228.3,495.2 L229.3,495.3 L230.2,495.3 L231.2,495.1 L232.1,495.3 L233.1,495.0 L234.0,495.2 L235.0,495.0 L235.9,495.3 L236.9,495.3 L237.8,495.3 L238.8,495.1 L239.7,494.9 L240.7,495.2 L241.6,495.2 L242.6,495.0 L243.5,495.2 L244.5,495.3 L245.4,495.0 L246.4,495.2 L247.3,495.2 L248.3,495.1 L249.2,495.2 L250.2,495.2 L251.1,495.0" fill="none" stroke="#2a2a2a" stroke-width="0.95" stroke-dasharray="2,1.9"/>
<path d="M195.1,490.2 L195.9,488.4 L196.6,491.2 L197.4,493.4 L198.1,493.5 L198.9,494.2 L199.6,493.9 L200.4,493.9 L201.2,494.0 L201.9,492.5 L202.7,494.0 L203.4,493.1 L204.2,492.9 L204.9,492.8 L205.7,492.9 L206.5,491.4 L207.2,492.4 L208.0,490.8 L208.7,490.2 L209.5,488.6 L210.2,486.6 L211.0,486.1 L211.7,481.6 L212.5,478.7 L213.3,478.1 L214.0,473.9 L214.8,466.6 L215.5,465.0 L216.3,460.4 L217.0,454.3 L217.8,455.5 L218.6,461.2 L219.3,451.7 L220.1,454.2 L220.8,457.6 L221.6,459.9 L222.3,463.6 L223.1,468.5 L223.9,469.7 L224.6,477.5 L225.4,478.4 L226.1,483.1 L226.9,484.4 L227.6,487.5 L228.4,489.1 L229.2,489.6 L229.9,491.6 L230.7,492.6 L231.4,493.4 L232.2,493.6 L232.9,493.7 L233.7,494.8 L234.5,495.0 L235.2,495.0 L236.0,495.1 L236.7,495.2 L237.5,495.2 L238.2,495.0 L239.0,495.2 L239.7,494.6 L240.5,494.8 L241.3,495.0 L242.0,494.7 L242.8,495.0 L243.5,495.2 L244.3,494.6 L245.0,494.9 L245.8,495.1 L246.6,495.0 L247.3,495.2 L248.1,495.1 L248.8,495.2 L249.6,495.1 L250.3,495.2 L251.1,494.7" fill="none" stroke="#111" stroke-width="0.95" stroke-linejoin="round"/>
<path d="M195.1,435.4 H251.1 V496.4" fill="none" stroke="#666" stroke-width="0.8"/>
<path d="M195.1,435.4 V496.4" fill="none" stroke="#222" stroke-width="0.8"/>
<path d="M194.7,496.4 H251.4" fill="none" stroke="#111" stroke-width="0.9"/>
<path d="M193.2,496.4 h2.4 M194.0,493.3 h1.6 M194.0,490.3 h1.6 M194.0,487.2 h1.6 M194.0,484.2 h1.6 M193.2,481.1 h2.4 M194.0,478.1 h1.6 M194.0,475.0 h1.6 M194.0,472.0 h1.6 M194.0,468.9 h1.6 M193.2,465.9 h2.4 M194.0,462.8 h1.6 M194.0,459.8 h1.6 M194.0,456.7 h1.6 M194.0,453.7 h1.6 M193.2,450.6 h2.4 M194.0,447.6 h1.6 M194.0,444.5 h1.6 M194.0,441.5 h1.6 M194.0,438.4 h1.6 M195.1,496.1 v2.0 M199.3,496.1 v1.1 M201.8,496.1 v1.1 M203.5,496.1 v1.1 M204.9,496.1 v1.1 M206.0,496.1 v1.1 M206.9,496.1 v1.1 M207.7,496.1 v1.1 M208.5,496.1 v1.1 M209.1,496.1 v2.0 M213.3,496.1 v1.1 M215.8,496.1 v1.1 M217.5,496.1 v1.1 M218.9,496.1 v1.1 M220.0,496.1 v1.1 M220.9,496.1 v1.1 M221.7,496.1 v1.1 M222.5,496.1 v1.1 M223.1,496.1 v2.0 M227.3,496.1 v1.1 M229.8,496.1 v1.1 M231.5,496.1 v1.1 M232.9,496.1 v1.1 M234.0,496.1 v1.1 M234.9,496.1 v1.1 M235.7,496.1 v1.1 M236.5,496.1 v1.1 M237.1,496.1 v2.0 M241.3,496.1 v1.1 M243.8,496.1 v1.1 M245.5,496.1 v1.1 M246.9,496.1 v1.1 M248.0,496.1 v1.1 M248.9,496.1 v1.1 M249.7,496.1 v1.1 M250.5,496.1 v1.1 M251.1,496.1 v2" fill="none" stroke="#111" stroke-width="0.95"/>
<text transform="translate(191.1,505.4) scale(0.77,1)" class="tk">10<tspan dy="-2.5" class="sp">0</tspan></text>
<text transform="translate(205.1,505.4) scale(0.77,1)" class="tk">10<tspan dy="-2.5" class="sp">1</tspan></text>
<text transform="translate(219.1,505.4) scale(0.77,1)" class="tk">10<tspan dy="-2.5" class="sp">2</tspan></text>
<text transform="translate(233.1,505.4) scale(0.77,1)" class="tk">10<tspan dy="-2.5" class="sp">3</tspan></text>
<text transform="translate(247.1,505.4) scale(0.77,1)" class="tk">10<tspan dy="-2.5" class="sp">4</tspan></text>
<text x="239.0" y="446.7" class="nm">46</text>
<path d="M261.6,495.3 L261.6,490.7 L262.4,490.5 L263.1,491.6 L263.9,494.0 L264.6,494.8 L265.4,494.5 L266.1,494.7 L266.9,494.6 L267.7,494.6 L268.4,494.6 L269.2,494.4 L269.9,494.9 L270.7,494.3 L271.4,494.6 L272.2,494.7 L273.0,494.8 L273.7,494.4 L274.5,494.3 L275.2,494.6 L276.0,494.0 L276.7,494.5 L277.5,494.2 L278.2,494.7 L279.0,494.6 L279.8,494.4 L280.5,494.6 L281.3,494.2 L282.0,493.9 L282.8,493.9 L283.5,491.1 L284.3,490.5 L285.1,491.5 L285.8,487.6 L286.6,485.3 L287.3,483.6 L288.1,474.9 L288.8,468.2 L289.6,462.8 L290.4,456.9 L291.1,453.7 L291.9,446.2 L292.6,445.3 L293.4,451.0 L294.1,456.6 L294.9,462.0 L295.7,470.2 L296.4,477.5 L297.2,483.3 L297.9,485.5 L298.7,490.4 L299.4,492.1 L300.2,491.6 L301.0,492.3 L301.7,494.4 L302.5,494.7 L303.2,494.7 L304.0,494.9 L304.7,494.9 L305.5,495.2 L306.2,494.8 L307.0,494.9 L307.8,495.1 L308.5,495.2 L309.3,495.2 L310.0,494.9 L310.8,495.2 L311.5,495.0 L312.3,495.1 L313.1,495.0 L313.8,495.2 L314.6,494.9 L315.3,494.8 L316.1,495.2 L316.8,495.3 L317.6,495.0 L317.6,495.3 Z" fill="#c9c9c9" stroke="none"/>
<path d="M261.6,495.3 L262.5,495.2 L263.5,494.8 L264.4,495.1 L265.4,494.7 L266.3,493.3 L267.3,488.7 L268.2,481.3 L269.2,464.8 L270.1,455.4 L271.1,443.0 L272.0,442.5 L273.0,444.7 L273.9,451.0 L274.9,463.5 L275.8,471.4 L276.8,478.4 L277.7,481.9 L278.7,487.2 L279.6,488.5 L280.6,490.6 L281.5,490.7 L282.5,492.1 L283.4,492.6 L284.4,493.2 L285.3,494.2 L286.3,494.3 L287.2,494.3 L288.2,494.9 L289.1,494.9 L290.1,495.1 L291.0,495.0 L292.0,495.2 L292.9,495.2 L293.9,495.3 L294.8,495.2 L295.8,495.2 L296.7,495.2 L297.7,495.1 L298.6,495.1 L299.6,495.0 L300.5,495.3 L301.5,495.0 L302.4,495.2 L303.4,495.0 L304.3,495.3 L305.3,495.3 L306.2,495.3 L307.2,495.0 L308.1,495.1 L309.1,495.1 L310.0,495.2 L311.0,495.1 L311.9,495.2 L312.9,495.3 L313.8,495.1 L314.8,495.3 L315.7,495.1 L316.7,495.1 L317.6,495.1" fill="none" stroke="#2a2a2a" stroke-width="0.95" stroke-dasharray="2,1.9"/>
<path d="M261.6,490.7 L262.4,490.5 L263.1,491.6 L263.9,494.0 L264.6,494.8 L265.4,494.5 L266.1,494.7 L266.9,494.6 L267.7,494.6 L268.4,494.6 L269.2,494.4 L269.9,494.9 L270.7,494.3 L271.4,494.6 L272.2,494.7 L273.0,494.8 L273.7,494.4 L274.5,494.3 L275.2,494.6 L276.0,494.0 L276.7,494.5 L277.5,494.2 L278.2,494.7 L279.0,494.6 L279.8,494.4 L280.5,494.6 L281.3,494.2 L282.0,493.9 L282.8,493.9 L283.5,491.1 L284.3,490.5 L285.1,491.5 L285.8,487.6 L286.6,485.3 L287.3,483.6 L288.1,474.9 L288.8,468.2 L289.6,462.8 L290.4,456.9 L291.1,453.7 L291.9,446.2 L292.6,445.3 L293.4,451.0 L294.1,456.6 L294.9,462.0 L295.7,470.2 L296.4,477.5 L297.2,483.3 L297.9,485.5 L298.7,490.4 L299.4,492.1 L300.2,491.6 L301.0,492.3 L301.7,494.4 L302.5,494.7 L303.2,494.7 L304.0,494.9 L304.7,494.9 L305.5,495.2 L306.2,494.8 L307.0,494.9 L307.8,495.1 L308.5,495.2 L309.3,495.2 L310.0,494.9 L310.8,495.2 L311.5,495.0 L312.3,495.1 L313.1,495.0 L313.8,495.2 L314.6,494.9 L315.3,494.8 L316.1,495.2 L316.8,495.3 L317.6,495.0" fill="none" stroke="#111" stroke-width="0.95" stroke-linejoin="round"/>
<path d="M261.6,435.4 H317.6 V496.4" fill="none" stroke="#666" stroke-width="0.8"/>
<path d="M261.6,435.4 V496.4" fill="none" stroke="#222" stroke-width="0.8"/>
<path d="M261.2,496.4 H317.9" fill="none" stroke="#111" stroke-width="0.9"/>
<path d="M259.7,496.4 h2.4 M260.5,493.3 h1.6 M260.5,490.3 h1.6 M260.5,487.2 h1.6 M260.5,484.2 h1.6 M259.7,481.1 h2.4 M260.5,478.1 h1.6 M260.5,475.0 h1.6 M260.5,472.0 h1.6 M260.5,468.9 h1.6 M259.7,465.9 h2.4 M260.5,462.8 h1.6 M260.5,459.8 h1.6 M260.5,456.7 h1.6 M260.5,453.7 h1.6 M259.7,450.6 h2.4 M260.5,447.6 h1.6 M260.5,444.5 h1.6 M260.5,441.5 h1.6 M260.5,438.4 h1.6 M261.6,496.1 v2.0 M265.8,496.1 v1.1 M268.3,496.1 v1.1 M270.0,496.1 v1.1 M271.4,496.1 v1.1 M272.5,496.1 v1.1 M273.4,496.1 v1.1 M274.2,496.1 v1.1 M275.0,496.1 v1.1 M275.6,496.1 v2.0 M279.8,496.1 v1.1 M282.3,496.1 v1.1 M284.0,496.1 v1.1 M285.4,496.1 v1.1 M286.5,496.1 v1.1 M287.4,496.1 v1.1 M288.2,496.1 v1.1 M289.0,496.1 v1.1 M289.6,496.1 v2.0 M293.8,496.1 v1.1 M296.3,496.1 v1.1 M298.0,496.1 v1.1 M299.4,496.1 v1.1 M300.5,496.1 v1.1 M301.4,496.1 v1.1 M302.2,496.1 v1.1 M303.0,496.1 v1.1 M303.6,496.1 v2.0 M307.8,496.1 v1.1 M310.3,496.1 v1.1 M312.0,496.1 v1.1 M313.4,496.1 v1.1 M314.5,496.1 v1.1 M315.4,496.1 v1.1 M316.2,496.1 v1.1 M317.0,496.1 v1.1 M317.6,496.1 v2" fill="none" stroke="#111" stroke-width="0.95"/>
<text transform="translate(257.6,505.4) scale(0.77,1)" class="tk">10<tspan dy="-2.5" class="sp">0</tspan></text>
<text transform="translate(271.6,505.4) scale(0.77,1)" class="tk">10<tspan dy="-2.5" class="sp">1</tspan></text>
<text transform="translate(285.6,505.4) scale(0.77,1)" class="tk">10<tspan dy="-2.5" class="sp">2</tspan></text>
<text transform="translate(299.6,505.4) scale(0.77,1)" class="tk">10<tspan dy="-2.5" class="sp">3</tspan></text>
<text transform="translate(313.6,505.4) scale(0.77,1)" class="tk">10<tspan dy="-2.5" class="sp">4</tspan></text>
<text x="304.8" y="446.7" class="nm">158</text>
<path d="M327.1,495.3 L327.1,490.3 L327.9,489.2 L328.6,491.2 L329.4,494.2 L330.1,494.7 L330.9,494.9 L331.6,494.6 L332.4,494.6 L333.2,494.2 L333.9,493.8 L334.7,493.6 L335.4,492.1 L336.2,491.0 L336.9,491.5 L337.7,492.0 L338.5,492.3 L339.2,491.5 L340.0,490.6 L340.7,490.1 L341.5,490.0 L342.2,487.9 L343.0,484.1 L343.7,479.5 L344.5,474.0 L345.3,465.8 L346.0,462.9 L346.8,453.6 L347.5,457.3 L348.3,447.3 L349.0,455.3 L349.8,457.5 L350.6,459.8 L351.3,467.5 L352.1,476.3 L352.8,481.5 L353.6,485.5 L354.3,487.7 L355.1,490.3 L355.9,493.1 L356.6,494.2 L357.4,494.8 L358.1,494.7 L358.9,495.0 L359.6,495.0 L360.4,495.0 L361.2,494.9 L361.9,495.0 L362.7,494.6 L363.4,494.8 L364.2,495.2 L364.9,494.6 L365.7,495.3 L366.5,495.1 L367.2,495.3 L368.0,495.2 L368.7,495.2 L369.5,495.2 L370.2,494.9 L371.0,495.3 L371.7,494.4 L372.5,494.6 L373.3,495.3 L374.0,495.1 L374.8,494.7 L375.5,495.2 L376.3,494.9 L377.0,495.1 L377.8,495.2 L378.6,495.1 L379.3,494.8 L380.1,495.3 L380.8,494.9 L381.6,495.3 L382.3,495.1 L383.1,495.3 L383.1,495.3 Z" fill="#c9c9c9" stroke="none"/>
<path d="M327.1,495.1 L328.0,495.1 L329.0,495.0 L329.9,495.2 L330.9,494.8 L331.8,494.4 L332.8,492.7 L333.7,488.8 L334.7,480.2 L335.6,467.2 L336.6,455.3 L337.5,447.5 L338.5,445.8 L339.4,448.2 L340.4,455.5 L341.3,462.3 L342.3,469.1 L343.2,476.6 L344.2,482.3 L345.1,484.6 L346.1,488.3 L347.0,489.0 L348.0,489.5 L348.9,490.2 L349.9,490.1 L350.8,491.2 L351.8,491.9 L352.7,492.4 L353.7,492.7 L354.6,492.9 L355.6,493.3 L356.5,493.9 L357.5,494.3 L358.4,494.7 L359.4,494.9 L360.3,494.5 L361.3,495.1 L362.2,494.9 L363.2,495.2 L364.1,495.2 L365.1,495.1 L366.0,495.3 L367.0,495.2 L367.9,495.0 L368.9,495.0 L369.8,495.3 L370.8,495.1 L371.7,495.2 L372.7,495.2 L373.6,495.2 L374.6,495.0 L375.5,494.9 L376.5,495.0 L377.4,494.7 L378.4,495.2 L379.3,495.2 L380.3,494.9 L381.2,495.2 L382.2,494.8 L383.1,495.2" fill="none" stroke="#2a2a2a" stroke-width="0.95" stroke-dasharray="2,1.9"/>
<path d="M327.1,490.3 L327.9,489.2 L328.6,491.2 L329.4,494.2 L330.1,494.7 L330.9,494.9 L331.6,494.6 L332.4,494.6 L333.2,494.2 L333.9,493.8 L334.7,493.6 L335.4,492.1 L336.2,491.0 L336.9,491.5 L337.7,492.0 L338.5,492.3 L339.2,491.5 L340.0,490.6 L340.7,490.1 L341.5,490.0 L342.2,487.9 L343.0,484.1 L343.7,479.5 L344.5,474.0 L345.3,465.8 L346.0,462.9 L346.8,453.6 L347.5,457.3 L348.3,447.3 L349.0,455.3 L349.8,457.5 L350.6,459.8 L351.3,467.5 L352.1,476.3 L352.8,481.5 L353.6,485.5 L354.3,487.7 L355.1,490.3 L355.9,493.1 L356.6,494.2 L357.4,494.8 L358.1,494.7 L358.9,495.0 L359.6,495.0 L360.4,495.0 L361.2,494.9 L361.9,495.0 L362.7,494.6 L363.4,494.8 L364.2,495.2 L364.9,494.6 L365.7,495.3 L366.5,495.1 L367.2,495.3 L368.0,495.2 L368.7,495.2 L369.5,495.2 L370.2,494.9 L371.0,495.3 L371.7,494.4 L372.5,494.6 L373.3,495.3 L374.0,495.1 L374.8,494.7 L375.5,495.2 L376.3,494.9 L377.0,495.1 L377.8,495.2 L378.6,495.1 L379.3,494.8 L380.1,495.3 L380.8,494.9 L381.6,495.3 L382.3,495.1 L383.1,495.3" fill="none" stroke="#111" stroke-width="0.95" stroke-linejoin="round"/>
<path d="M327.1,435.4 H383.1 V496.4" fill="none" stroke="#666" stroke-width="0.8"/>
<path d="M327.1,435.4 V496.4" fill="none" stroke="#222" stroke-width="0.8"/>
<path d="M326.7,496.4 H383.4" fill="none" stroke="#111" stroke-width="0.9"/>
<path d="M325.2,496.4 h2.4 M326.0,493.3 h1.6 M326.0,490.3 h1.6 M326.0,487.2 h1.6 M326.0,484.2 h1.6 M325.2,481.1 h2.4 M326.0,478.1 h1.6 M326.0,475.0 h1.6 M326.0,472.0 h1.6 M326.0,468.9 h1.6 M325.2,465.9 h2.4 M326.0,462.8 h1.6 M326.0,459.8 h1.6 M326.0,456.7 h1.6 M326.0,453.7 h1.6 M325.2,450.6 h2.4 M326.0,447.6 h1.6 M326.0,444.5 h1.6 M326.0,441.5 h1.6 M326.0,438.4 h1.6 M327.1,496.1 v2.0 M331.3,496.1 v1.1 M333.8,496.1 v1.1 M335.5,496.1 v1.1 M336.9,496.1 v1.1 M338.0,496.1 v1.1 M338.9,496.1 v1.1 M339.7,496.1 v1.1 M340.5,496.1 v1.1 M341.1,496.1 v2.0 M345.3,496.1 v1.1 M347.8,496.1 v1.1 M349.5,496.1 v1.1 M350.9,496.1 v1.1 M352.0,496.1 v1.1 M352.9,496.1 v1.1 M353.7,496.1 v1.1 M354.5,496.1 v1.1 M355.1,496.1 v2.0 M359.3,496.1 v1.1 M361.8,496.1 v1.1 M363.5,496.1 v1.1 M364.9,496.1 v1.1 M366.0,496.1 v1.1 M366.9,496.1 v1.1 M367.7,496.1 v1.1 M368.5,496.1 v1.1 M369.1,496.1 v2.0 M373.3,496.1 v1.1 M375.8,496.1 v1.1 M377.5,496.1 v1.1 M378.9,496.1 v1.1 M380.0,496.1 v1.1 M380.9,496.1 v1.1 M381.7,496.1 v1.1 M382.5,496.1 v1.1 M383.1,496.1 v2" fill="none" stroke="#111" stroke-width="0.95"/>
<text transform="translate(323.1,505.4) scale(0.77,1)" class="tk">10<tspan dy="-2.5" class="sp">0</tspan></text>
<text transform="translate(337.1,505.4) scale(0.77,1)" class="tk">10<tspan dy="-2.5" class="sp">1</tspan></text>
<text transform="translate(351.1,505.4) scale(0.77,1)" class="tk">10<tspan dy="-2.5" class="sp">2</tspan></text>
<text transform="translate(365.1,505.4) scale(0.77,1)" class="tk">10<tspan dy="-2.5" class="sp">3</tspan></text>
<text transform="translate(379.1,505.4) scale(0.77,1)" class="tk">10<tspan dy="-2.5" class="sp">4</tspan></text>
<text x="371.0" y="446.7" class="nm">29</text>
<path d="M392.2,495.3 L392.2,490.8 L393.0,486.7 L393.7,490.0 L394.5,493.0 L395.2,493.8 L396.0,493.0 L396.7,493.1 L397.5,493.6 L398.3,492.6 L399.0,493.0 L399.8,493.4 L400.5,490.9 L401.3,493.4 L402.0,493.3 L402.8,492.7 L403.6,493.2 L404.3,492.2 L405.1,492.9 L405.8,491.3 L406.6,492.2 L407.3,491.3 L408.1,493.6 L408.8,493.2 L409.6,493.6 L410.4,492.7 L411.1,493.5 L411.9,493.9 L412.6,492.3 L413.4,493.0 L414.1,493.4 L414.9,494.1 L415.7,493.9 L416.4,494.1 L417.2,493.9 L417.9,490.9 L418.7,488.9 L419.4,486.3 L420.2,480.5 L421.0,478.1 L421.7,472.0 L422.5,473.2 L423.2,468.0 L424.0,468.2 L424.7,469.8 L425.5,462.1 L426.3,464.0 L427.0,467.1 L427.8,459.6 L428.5,461.6 L429.3,456.9 L430.0,460.9 L430.8,459.3 L431.6,455.2 L432.3,453.7 L433.1,453.0 L433.8,461.6 L434.6,455.4 L435.3,466.6 L436.1,463.0 L436.8,474.7 L437.6,472.3 L438.4,480.4 L439.1,487.1 L439.9,486.0 L440.6,490.4 L441.4,492.3 L442.1,493.9 L442.9,495.1 L443.7,495.0 L444.4,494.7 L445.2,495.2 L445.9,495.3 L446.7,494.6 L447.4,495.2 L448.2,495.2 L448.2,495.3 Z" fill="#c9c9c9" stroke="none"/>
<path d="M392.2,495.0 L393.1,495.0 L394.1,494.9 L395.0,494.8 L396.0,493.6 L396.9,491.0 L397.9,484.6 L398.8,474.7 L399.8,463.4 L400.7,449.0 L401.7,444.1 L402.6,441.1 L403.6,452.5 L404.5,461.2 L405.5,466.8 L406.4,476.6 L407.4,482.9 L408.3,487.3 L409.3,488.5 L410.2,489.9 L411.2,491.0 L412.1,491.4 L413.1,491.9 L414.0,491.9 L415.0,492.5 L415.9,492.5 L416.9,492.4 L417.8,492.8 L418.8,492.7 L419.7,493.3 L420.7,493.5 L421.6,494.3 L422.6,494.5 L423.5,494.5 L424.5,494.8 L425.4,494.8 L426.4,495.0 L427.3,495.0 L428.3,495.1 L429.2,495.1 L430.2,495.1 L431.1,495.1 L432.1,495.0 L433.0,495.2 L434.0,494.9 L434.9,495.2 L435.9,495.2 L436.8,495.2 L437.8,495.1 L438.7,495.2 L439.7,495.3 L440.6,495.1 L441.6,495.2 L442.5,495.0 L443.5,495.0 L444.4,495.2 L445.4,495.3 L446.3,495.1 L447.3,495.3 L448.2,495.1" fill="none" stroke="#2a2a2a" stroke-width="0.95" stroke-dasharray="2,1.9"/>
<path d="M392.2,490.8 L393.0,486.7 L393.7,490.0 L394.5,493.0 L395.2,493.8 L396.0,493.0 L396.7,493.1 L397.5,493.6 L398.3,492.6 L399.0,493.0 L399.8,493.4 L400.5,490.9 L401.3,493.4 L402.0,493.3 L402.8,492.7 L403.6,493.2 L404.3,492.2 L405.1,492.9 L405.8,491.3 L406.6,492.2 L407.3,491.3 L408.1,493.6 L408.8,493.2 L409.6,493.6 L410.4,492.7 L411.1,493.5 L411.9,493.9 L412.6,492.3 L413.4,493.0 L414.1,493.4 L414.9,494.1 L415.7,493.9 L416.4,494.1 L417.2,493.9 L417.9,490.9 L418.7,488.9 L419.4,486.3 L420.2,480.5 L421.0,478.1 L421.7,472.0 L422.5,473.2 L423.2,468.0 L424.0,468.2 L424.7,469.8 L425.5,462.1 L426.3,464.0 L427.0,467.1 L427.8,459.6 L428.5,461.6 L429.3,456.9 L430.0,460.9 L430.8,459.3 L431.6,455.2 L432.3,453.7 L433.1,453.0 L433.8,461.6 L434.6,455.4 L435.3,466.6 L436.1,463.0 L436.8,474.7 L437.6,472.3 L438.4,480.4 L439.1,487.1 L439.9,486.0 L440.6,490.4 L441.4,492.3 L442.1,493.9 L442.9,495.1 L443.7,495.0 L444.4,494.7 L445.2,495.2 L445.9,495.3 L446.7,494.6 L447.4,495.2 L448.2,495.2" fill="none" stroke="#111" stroke-width="0.95" stroke-linejoin="round"/>
<path d="M392.2,435.4 H448.2 V496.4" fill="none" stroke="#666" stroke-width="0.8"/>
<path d="M392.2,435.4 V496.4" fill="none" stroke="#222" stroke-width="0.8"/>
<path d="M391.8,496.4 H448.5" fill="none" stroke="#111" stroke-width="0.9"/>
<path d="M390.3,496.4 h2.4 M391.1,493.3 h1.6 M391.1,490.3 h1.6 M391.1,487.2 h1.6 M391.1,484.2 h1.6 M390.3,481.1 h2.4 M391.1,478.1 h1.6 M391.1,475.0 h1.6 M391.1,472.0 h1.6 M391.1,468.9 h1.6 M390.3,465.9 h2.4 M391.1,462.8 h1.6 M391.1,459.8 h1.6 M391.1,456.7 h1.6 M391.1,453.7 h1.6 M390.3,450.6 h2.4 M391.1,447.6 h1.6 M391.1,444.5 h1.6 M391.1,441.5 h1.6 M391.1,438.4 h1.6 M392.2,496.1 v2.0 M396.4,496.1 v1.1 M398.9,496.1 v1.1 M400.6,496.1 v1.1 M402.0,496.1 v1.1 M403.1,496.1 v1.1 M404.0,496.1 v1.1 M404.8,496.1 v1.1 M405.6,496.1 v1.1 M406.2,496.1 v2.0 M410.4,496.1 v1.1 M412.9,496.1 v1.1 M414.6,496.1 v1.1 M416.0,496.1 v1.1 M417.1,496.1 v1.1 M418.0,496.1 v1.1 M418.8,496.1 v1.1 M419.6,496.1 v1.1 M420.2,496.1 v2.0 M424.4,496.1 v1.1 M426.9,496.1 v1.1 M428.6,496.1 v1.1 M430.0,496.1 v1.1 M431.1,496.1 v1.1 M432.0,496.1 v1.1 M432.8,496.1 v1.1 M433.6,496.1 v1.1 M434.2,496.1 v2.0 M438.4,496.1 v1.1 M440.9,496.1 v1.1 M442.6,496.1 v1.1 M444.0,496.1 v1.1 M445.1,496.1 v1.1 M446.0,496.1 v1.1 M446.8,496.1 v1.1 M447.6,496.1 v1.1 M448.2,496.1 v2" fill="none" stroke="#111" stroke-width="0.95"/>
<text transform="translate(388.2,505.4) scale(0.77,1)" class="tk">10<tspan dy="-2.5" class="sp">0</tspan></text>
<text transform="translate(402.2,505.4) scale(0.77,1)" class="tk">10<tspan dy="-2.5" class="sp">1</tspan></text>
<text transform="translate(416.2,505.4) scale(0.77,1)" class="tk">10<tspan dy="-2.5" class="sp">2</tspan></text>
<text transform="translate(430.2,505.4) scale(0.77,1)" class="tk">10<tspan dy="-2.5" class="sp">3</tspan></text>
<text transform="translate(444.2,505.4) scale(0.77,1)" class="tk">10<tspan dy="-2.5" class="sp">4</tspan></text>
<text x="435.4" y="446.7" class="nm">588</text>
<path d="M458.3,495.3 L458.3,490.2 L459.1,488.2 L459.8,488.9 L460.6,491.6 L461.3,493.0 L462.1,489.8 L462.8,493.3 L463.6,493.4 L464.4,492.5 L465.1,493.0 L465.9,492.0 L466.6,493.2 L467.4,492.3 L468.1,492.9 L468.9,492.4 L469.7,492.0 L470.4,492.1 L471.2,491.1 L471.9,492.7 L472.7,493.1 L473.4,490.8 L474.2,492.5 L474.9,493.1 L475.7,491.3 L476.5,493.1 L477.2,491.5 L478.0,492.4 L478.7,491.9 L479.5,493.0 L480.2,493.3 L481.0,493.5 L481.8,491.4 L482.5,493.3 L483.3,493.3 L484.0,492.0 L484.8,491.9 L485.5,491.0 L486.3,491.6 L487.1,490.5 L487.8,488.5 L488.6,489.0 L489.3,488.9 L490.1,486.7 L490.8,487.3 L491.6,483.4 L492.4,479.7 L493.1,474.0 L493.9,461.3 L494.6,463.7 L495.4,453.5 L496.1,454.4 L496.9,460.7 L497.7,468.5 L498.4,472.3 L499.2,478.8 L499.9,485.2 L500.7,490.4 L501.4,491.7 L502.2,493.4 L502.9,494.7 L503.7,494.9 L504.5,495.0 L505.2,495.0 L506.0,494.8 L506.7,495.0 L507.5,494.8 L508.2,495.0 L509.0,495.1 L509.8,495.2 L510.5,495.1 L511.3,495.0 L512.0,495.3 L512.8,495.0 L513.5,495.3 L514.3,495.3 L514.3,495.3 Z" fill="#c9c9c9" stroke="none"/>
<path d="M458.3,494.6 L459.2,494.1 L460.2,493.1 L461.1,491.7 L462.1,490.8 L463.0,488.1 L464.0,488.3 L464.9,488.3 L465.9,488.1 L466.8,486.8 L467.8,483.8 L468.7,481.3 L469.7,475.4 L470.6,465.2 L471.6,456.5 L472.5,455.3 L473.5,448.9 L474.4,448.8 L475.4,453.9 L476.3,460.6 L477.3,468.8 L478.2,476.2 L479.2,482.4 L480.1,487.2 L481.1,489.7 L482.0,492.5 L483.0,494.0 L483.9,494.4 L484.9,494.9 L485.8,495.0 L486.8,494.9 L487.7,495.0 L488.7,495.1 L489.6,495.2 L490.6,495.0 L491.5,495.2 L492.5,495.3 L493.4,495.2 L494.4,495.3 L495.3,494.9 L496.3,495.3 L497.2,495.1 L498.2,494.8 L499.1,495.2 L500.1,495.2 L501.0,495.2 L502.0,495.2 L502.9,495.0 L503.9,495.1 L504.8,495.0 L505.8,495.2 L506.7,495.3 L507.7,494.9 L508.6,495.1 L509.6,495.2 L510.5,495.3 L511.5,494.9 L512.4,495.2 L513.4,495.2 L514.3,495.1" fill="none" stroke="#2a2a2a" stroke-width="0.95" stroke-dasharray="2,1.9"/>
<path d="M458.3,490.2 L459.1,488.2 L459.8,488.9 L460.6,491.6 L461.3,493.0 L462.1,489.8 L462.8,493.3 L463.6,493.4 L464.4,492.5 L465.1,493.0 L465.9,492.0 L466.6,493.2 L467.4,492.3 L468.1,492.9 L468.9,492.4 L469.7,492.0 L470.4,492.1 L471.2,491.1 L471.9,492.7 L472.7,493.1 L473.4,490.8 L474.2,492.5 L474.9,493.1 L475.7,491.3 L476.5,493.1 L477.2,491.5 L478.0,492.4 L478.7,491.9 L479.5,493.0 L480.2,493.3 L481.0,493.5 L481.8,491.4 L482.5,493.3 L483.3,493.3 L484.0,492.0 L484.8,491.9 L485.5,491.0 L486.3,491.6 L487.1,490.5 L487.8,488.5 L488.6,489.0 L489.3,488.9 L490.1,486.7 L490.8,487.3 L491.6,483.4 L492.4,479.7 L493.1,474.0 L493.9,461.3 L494.6,463.7 L495.4,453.5 L496.1,454.4 L496.9,460.7 L497.7,468.5 L498.4,472.3 L499.2,478.8 L499.9,485.2 L500.7,490.4 L501.4,491.7 L502.2,493.4 L502.9,494.7 L503.7,494.9 L504.5,495.0 L505.2,495.0 L506.0,494.8 L506.7,495.0 L507.5,494.8 L508.2,495.0 L509.0,495.1 L509.8,495.2 L510.5,495.1 L511.3,495.0 L512.0,495.3 L512.8,495.0 L513.5,495.3 L514.3,495.3" fill="none" stroke="#111" stroke-width="0.95" stroke-linejoin="round"/>
<path d="M458.3,435.4 H514.3 V496.4" fill="none" stroke="#666" stroke-width="0.8"/>
<path d="M458.3,435.4 V496.4" fill="none" stroke="#222" stroke-width="0.8"/>
<path d="M457.9,496.4 H514.6" fill="none" stroke="#111" stroke-width="0.9"/>
<path d="M456.4,496.4 h2.4 M457.2,493.3 h1.6 M457.2,490.3 h1.6 M457.2,487.2 h1.6 M457.2,484.2 h1.6 M456.4,481.1 h2.4 M457.2,478.1 h1.6 M457.2,475.0 h1.6 M457.2,472.0 h1.6 M457.2,468.9 h1.6 M456.4,465.9 h2.4 M457.2,462.8 h1.6 M457.2,459.8 h1.6 M457.2,456.7 h1.6 M457.2,453.7 h1.6 M456.4,450.6 h2.4 M457.2,447.6 h1.6 M457.2,444.5 h1.6 M457.2,441.5 h1.6 M457.2,438.4 h1.6 M458.3,496.1 v2.0 M462.5,496.1 v1.1 M465.0,496.1 v1.1 M466.7,496.1 v1.1 M468.1,496.1 v1.1 M469.2,496.1 v1.1 M470.1,496.1 v1.1 M470.9,496.1 v1.1 M471.7,496.1 v1.1 M472.3,496.1 v2.0 M476.5,496.1 v1.1 M479.0,496.1 v1.1 M480.7,496.1 v1.1 M482.1,496.1 v1.1 M483.2,496.1 v1.1 M484.1,496.1 v1.1 M484.9,496.1 v1.1 M485.7,496.1 v1.1 M486.3,496.1 v2.0 M490.5,496.1 v1.1 M493.0,496.1 v1.1 M494.7,496.1 v1.1 M496.1,496.1 v1.1 M497.2,496.1 v1.1 M498.1,496.1 v1.1 M498.9,496.1 v1.1 M499.7,496.1 v1.1 M500.3,496.1 v2.0 M504.5,496.1 v1.1 M507.0,496.1 v1.1 M508.7,496.1 v1.1 M510.1,496.1 v1.1 M511.2,496.1 v1.1 M512.1,496.1 v1.1 M512.9,496.1 v1.1 M513.7,496.1 v1.1 M514.3,496.1 v2" fill="none" stroke="#111" stroke-width="0.95"/>
<text transform="translate(454.3,505.4) scale(0.77,1)" class="tk">10<tspan dy="-2.5" class="sp">0</tspan></text>
<text transform="translate(468.3,505.4) scale(0.77,1)" class="tk">10<tspan dy="-2.5" class="sp">1</tspan></text>
<text transform="translate(482.3,505.4) scale(0.77,1)" class="tk">10<tspan dy="-2.5" class="sp">2</tspan></text>
<text transform="translate(496.3,505.4) scale(0.77,1)" class="tk">10<tspan dy="-2.5" class="sp">3</tspan></text>
<text transform="translate(510.3,505.4) scale(0.77,1)" class="tk">10<tspan dy="-2.5" class="sp">4</tspan></text>
<text x="501.5" y="446.7" class="nm">303</text>
<path d="M165.3,621.7 L165.3,617.0 L166.1,613.5 L166.8,616.8 L167.6,618.3 L168.3,616.4 L169.1,618.9 L169.8,619.0 L170.6,617.9 L171.4,617.0 L172.1,617.4 L172.9,616.4 L173.6,615.7 L174.4,615.8 L175.1,615.1 L175.9,612.4 L176.7,612.5 L177.4,610.6 L178.2,607.2 L178.9,608.6 L179.7,603.4 L180.4,603.0 L181.2,602.6 L181.9,603.5 L182.7,601.8 L183.5,606.5 L184.2,603.1 L185.0,603.8 L185.7,605.8 L186.5,604.2 L187.2,606.3 L188.0,604.4 L188.8,604.8 L189.5,601.0 L190.3,602.7 L191.0,601.6 L191.8,601.3 L192.5,598.2 L193.3,603.3 L194.1,601.3 L194.8,599.3 L195.6,599.3 L196.3,601.2 L197.1,602.1 L197.8,598.7 L198.6,604.6 L199.4,603.6 L200.1,604.3 L200.9,607.4 L201.6,608.8 L202.4,611.2 L203.1,610.1 L203.9,610.7 L204.7,612.3 L205.4,613.2 L206.2,614.2 L206.9,615.1 L207.7,615.9 L208.4,617.2 L209.2,617.8 L209.9,618.5 L210.7,618.1 L211.5,617.9 L212.2,619.7 L213.0,620.3 L213.7,620.6 L214.5,620.7 L215.2,620.7 L216.0,621.0 L216.8,621.1 L217.5,621.0 L218.3,621.0 L219.0,621.4 L219.8,621.5 L220.5,621.0 L221.3,621.2 L221.3,621.7 Z" fill="#c9c9c9" stroke="none"/>
<path d="M165.3,614.6 L166.2,611.9 L167.2,609.5 L168.1,607.9 L169.1,604.0 L170.0,598.9 L171.0,598.3 L171.9,592.0 L172.9,585.7 L173.8,580.7 L174.8,573.4 L175.7,570.8 L176.7,570.8 L177.6,573.2 L178.6,579.1 L179.5,589.9 L180.5,598.5 L181.4,609.2 L182.4,613.9 L183.3,618.3 L184.3,619.7 L185.2,620.8 L186.2,621.5 L187.1,621.6 L188.1,621.4 L189.0,621.7 L190.0,621.6 L190.9,621.5 L191.9,621.5 L192.8,621.6 L193.8,621.5 L194.7,621.5 L195.7,621.6 L196.6,621.5 L197.6,621.7 L198.5,621.6 L199.5,621.2 L200.4,621.7 L201.4,621.6 L202.3,621.4 L203.3,621.7 L204.2,621.6 L205.2,621.6 L206.1,621.4 L207.1,621.6 L208.0,621.7 L209.0,621.7 L209.9,621.5 L210.9,621.5 L211.8,621.4 L212.8,621.5 L213.7,621.4 L214.7,621.5 L215.6,621.6 L216.6,621.7 L217.5,621.7 L218.5,621.2 L219.4,621.5 L220.4,621.7 L221.3,621.7" fill="none" stroke="#2a2a2a" stroke-width="0.95" stroke-dasharray="2,1.9"/>
<path d="M165.3,617.0 L166.1,613.5 L166.8,616.8 L167.6,618.3 L168.3,616.4 L169.1,618.9 L169.8,619.0 L170.6,617.9 L171.4,617.0 L172.1,617.4 L172.9,616.4 L173.6,615.7 L174.4,615.8 L175.1,615.1 L175.9,612.4 L176.7,612.5 L177.4,610.6 L178.2,607.2 L178.9,608.6 L179.7,603.4 L180.4,603.0 L181.2,602.6 L181.9,603.5 L182.7,601.8 L183.5,606.5 L184.2,603.1 L185.0,603.8 L185.7,605.8 L186.5,604.2 L187.2,606.3 L188.0,604.4 L188.8,604.8 L189.5,601.0 L190.3,602.7 L191.0,601.6 L191.8,601.3 L192.5,598.2 L193.3,603.3 L194.1,601.3 L194.8,599.3 L195.6,599.3 L196.3,601.2 L197.1,602.1 L197.8,598.7 L198.6,604.6 L199.4,603.6 L200.1,604.3 L200.9,607.4 L201.6,608.8 L202.4,611.2 L203.1,610.1 L203.9,610.7 L204.7,612.3 L205.4,613.2 L206.2,614.2 L206.9,615.1 L207.7,615.9 L208.4,617.2 L209.2,617.8 L209.9,618.5 L210.7,618.1 L211.5,617.9 L212.2,619.7 L213.0,620.3 L213.7,620.6 L214.5,620.7 L215.2,620.7 L216.0,621.0 L216.8,621.1 L217.5,621.0 L218.3,621.0 L219.0,621.4 L219.8,621.5 L220.5,621.0 L221.3,621.2" fill="none" stroke="#111" stroke-width="0.95" stroke-linejoin="round"/>
<path d="M165.3,561.7 H221.3 V622.8" fill="none" stroke="#666" stroke-width="0.8"/>
<path d="M165.3,561.7 V622.8" fill="none" stroke="#222" stroke-width="0.8"/>
<path d="M164.9,622.8 H221.6" fill="none" stroke="#111" stroke-width="0.9"/>
<path d="M163.4,622.8 h2.4 M164.2,619.8 h1.6 M164.2,616.7 h1.6 M164.2,613.7 h1.6 M164.2,610.6 h1.6 M163.4,607.6 h2.4 M164.2,604.5 h1.6 M164.2,601.5 h1.6 M164.2,598.4 h1.6 M164.2,595.4 h1.6 M163.4,592.3 h2.4 M164.2,589.3 h1.6 M164.2,586.2 h1.6 M164.2,583.2 h1.6 M164.2,580.1 h1.6 M163.4,577.1 h2.4 M164.2,574.0 h1.6 M164.2,571.0 h1.6 M164.2,567.9 h1.6 M164.2,564.9 h1.6 M165.3,622.5 v2.0 M169.5,622.5 v1.1 M172.0,622.5 v1.1 M173.7,622.5 v1.1 M175.1,622.5 v1.1 M176.2,622.5 v1.1 M177.1,622.5 v1.1 M177.9,622.5 v1.1 M178.7,622.5 v1.1 M179.3,622.5 v2.0 M183.5,622.5 v1.1 M186.0,622.5 v1.1 M187.7,622.5 v1.1 M189.1,622.5 v1.1 M190.2,622.5 v1.1 M191.1,622.5 v1.1 M191.9,622.5 v1.1 M192.7,622.5 v1.1 M193.3,622.5 v2.0 M197.5,622.5 v1.1 M200.0,622.5 v1.1 M201.7,622.5 v1.1 M203.1,622.5 v1.1 M204.2,622.5 v1.1 M205.1,622.5 v1.1 M205.9,622.5 v1.1 M206.7,622.5 v1.1 M207.3,622.5 v2.0 M211.5,622.5 v1.1 M214.0,622.5 v1.1 M215.7,622.5 v1.1 M217.1,622.5 v1.1 M218.2,622.5 v1.1 M219.1,622.5 v1.1 M219.9,622.5 v1.1 M220.7,622.5 v1.1 M221.3,622.5 v2" fill="none" stroke="#111" stroke-width="0.95"/>
<text transform="translate(161.3,631.8) scale(0.77,1)" class="tk">10<tspan dy="-2.5" class="sp">0</tspan></text>
<text transform="translate(175.3,631.8) scale(0.77,1)" class="tk">10<tspan dy="-2.5" class="sp">1</tspan></text>
<text transform="translate(189.3,631.8) scale(0.77,1)" class="tk">10<tspan dy="-2.5" class="sp">2</tspan></text>
<text transform="translate(203.3,631.8) scale(0.77,1)" class="tk">10<tspan dy="-2.5" class="sp">3</tspan></text>
<text transform="translate(217.3,631.8) scale(0.77,1)" class="tk">10<tspan dy="-2.5" class="sp">4</tspan></text>
<text x="208.9" y="572.6" class="nm">126</text>
<path d="M229.2,621.7 L229.2,611.9 L230.0,609.8 L230.7,610.0 L231.5,609.6 L232.2,607.8 L233.0,606.6 L233.7,602.6 L234.5,598.0 L235.3,597.5 L236.0,593.9 L236.8,589.5 L237.5,587.4 L238.3,585.8 L239.0,583.2 L239.8,572.0 L240.6,577.2 L241.3,581.1 L242.1,574.0 L242.8,576.3 L243.6,577.0 L244.3,580.3 L245.1,575.2 L245.8,579.1 L246.6,588.7 L247.4,594.1 L248.1,597.3 L248.9,601.8 L249.6,606.1 L250.4,607.3 L251.1,612.0 L251.9,613.7 L252.7,612.8 L253.4,616.2 L254.2,617.2 L254.9,618.7 L255.7,619.0 L256.4,619.1 L257.2,618.7 L258.0,619.2 L258.7,619.4 L259.5,619.3 L260.2,619.3 L261.0,617.7 L261.7,619.0 L262.5,619.9 L263.3,619.2 L264.0,619.5 L264.8,619.4 L265.5,619.4 L266.3,619.3 L267.0,619.8 L267.8,619.2 L268.6,619.3 L269.3,620.0 L270.1,619.4 L270.8,619.1 L271.6,619.4 L272.3,619.5 L273.1,620.2 L273.8,618.1 L274.6,619.8 L275.4,620.0 L276.1,619.8 L276.9,618.7 L277.6,620.4 L278.4,620.3 L279.1,619.8 L279.9,620.6 L280.7,620.5 L281.4,620.4 L282.2,620.5 L282.9,620.7 L283.7,620.2 L284.4,620.5 L285.2,620.7 L285.2,621.7 Z" fill="#c9c9c9" stroke="none"/>
<path d="M229.2,616.4 L230.1,613.5 L231.1,612.0 L232.0,610.0 L233.0,606.2 L233.9,601.6 L234.9,596.7 L235.8,594.1 L236.8,589.0 L237.7,586.7 L238.7,579.4 L239.6,580.2 L240.6,578.2 L241.5,573.4 L242.5,576.0 L243.4,574.4 L244.4,582.4 L245.3,585.2 L246.3,590.4 L247.2,599.9 L248.2,604.3 L249.1,610.7 L250.1,614.0 L251.0,617.0 L252.0,618.8 L252.9,619.9 L253.9,621.0 L254.8,621.2 L255.8,621.4 L256.7,621.5 L257.7,621.7 L258.6,621.6 L259.6,621.6 L260.5,621.6 L261.5,621.7 L262.4,621.5 L263.4,621.6 L264.3,621.7 L265.3,621.7 L266.2,621.5 L267.2,621.5 L268.1,621.7 L269.1,621.5 L270.0,621.6 L271.0,621.5 L271.9,621.6 L272.9,621.6 L273.8,621.4 L274.8,621.3 L275.7,621.6 L276.7,621.6 L277.6,621.5 L278.6,621.6 L279.5,621.6 L280.5,621.4 L281.4,621.6 L282.4,621.5 L283.3,621.7 L284.3,621.6 L285.2,621.7" fill="none" stroke="#2a2a2a" stroke-width="0.95" stroke-dasharray="2,1.9"/>
<path d="M229.2,611.9 L230.0,609.8 L230.7,610.0 L231.5,609.6 L232.2,607.8 L233.0,606.6 L233.7,602.6 L234.5,598.0 L235.3,597.5 L236.0,593.9 L236.8,589.5 L237.5,587.4 L238.3,585.8 L239.0,583.2 L239.8,572.0 L240.6,577.2 L241.3,581.1 L242.1,574.0 L242.8,576.3 L243.6,577.0 L244.3,580.3 L245.1,575.2 L245.8,579.1 L246.6,588.7 L247.4,594.1 L248.1,597.3 L248.9,601.8 L249.6,606.1 L250.4,607.3 L251.1,612.0 L251.9,613.7 L252.7,612.8 L253.4,616.2 L254.2,617.2 L254.9,618.7 L255.7,619.0 L256.4,619.1 L257.2,618.7 L258.0,619.2 L258.7,619.4 L259.5,619.3 L260.2,619.3 L261.0,617.7 L261.7,619.0 L262.5,619.9 L263.3,619.2 L264.0,619.5 L264.8,619.4 L265.5,619.4 L266.3,619.3 L267.0,619.8 L267.8,619.2 L268.6,619.3 L269.3,620.0 L270.1,619.4 L270.8,619.1 L271.6,619.4 L272.3,619.5 L273.1,620.2 L273.8,618.1 L274.6,619.8 L275.4,620.0 L276.1,619.8 L276.9,618.7 L277.6,620.4 L278.4,620.3 L279.1,619.8 L279.9,620.6 L280.7,620.5 L281.4,620.4 L282.2,620.5 L282.9,620.7 L283.7,620.2 L284.4,620.5 L285.2,620.7" fill="none" stroke="#111" stroke-width="0.95" stroke-linejoin="round"/>
<path d="M229.2,561.7 H285.2 V622.8" fill="none" stroke="#666" stroke-width="0.8"/>
<path d="M229.2,561.7 V622.8" fill="none" stroke="#222" stroke-width="0.8"/>
<path d="M228.8,622.8 H285.5" fill="none" stroke="#111" stroke-width="0.9"/>
<path d="M227.3,622.8 h2.4 M228.1,619.8 h1.6 M228.1,616.7 h1.6 M228.1,613.7 h1.6 M228.1,610.6 h1.6 M227.3,607.6 h2.4 M228.1,604.5 h1.6 M228.1,601.5 h1.6 M228.1,598.4 h1.6 M228.1,595.4 h1.6 M227.3,592.3 h2.4 M228.1,589.3 h1.6 M228.1,586.2 h1.6 M228.1,583.2 h1.6 M228.1,580.1 h1.6 M227.3,577.1 h2.4 M228.1,574.0 h1.6 M228.1,571.0 h1.6 M228.1,567.9 h1.6 M228.1,564.9 h1.6 M229.2,622.5 v2.0 M233.4,622.5 v1.1 M235.9,622.5 v1.1 M237.6,622.5 v1.1 M239.0,622.5 v1.1 M240.1,622.5 v1.1 M241.0,622.5 v1.1 M241.8,622.5 v1.1 M242.6,622.5 v1.1 M243.2,622.5 v2.0 M247.4,622.5 v1.1 M249.9,622.5 v1.1 M251.6,622.5 v1.1 M253.0,622.5 v1.1 M254.1,622.5 v1.1 M255.0,622.5 v1.1 M255.8,622.5 v1.1 M256.6,622.5 v1.1 M257.2,622.5 v2.0 M261.4,622.5 v1.1 M263.9,622.5 v1.1 M265.6,622.5 v1.1 M267.0,622.5 v1.1 M268.1,622.5 v1.1 M269.0,622.5 v1.1 M269.8,622.5 v1.1 M270.6,622.5 v1.1 M271.2,622.5 v2.0 M275.4,622.5 v1.1 M277.9,622.5 v1.1 M279.6,622.5 v1.1 M281.0,622.5 v1.1 M282.1,622.5 v1.1 M283.0,622.5 v1.1 M283.8,622.5 v1.1 M284.6,622.5 v1.1 M285.2,622.5 v2" fill="none" stroke="#111" stroke-width="0.95"/>
<text transform="translate(225.2,631.8) scale(0.77,1)" class="tk">10<tspan dy="-2.5" class="sp">0</tspan></text>
<text transform="translate(239.2,631.8) scale(0.77,1)" class="tk">10<tspan dy="-2.5" class="sp">1</tspan></text>
<text transform="translate(253.2,631.8) scale(0.77,1)" class="tk">10<tspan dy="-2.5" class="sp">2</tspan></text>
<text transform="translate(267.2,631.8) scale(0.77,1)" class="tk">10<tspan dy="-2.5" class="sp">3</tspan></text>
<text transform="translate(281.2,631.8) scale(0.77,1)" class="tk">10<tspan dy="-2.5" class="sp">4</tspan></text>
<text x="274.5" y="572.6" class="nm">30</text>
<path d="M293.8,621.7 L293.8,617.7 L294.6,614.5 L295.3,617.0 L296.1,619.9 L296.8,621.1 L297.6,621.0 L298.3,620.6 L299.1,620.6 L299.9,620.1 L300.6,617.9 L301.4,617.9 L302.1,616.5 L302.9,614.2 L303.6,614.2 L304.4,613.1 L305.2,610.9 L305.9,607.3 L306.7,608.0 L307.4,608.1 L308.2,605.5 L308.9,607.3 L309.7,608.4 L310.4,609.5 L311.2,610.0 L312.0,611.6 L312.7,611.7 L313.5,612.8 L314.2,612.9 L315.0,611.6 L315.7,611.4 L316.5,612.1 L317.3,609.5 L318.0,611.6 L318.8,613.8 L319.5,614.0 L320.3,615.1 L321.0,617.6 L321.8,617.3 L322.6,617.3 L323.3,616.6 L324.1,613.8 L324.8,611.0 L325.6,606.5 L326.3,603.4 L327.1,602.4 L327.9,597.0 L328.6,595.4 L329.4,586.5 L330.1,588.1 L330.9,591.4 L331.6,594.6 L332.4,602.6 L333.2,605.7 L333.9,609.7 L334.7,615.3 L335.4,616.0 L336.2,617.2 L336.9,618.8 L337.7,620.7 L338.4,621.0 L339.2,621.4 L340.0,621.4 L340.7,620.8 L341.5,621.6 L342.2,621.1 L343.0,621.5 L343.7,621.4 L344.5,621.6 L345.3,621.6 L346.0,621.5 L346.8,621.1 L347.5,621.4 L348.3,621.5 L349.0,621.3 L349.8,621.7 L349.8,621.7 Z" fill="#c9c9c9" stroke="none"/>
<path d="M293.8,612.3 L294.7,611.3 L295.7,607.5 L296.6,606.8 L297.6,604.5 L298.5,598.4 L299.5,595.8 L300.4,590.0 L301.4,589.2 L302.3,582.1 L303.3,576.2 L304.2,575.6 L305.2,566.8 L306.1,570.5 L307.1,568.8 L308.0,582.1 L309.0,591.0 L309.9,601.1 L310.9,610.7 L311.8,616.3 L312.8,618.6 L313.7,620.8 L314.7,621.4 L315.6,621.5 L316.6,621.6 L317.5,621.7 L318.5,621.4 L319.4,621.6 L320.4,621.4 L321.3,621.7 L322.3,621.6 L323.2,621.7 L324.2,621.4 L325.1,621.5 L326.1,621.6 L327.0,621.7 L328.0,621.7 L328.9,621.7 L329.9,621.5 L330.8,621.7 L331.8,621.6 L332.7,621.4 L333.7,621.3 L334.6,621.5 L335.6,621.7 L336.5,621.4 L337.5,621.7 L338.4,621.3 L339.4,621.7 L340.3,621.6 L341.3,621.6 L342.2,621.6 L343.2,621.6 L344.1,621.7 L345.1,621.6 L346.0,621.5 L347.0,621.6 L347.9,621.5 L348.9,621.5 L349.8,621.7" fill="none" stroke="#2a2a2a" stroke-width="0.95" stroke-dasharray="2,1.9"/>
<path d="M293.8,617.7 L294.6,614.5 L295.3,617.0 L296.1,619.9 L296.8,621.1 L297.6,621.0 L298.3,620.6 L299.1,620.6 L299.9,620.1 L300.6,617.9 L301.4,617.9 L302.1,616.5 L302.9,614.2 L303.6,614.2 L304.4,613.1 L305.2,610.9 L305.9,607.3 L306.7,608.0 L307.4,608.1 L308.2,605.5 L308.9,607.3 L309.7,608.4 L310.4,609.5 L311.2,610.0 L312.0,611.6 L312.7,611.7 L313.5,612.8 L314.2,612.9 L315.0,611.6 L315.7,611.4 L316.5,612.1 L317.3,609.5 L318.0,611.6 L318.8,613.8 L319.5,614.0 L320.3,615.1 L321.0,617.6 L321.8,617.3 L322.6,617.3 L323.3,616.6 L324.1,613.8 L324.8,611.0 L325.6,606.5 L326.3,603.4 L327.1,602.4 L327.9,597.0 L328.6,595.4 L329.4,586.5 L330.1,588.1 L330.9,591.4 L331.6,594.6 L332.4,602.6 L333.2,605.7 L333.9,609.7 L334.7,615.3 L335.4,616.0 L336.2,617.2 L336.9,618.8 L337.7,620.7 L338.4,621.0 L339.2,621.4 L340.0,621.4 L340.7,620.8 L341.5,621.6 L342.2,621.1 L343.0,621.5 L343.7,621.4 L344.5,621.6 L345.3,621.6 L346.0,621.5 L346.8,621.1 L347.5,621.4 L348.3,621.5 L349.0,621.3 L349.8,621.7" fill="none" stroke="#111" stroke-width="0.95" stroke-linejoin="round"/>
<path d="M293.8,561.7 H349.8 V622.8" fill="none" stroke="#666" stroke-width="0.8"/>
<path d="M293.8,561.7 V622.8" fill="none" stroke="#222" stroke-width="0.8"/>
<path d="M293.4,622.8 H350.1" fill="none" stroke="#111" stroke-width="0.9"/>
<path d="M291.9,622.8 h2.4 M292.7,619.8 h1.6 M292.7,616.7 h1.6 M292.7,613.7 h1.6 M292.7,610.6 h1.6 M291.9,607.6 h2.4 M292.7,604.5 h1.6 M292.7,601.5 h1.6 M292.7,598.4 h1.6 M292.7,595.4 h1.6 M291.9,592.3 h2.4 M292.7,589.3 h1.6 M292.7,586.2 h1.6 M292.7,583.2 h1.6 M292.7,580.1 h1.6 M291.9,577.1 h2.4 M292.7,574.0 h1.6 M292.7,571.0 h1.6 M292.7,567.9 h1.6 M292.7,564.9 h1.6 M293.8,622.5 v2.0 M298.0,622.5 v1.1 M300.5,622.5 v1.1 M302.2,622.5 v1.1 M303.6,622.5 v1.1 M304.7,622.5 v1.1 M305.6,622.5 v1.1 M306.4,622.5 v1.1 M307.2,622.5 v1.1 M307.8,622.5 v2.0 M312.0,622.5 v1.1 M314.5,622.5 v1.1 M316.2,622.5 v1.1 M317.6,622.5 v1.1 M318.7,622.5 v1.1 M319.6,622.5 v1.1 M320.4,622.5 v1.1 M321.2,622.5 v1.1 M321.8,622.5 v2.0 M326.0,622.5 v1.1 M328.5,622.5 v1.1 M330.2,622.5 v1.1 M331.6,622.5 v1.1 M332.7,622.5 v1.1 M333.6,622.5 v1.1 M334.4,622.5 v1.1 M335.2,622.5 v1.1 M335.8,622.5 v2.0 M340.0,622.5 v1.1 M342.5,622.5 v1.1 M344.2,622.5 v1.1 M345.6,622.5 v1.1 M346.7,622.5 v1.1 M347.6,622.5 v1.1 M348.4,622.5 v1.1 M349.2,622.5 v1.1 M349.8,622.5 v2" fill="none" stroke="#111" stroke-width="0.95"/>
<text transform="translate(289.8,631.8) scale(0.77,1)" class="tk">10<tspan dy="-2.5" class="sp">0</tspan></text>
<text transform="translate(303.8,631.8) scale(0.77,1)" class="tk">10<tspan dy="-2.5" class="sp">1</tspan></text>
<text transform="translate(317.8,631.8) scale(0.77,1)" class="tk">10<tspan dy="-2.5" class="sp">2</tspan></text>
<text transform="translate(331.8,631.8) scale(0.77,1)" class="tk">10<tspan dy="-2.5" class="sp">3</tspan></text>
<text transform="translate(345.8,631.8) scale(0.77,1)" class="tk">10<tspan dy="-2.5" class="sp">4</tspan></text>
<text x="337.4" y="572.6" class="nm">217</text>
<path d="M361.5,621.7 L361.5,616.8 L362.3,616.9 L363.0,619.0 L363.8,620.6 L364.5,621.1 L365.3,621.2 L366.0,621.4 L366.8,620.9 L367.6,621.0 L368.3,620.5 L369.1,620.8 L369.8,620.5 L370.6,620.5 L371.3,620.3 L372.1,619.5 L372.9,619.6 L373.6,619.0 L374.4,618.1 L375.1,618.4 L375.9,617.8 L376.6,616.9 L377.4,615.8 L378.1,615.9 L378.9,611.5 L379.7,613.0 L380.4,612.4 L381.2,612.0 L381.9,609.4 L382.7,606.8 L383.4,606.3 L384.2,604.5 L385.0,604.2 L385.7,598.1 L386.5,598.5 L387.2,597.5 L388.0,593.3 L388.7,594.4 L389.5,591.6 L390.3,591.8 L391.0,587.3 L391.8,586.8 L392.5,581.1 L393.3,585.1 L394.0,583.4 L394.8,586.6 L395.6,581.0 L396.3,586.0 L397.1,584.4 L397.8,590.4 L398.6,590.1 L399.3,599.1 L400.1,604.7 L400.9,605.6 L401.6,610.3 L402.4,613.5 L403.1,614.8 L403.9,617.4 L404.6,618.8 L405.4,618.6 L406.1,620.5 L406.9,621.1 L407.7,620.8 L408.4,621.2 L409.2,621.3 L409.9,621.4 L410.7,621.4 L411.4,621.3 L412.2,621.3 L413.0,621.1 L413.7,621.4 L414.5,621.0 L415.2,621.6 L416.0,621.4 L416.7,621.6 L417.5,621.6 L417.5,621.7 Z" fill="#c9c9c9" stroke="none"/>
<path d="M361.5,613.5 L362.4,611.9 L363.4,609.1 L364.3,606.2 L365.3,605.4 L366.2,601.2 L367.2,598.0 L368.1,595.0 L369.1,593.1 L370.0,586.6 L371.0,584.6 L371.9,576.4 L372.9,572.7 L373.8,574.8 L374.8,577.7 L375.7,578.2 L376.7,590.5 L377.6,601.7 L378.6,610.1 L379.5,615.0 L380.5,618.9 L381.4,620.6 L382.4,621.3 L383.3,621.5 L384.3,621.6 L385.2,621.6 L386.2,621.6 L387.1,621.7 L388.1,621.6 L389.0,621.6 L390.0,621.5 L390.9,621.5 L391.9,621.6 L392.8,621.3 L393.8,621.6 L394.7,621.7 L395.7,621.4 L396.6,621.5 L397.6,621.7 L398.5,621.7 L399.5,621.6 L400.4,621.5 L401.4,621.6 L402.3,621.4 L403.3,621.5 L404.2,621.3 L405.2,621.2 L406.1,621.7 L407.1,621.5 L408.0,621.6 L409.0,621.7 L409.9,621.6 L410.9,621.6 L411.8,621.5 L412.8,621.4 L413.7,621.5 L414.7,621.5 L415.6,621.4 L416.6,621.6 L417.5,621.3" fill="none" stroke="#2a2a2a" stroke-width="0.95" stroke-dasharray="2,1.9"/>
<path d="M361.5,616.8 L362.3,616.9 L363.0,619.0 L363.8,620.6 L364.5,621.1 L365.3,621.2 L366.0,621.4 L366.8,620.9 L367.6,621.0 L368.3,620.5 L369.1,620.8 L369.8,620.5 L370.6,620.5 L371.3,620.3 L372.1,619.5 L372.9,619.6 L373.6,619.0 L374.4,618.1 L375.1,618.4 L375.9,617.8 L376.6,616.9 L377.4,615.8 L378.1,615.9 L378.9,611.5 L379.7,613.0 L380.4,612.4 L381.2,612.0 L381.9,609.4 L382.7,606.8 L383.4,606.3 L384.2,604.5 L385.0,604.2 L385.7,598.1 L386.5,598.5 L387.2,597.5 L388.0,593.3 L388.7,594.4 L389.5,591.6 L390.3,591.8 L391.0,587.3 L391.8,586.8 L392.5,581.1 L393.3,585.1 L394.0,583.4 L394.8,586.6 L395.6,581.0 L396.3,586.0 L397.1,584.4 L397.8,590.4 L398.6,590.1 L399.3,599.1 L400.1,604.7 L400.9,605.6 L401.6,610.3 L402.4,613.5 L403.1,614.8 L403.9,617.4 L404.6,618.8 L405.4,618.6 L406.1,620.5 L406.9,621.1 L407.7,620.8 L408.4,621.2 L409.2,621.3 L409.9,621.4 L410.7,621.4 L411.4,621.3 L412.2,621.3 L413.0,621.1 L413.7,621.4 L414.5,621.0 L415.2,621.6 L416.0,621.4 L416.7,621.6 L417.5,621.6" fill="none" stroke="#111" stroke-width="0.95" stroke-linejoin="round"/>
<path d="M361.5,561.7 H417.5 V622.8" fill="none" stroke="#666" stroke-width="0.8"/>
<path d="M361.5,561.7 V622.8" fill="none" stroke="#222" stroke-width="0.8"/>
<path d="M361.1,622.8 H417.8" fill="none" stroke="#111" stroke-width="0.9"/>
<path d="M359.6,622.8 h2.4 M360.4,619.8 h1.6 M360.4,616.7 h1.6 M360.4,613.7 h1.6 M360.4,610.6 h1.6 M359.6,607.6 h2.4 M360.4,604.5 h1.6 M360.4,601.5 h1.6 M360.4,598.4 h1.6 M360.4,595.4 h1.6 M359.6,592.3 h2.4 M360.4,589.3 h1.6 M360.4,586.2 h1.6 M360.4,583.2 h1.6 M360.4,580.1 h1.6 M359.6,577.1 h2.4 M360.4,574.0 h1.6 M360.4,571.0 h1.6 M360.4,567.9 h1.6 M360.4,564.9 h1.6 M361.5,622.5 v2.0 M365.7,622.5 v1.1 M368.2,622.5 v1.1 M369.9,622.5 v1.1 M371.3,622.5 v1.1 M372.4,622.5 v1.1 M373.3,622.5 v1.1 M374.1,622.5 v1.1 M374.9,622.5 v1.1 M375.5,622.5 v2.0 M379.7,622.5 v1.1 M382.2,622.5 v1.1 M383.9,622.5 v1.1 M385.3,622.5 v1.1 M386.4,622.5 v1.1 M387.3,622.5 v1.1 M388.1,622.5 v1.1 M388.9,622.5 v1.1 M389.5,622.5 v2.0 M393.7,622.5 v1.1 M396.2,622.5 v1.1 M397.9,622.5 v1.1 M399.3,622.5 v1.1 M400.4,622.5 v1.1 M401.3,622.5 v1.1 M402.1,622.5 v1.1 M402.9,622.5 v1.1 M403.5,622.5 v2.0 M407.7,622.5 v1.1 M410.2,622.5 v1.1 M411.9,622.5 v1.1 M413.3,622.5 v1.1 M414.4,622.5 v1.1 M415.3,622.5 v1.1 M416.1,622.5 v1.1 M416.9,622.5 v1.1 M417.5,622.5 v2" fill="none" stroke="#111" stroke-width="0.95"/>
<text transform="translate(357.5,631.8) scale(0.77,1)" class="tk">10<tspan dy="-2.5" class="sp">0</tspan></text>
<text transform="translate(371.5,631.8) scale(0.77,1)" class="tk">10<tspan dy="-2.5" class="sp">1</tspan></text>
<text transform="translate(385.5,631.8) scale(0.77,1)" class="tk">10<tspan dy="-2.5" class="sp">2</tspan></text>
<text transform="translate(399.5,631.8) scale(0.77,1)" class="tk">10<tspan dy="-2.5" class="sp">3</tspan></text>
<text transform="translate(413.5,631.8) scale(0.77,1)" class="tk">10<tspan dy="-2.5" class="sp">4</tspan></text>
<text x="405.1" y="572.6" class="nm">154</text>
<path d="M165.3,696.0 L165.3,691.4 L166.1,689.5 L166.8,690.3 L167.6,693.2 L168.3,692.5 L169.1,694.5 L169.8,693.9 L170.6,694.2 L171.4,693.4 L172.1,693.5 L172.9,693.2 L173.6,694.2 L174.4,694.2 L175.1,694.0 L175.9,693.8 L176.7,693.2 L177.4,693.6 L178.2,692.8 L178.9,691.3 L179.7,690.6 L180.4,687.8 L181.2,687.1 L181.9,685.9 L182.7,686.1 L183.5,686.6 L184.2,688.3 L185.0,689.7 L185.7,689.0 L186.5,688.7 L187.2,688.8 L188.0,688.4 L188.8,684.2 L189.5,684.1 L190.3,679.2 L191.0,680.8 L191.8,676.9 L192.5,673.1 L193.3,670.5 L194.1,668.0 L194.8,668.8 L195.6,664.6 L196.3,664.2 L197.1,665.3 L197.8,660.5 L198.6,664.6 L199.4,664.7 L200.1,665.7 L200.9,667.1 L201.6,673.1 L202.4,671.5 L203.1,673.8 L203.9,679.3 L204.7,680.2 L205.4,684.5 L206.2,686.9 L206.9,687.9 L207.7,689.2 L208.4,691.2 L209.2,692.8 L209.9,692.9 L210.7,693.9 L211.5,694.7 L212.2,695.3 L213.0,694.9 L213.7,695.3 L214.5,695.8 L215.2,695.8 L216.0,695.1 L216.8,695.8 L217.5,695.5 L218.3,695.9 L219.0,695.8 L219.8,696.0 L220.5,695.4 L221.3,695.7 L221.3,696.0 Z" fill="#c9c9c9" stroke="none"/>
<path d="M165.3,686.4 L166.2,684.3 L167.2,682.5 L168.1,678.7 L169.1,675.4 L170.0,672.0 L171.0,666.1 L171.9,662.6 L172.9,655.8 L173.8,652.7 L174.8,646.4 L175.7,645.8 L176.7,650.4 L177.6,652.1 L178.6,662.1 L179.5,671.1 L180.5,680.8 L181.4,687.5 L182.4,691.7 L183.3,693.8 L184.3,694.9 L185.2,695.6 L186.2,695.7 L187.1,695.9 L188.1,695.9 L189.0,695.9 L190.0,695.8 L190.9,695.9 L191.9,695.9 L192.8,695.8 L193.8,695.7 L194.7,696.0 L195.7,695.8 L196.6,696.0 L197.6,695.9 L198.5,695.9 L199.5,696.0 L200.4,695.9 L201.4,695.7 L202.3,695.8 L203.3,696.0 L204.2,695.8 L205.2,696.0 L206.1,695.8 L207.1,695.9 L208.0,695.9 L209.0,695.8 L209.9,695.9 L210.9,695.9 L211.8,695.9 L212.8,695.8 L213.7,695.9 L214.7,695.7 L215.6,695.8 L216.6,695.8 L217.5,695.8 L218.5,695.9 L219.4,695.8 L220.4,695.9 L221.3,696.0" fill="none" stroke="#2a2a2a" stroke-width="0.95" stroke-dasharray="2,1.9"/>
<path d="M165.3,691.4 L166.1,689.5 L166.8,690.3 L167.6,693.2 L168.3,692.5 L169.1,694.5 L169.8,693.9 L170.6,694.2 L171.4,693.4 L172.1,693.5 L172.9,693.2 L173.6,694.2 L174.4,694.2 L175.1,694.0 L175.9,693.8 L176.7,693.2 L177.4,693.6 L178.2,692.8 L178.9,691.3 L179.7,690.6 L180.4,687.8 L181.2,687.1 L181.9,685.9 L182.7,686.1 L183.5,686.6 L184.2,688.3 L185.0,689.7 L185.7,689.0 L186.5,688.7 L187.2,688.8 L188.0,688.4 L188.8,684.2 L189.5,684.1 L190.3,679.2 L191.0,680.8 L191.8,676.9 L192.5,673.1 L193.3,670.5 L194.1,668.0 L194.8,668.8 L195.6,664.6 L196.3,664.2 L197.1,665.3 L197.8,660.5 L198.6,664.6 L199.4,664.7 L200.1,665.7 L200.9,667.1 L201.6,673.1 L202.4,671.5 L203.1,673.8 L203.9,679.3 L204.7,680.2 L205.4,684.5 L206.2,686.9 L206.9,687.9 L207.7,689.2 L208.4,691.2 L209.2,692.8 L209.9,692.9 L210.7,693.9 L211.5,694.7 L212.2,695.3 L213.0,694.9 L213.7,695.3 L214.5,695.8 L215.2,695.8 L216.0,695.1 L216.8,695.8 L217.5,695.5 L218.3,695.9 L219.0,695.8 L219.8,696.0 L220.5,695.4 L221.3,695.7" fill="none" stroke="#111" stroke-width="0.95" stroke-linejoin="round"/>
<path d="M165.3,636.2 H221.3 V697.1" fill="none" stroke="#666" stroke-width="0.8"/>
<path d="M165.3,636.2 V697.1" fill="none" stroke="#222" stroke-width="0.8"/>
<path d="M164.9,697.1 H221.6" fill="none" stroke="#111" stroke-width="0.9"/>
<path d="M163.4,697.1 h2.4 M164.2,694.1 h1.6 M164.2,691.0 h1.6 M164.2,688.0 h1.6 M164.2,684.9 h1.6 M163.4,681.9 h2.4 M164.2,678.8 h1.6 M164.2,675.8 h1.6 M164.2,672.7 h1.6 M164.2,669.7 h1.6 M163.4,666.6 h2.4 M164.2,663.6 h1.6 M164.2,660.5 h1.6 M164.2,657.5 h1.6 M164.2,654.4 h1.6 M163.4,651.4 h2.4 M164.2,648.3 h1.6 M164.2,645.3 h1.6 M164.2,642.2 h1.6 M164.2,639.2 h1.6 M165.3,696.8 v2.0 M169.5,696.8 v1.1 M172.0,696.8 v1.1 M173.7,696.8 v1.1 M175.1,696.8 v1.1 M176.2,696.8 v1.1 M177.1,696.8 v1.1 M177.9,696.8 v1.1 M178.7,696.8 v1.1 M179.3,696.8 v2.0 M183.5,696.8 v1.1 M186.0,696.8 v1.1 M187.7,696.8 v1.1 M189.1,696.8 v1.1 M190.2,696.8 v1.1 M191.1,696.8 v1.1 M191.9,696.8 v1.1 M192.7,696.8 v1.1 M193.3,696.8 v2.0 M197.5,696.8 v1.1 M200.0,696.8 v1.1 M201.7,696.8 v1.1 M203.1,696.8 v1.1 M204.2,696.8 v1.1 M205.1,696.8 v1.1 M205.9,696.8 v1.1 M206.7,696.8 v1.1 M207.3,696.8 v2.0 M211.5,696.8 v1.1 M214.0,696.8 v1.1 M215.7,696.8 v1.1 M217.1,696.8 v1.1 M218.2,696.8 v1.1 M219.1,696.8 v1.1 M219.9,696.8 v1.1 M220.7,696.8 v1.1 M221.3,696.8 v2" fill="none" stroke="#111" stroke-width="0.95"/>
<text transform="translate(161.3,706.1) scale(0.77,1)" class="tk">10<tspan dy="-2.5" class="sp">0</tspan></text>
<text transform="translate(175.3,706.1) scale(0.77,1)" class="tk">10<tspan dy="-2.5" class="sp">1</tspan></text>
<text transform="translate(189.3,706.1) scale(0.77,1)" class="tk">10<tspan dy="-2.5" class="sp">2</tspan></text>
<text transform="translate(203.3,706.1) scale(0.77,1)" class="tk">10<tspan dy="-2.5" class="sp">3</tspan></text>
<text transform="translate(217.3,706.1) scale(0.77,1)" class="tk">10<tspan dy="-2.5" class="sp">4</tspan></text>
<text x="208.9" y="647.1" class="nm">176</text>
<path d="M229.2,696.0 L229.2,685.5 L230.0,684.2 L230.7,686.0 L231.5,686.5 L232.2,687.1 L233.0,684.0 L233.7,682.2 L234.5,678.6 L235.3,679.9 L236.0,675.6 L236.8,674.3 L237.5,672.1 L238.3,668.3 L239.0,666.8 L239.8,663.7 L240.6,662.5 L241.3,664.0 L242.1,659.7 L242.8,659.6 L243.6,657.4 L244.3,656.7 L245.1,662.8 L245.8,663.4 L246.6,664.7 L247.4,668.8 L248.1,667.1 L248.9,673.8 L249.6,672.2 L250.4,675.7 L251.1,679.5 L251.9,680.1 L252.7,682.7 L253.4,683.2 L254.2,685.0 L254.9,687.4 L255.7,687.8 L256.4,688.8 L257.2,689.3 L258.0,690.2 L258.7,690.5 L259.5,690.2 L260.2,690.8 L261.0,691.7 L261.7,691.1 L262.5,690.0 L263.3,692.8 L264.0,692.4 L264.8,691.2 L265.5,692.4 L266.3,692.7 L267.0,691.7 L267.8,692.5 L268.6,693.3 L269.3,693.1 L270.1,693.4 L270.8,693.1 L271.6,693.1 L272.3,693.1 L273.1,694.1 L273.8,694.0 L274.6,694.8 L275.4,694.8 L276.1,695.2 L276.9,695.3 L277.6,695.1 L278.4,695.1 L279.1,694.9 L279.9,695.2 L280.7,695.4 L281.4,695.6 L282.2,695.2 L282.9,695.7 L283.7,695.8 L284.4,695.4 L285.2,695.5 L285.2,696.0 Z" fill="#c9c9c9" stroke="none"/>
<path d="M229.2,677.5 L230.1,673.0 L231.1,671.7 L232.0,669.6 L233.0,666.3 L233.9,665.6 L234.9,659.9 L235.8,659.0 L236.8,654.7 L237.7,655.3 L238.7,657.3 L239.6,656.9 L240.6,657.2 L241.5,660.9 L242.5,664.9 L243.4,666.7 L244.4,673.0 L245.3,676.9 L246.3,678.9 L247.2,683.8 L248.2,687.6 L249.1,689.0 L250.1,692.1 L251.0,692.8 L252.0,693.1 L252.9,694.9 L253.9,695.3 L254.8,695.3 L255.8,695.6 L256.7,695.8 L257.7,695.8 L258.6,695.8 L259.6,695.7 L260.5,695.9 L261.5,695.9 L262.4,696.0 L263.4,696.0 L264.3,695.9 L265.3,695.9 L266.2,695.8 L267.2,695.6 L268.1,695.8 L269.1,695.8 L270.0,695.8 L271.0,695.7 L271.9,695.7 L272.9,695.7 L273.8,695.6 L274.8,695.8 L275.7,695.9 L276.7,695.8 L277.6,695.8 L278.6,695.9 L279.5,695.9 L280.5,695.9 L281.4,695.8 L282.4,695.8 L283.3,695.7 L284.3,696.0 L285.2,695.8" fill="none" stroke="#2a2a2a" stroke-width="0.95" stroke-dasharray="2,1.9"/>
<path d="M229.2,685.5 L230.0,684.2 L230.7,686.0 L231.5,686.5 L232.2,687.1 L233.0,684.0 L233.7,682.2 L234.5,678.6 L235.3,679.9 L236.0,675.6 L236.8,674.3 L237.5,672.1 L238.3,668.3 L239.0,666.8 L239.8,663.7 L240.6,662.5 L241.3,664.0 L242.1,659.7 L242.8,659.6 L243.6,657.4 L244.3,656.7 L245.1,662.8 L245.8,663.4 L246.6,664.7 L247.4,668.8 L248.1,667.1 L248.9,673.8 L249.6,672.2 L250.4,675.7 L251.1,679.5 L251.9,680.1 L252.7,682.7 L253.4,683.2 L254.2,685.0 L254.9,687.4 L255.7,687.8 L256.4,688.8 L257.2,689.3 L258.0,690.2 L258.7,690.5 L259.5,690.2 L260.2,690.8 L261.0,691.7 L261.7,691.1 L262.5,690.0 L263.3,692.8 L264.0,692.4 L264.8,691.2 L265.5,692.4 L266.3,692.7 L267.0,691.7 L267.8,692.5 L268.6,693.3 L269.3,693.1 L270.1,693.4 L270.8,693.1 L271.6,693.1 L272.3,693.1 L273.1,694.1 L273.8,694.0 L274.6,694.8 L275.4,694.8 L276.1,695.2 L276.9,695.3 L277.6,695.1 L278.4,695.1 L279.1,694.9 L279.9,695.2 L280.7,695.4 L281.4,695.6 L282.2,695.2 L282.9,695.7 L283.7,695.8 L284.4,695.4 L285.2,695.5" fill="none" stroke="#111" stroke-width="0.95" stroke-linejoin="round"/>
<path d="M229.2,636.2 H285.2 V697.1" fill="none" stroke="#666" stroke-width="0.8"/>
<path d="M229.2,636.2 V697.1" fill="none" stroke="#222" stroke-width="0.8"/>
<path d="M228.8,697.1 H285.5" fill="none" stroke="#111" stroke-width="0.9"/>
<path d="M227.3,697.1 h2.4 M228.1,694.1 h1.6 M228.1,691.0 h1.6 M228.1,688.0 h1.6 M228.1,684.9 h1.6 M227.3,681.9 h2.4 M228.1,678.8 h1.6 M228.1,675.8 h1.6 M228.1,672.7 h1.6 M228.1,669.7 h1.6 M227.3,666.6 h2.4 M228.1,663.6 h1.6 M228.1,660.5 h1.6 M228.1,657.5 h1.6 M228.1,654.4 h1.6 M227.3,651.4 h2.4 M228.1,648.3 h1.6 M228.1,645.3 h1.6 M228.1,642.2 h1.6 M228.1,639.2 h1.6 M229.2,696.8 v2.0 M233.4,696.8 v1.1 M235.9,696.8 v1.1 M237.6,696.8 v1.1 M239.0,696.8 v1.1 M240.1,696.8 v1.1 M241.0,696.8 v1.1 M241.8,696.8 v1.1 M242.6,696.8 v1.1 M243.2,696.8 v2.0 M247.4,696.8 v1.1 M249.9,696.8 v1.1 M251.6,696.8 v1.1 M253.0,696.8 v1.1 M254.1,696.8 v1.1 M255.0,696.8 v1.1 M255.8,696.8 v1.1 M256.6,696.8 v1.1 M257.2,696.8 v2.0 M261.4,696.8 v1.1 M263.9,696.8 v1.1 M265.6,696.8 v1.1 M267.0,696.8 v1.1 M268.1,696.8 v1.1 M269.0,696.8 v1.1 M269.8,696.8 v1.1 M270.6,696.8 v1.1 M271.2,696.8 v2.0 M275.4,696.8 v1.1 M277.9,696.8 v1.1 M279.6,696.8 v1.1 M281.0,696.8 v1.1 M282.1,696.8 v1.1 M283.0,696.8 v1.1 M283.8,696.8 v1.1 M284.6,696.8 v1.1 M285.2,696.8 v2" fill="none" stroke="#111" stroke-width="0.95"/>
<text transform="translate(225.2,706.1) scale(0.77,1)" class="tk">10<tspan dy="-2.5" class="sp">0</tspan></text>
<text transform="translate(239.2,706.1) scale(0.77,1)" class="tk">10<tspan dy="-2.5" class="sp">1</tspan></text>
<text transform="translate(253.2,706.1) scale(0.77,1)" class="tk">10<tspan dy="-2.5" class="sp">2</tspan></text>
<text transform="translate(267.2,706.1) scale(0.77,1)" class="tk">10<tspan dy="-2.5" class="sp">3</tspan></text>
<text transform="translate(281.2,706.1) scale(0.77,1)" class="tk">10<tspan dy="-2.5" class="sp">4</tspan></text>
<text x="274.5" y="647.1" class="nm">42</text>
<path d="M293.8,696.0 L293.8,691.3 L294.6,689.5 L295.3,692.3 L296.1,694.6 L296.8,695.5 L297.6,695.2 L298.3,695.4 L299.1,695.2 L299.9,695.3 L300.6,695.2 L301.4,694.9 L302.1,694.6 L302.9,694.4 L303.6,692.9 L304.4,694.7 L305.2,693.5 L305.9,693.2 L306.7,692.7 L307.4,694.0 L308.2,693.6 L308.9,692.2 L309.7,692.0 L310.4,692.7 L311.2,692.5 L312.0,692.6 L312.7,691.7 L313.5,691.4 L314.2,692.0 L315.0,692.8 L315.7,691.8 L316.5,692.4 L317.3,691.8 L318.0,692.5 L318.8,689.5 L319.5,689.3 L320.3,689.9 L321.0,688.1 L321.8,687.7 L322.6,682.4 L323.3,678.8 L324.1,672.9 L324.8,665.9 L325.6,664.0 L326.3,661.8 L327.1,654.6 L327.9,652.5 L328.6,655.8 L329.4,655.9 L330.1,659.7 L330.9,663.8 L331.6,664.7 L332.4,671.6 L333.2,677.3 L333.9,682.4 L334.7,686.1 L335.4,688.7 L336.2,690.4 L336.9,692.4 L337.7,693.7 L338.4,694.8 L339.2,695.6 L340.0,695.8 L340.7,695.9 L341.5,695.5 L342.2,695.8 L343.0,695.3 L343.7,695.7 L344.5,695.9 L345.3,696.0 L346.0,695.8 L346.8,695.7 L347.5,695.6 L348.3,695.9 L349.0,695.5 L349.8,695.4 L349.8,696.0 Z" fill="#c9c9c9" stroke="none"/>
<path d="M293.8,684.9 L294.7,680.6 L295.7,677.6 L296.6,673.5 L297.6,673.3 L298.5,667.1 L299.5,665.4 L300.4,660.0 L301.4,656.6 L302.3,652.2 L303.3,648.0 L304.2,648.9 L305.2,646.3 L306.1,642.4 L307.1,648.6 L308.0,657.2 L309.0,672.4 L309.9,682.2 L310.9,690.7 L311.8,694.3 L312.8,695.3 L313.7,695.8 L314.7,695.8 L315.6,695.8 L316.6,695.5 L317.5,695.9 L318.5,695.5 L319.4,695.5 L320.4,695.9 L321.3,695.9 L322.3,696.0 L323.2,695.8 L324.2,695.8 L325.1,695.9 L326.1,695.8 L327.0,695.8 L328.0,695.8 L328.9,695.9 L329.9,695.8 L330.8,695.8 L331.8,695.7 L332.7,695.8 L333.7,695.9 L334.6,695.8 L335.6,695.9 L336.5,695.8 L337.5,695.9 L338.4,695.9 L339.4,695.8 L340.3,695.6 L341.3,695.9 L342.2,695.8 L343.2,695.9 L344.1,695.9 L345.1,696.0 L346.0,695.5 L347.0,696.0 L347.9,695.7 L348.9,695.8 L349.8,696.0" fill="none" stroke="#2a2a2a" stroke-width="0.95" stroke-dasharray="2,1.9"/>
<path d="M293.8,691.3 L294.6,689.5 L295.3,692.3 L296.1,694.6 L296.8,695.5 L297.6,695.2 L298.3,695.4 L299.1,695.2 L299.9,695.3 L300.6,695.2 L301.4,694.9 L302.1,694.6 L302.9,694.4 L303.6,692.9 L304.4,694.7 L305.2,693.5 L305.9,693.2 L306.7,692.7 L307.4,694.0 L308.2,693.6 L308.9,692.2 L309.7,692.0 L310.4,692.7 L311.2,692.5 L312.0,692.6 L312.7,691.7 L313.5,691.4 L314.2,692.0 L315.0,692.8 L315.7,691.8 L316.5,692.4 L317.3,691.8 L318.0,692.5 L318.8,689.5 L319.5,689.3 L320.3,689.9 L321.0,688.1 L321.8,687.7 L322.6,682.4 L323.3,678.8 L324.1,672.9 L324.8,665.9 L325.6,664.0 L326.3,661.8 L327.1,654.6 L327.9,652.5 L328.6,655.8 L329.4,655.9 L330.1,659.7 L330.9,663.8 L331.6,664.7 L332.4,671.6 L333.2,677.3 L333.9,682.4 L334.7,686.1 L335.4,688.7 L336.2,690.4 L336.9,692.4 L337.7,693.7 L338.4,694.8 L339.2,695.6 L340.0,695.8 L340.7,695.9 L341.5,695.5 L342.2,695.8 L343.0,695.3 L343.7,695.7 L344.5,695.9 L345.3,696.0 L346.0,695.8 L346.8,695.7 L347.5,695.6 L348.3,695.9 L349.0,695.5 L349.8,695.4" fill="none" stroke="#111" stroke-width="0.95" stroke-linejoin="round"/>
<path d="M293.8,636.2 H349.8 V697.1" fill="none" stroke="#666" stroke-width="0.8"/>
<path d="M293.8,636.2 V697.1" fill="none" stroke="#222" stroke-width="0.8"/>
<path d="M293.4,697.1 H350.1" fill="none" stroke="#111" stroke-width="0.9"/>
<path d="M291.9,697.1 h2.4 M292.7,694.1 h1.6 M292.7,691.0 h1.6 M292.7,688.0 h1.6 M292.7,684.9 h1.6 M291.9,681.9 h2.4 M292.7,678.8 h1.6 M292.7,675.8 h1.6 M292.7,672.7 h1.6 M292.7,669.7 h1.6 M291.9,666.6 h2.4 M292.7,663.6 h1.6 M292.7,660.5 h1.6 M292.7,657.5 h1.6 M292.7,654.4 h1.6 M291.9,651.4 h2.4 M292.7,648.3 h1.6 M292.7,645.3 h1.6 M292.7,642.2 h1.6 M292.7,639.2 h1.6 M293.8,696.8 v2.0 M298.0,696.8 v1.1 M300.5,696.8 v1.1 M302.2,696.8 v1.1 M303.6,696.8 v1.1 M304.7,696.8 v1.1 M305.6,696.8 v1.1 M306.4,696.8 v1.1 M307.2,696.8 v1.1 M307.8,696.8 v2.0 M312.0,696.8 v1.1 M314.5,696.8 v1.1 M316.2,696.8 v1.1 M317.6,696.8 v1.1 M318.7,696.8 v1.1 M319.6,696.8 v1.1 M320.4,696.8 v1.1 M321.2,696.8 v1.1 M321.8,696.8 v2.0 M326.0,696.8 v1.1 M328.5,696.8 v1.1 M330.2,696.8 v1.1 M331.6,696.8 v1.1 M332.7,696.8 v1.1 M333.6,696.8 v1.1 M334.4,696.8 v1.1 M335.2,696.8 v1.1 M335.8,696.8 v2.0 M340.0,696.8 v1.1 M342.5,696.8 v1.1 M344.2,696.8 v1.1 M345.6,696.8 v1.1 M346.7,696.8 v1.1 M347.6,696.8 v1.1 M348.4,696.8 v1.1 M349.2,696.8 v1.1 M349.8,696.8 v2" fill="none" stroke="#111" stroke-width="0.95"/>
<text transform="translate(289.8,706.1) scale(0.77,1)" class="tk">10<tspan dy="-2.5" class="sp">0</tspan></text>
<text transform="translate(303.8,706.1) scale(0.77,1)" class="tk">10<tspan dy="-2.5" class="sp">1</tspan></text>
<text transform="translate(317.8,706.1) scale(0.77,1)" class="tk">10<tspan dy="-2.5" class="sp">2</tspan></text>
<text transform="translate(331.8,706.1) scale(0.77,1)" class="tk">10<tspan dy="-2.5" class="sp">3</tspan></text>
<text transform="translate(345.8,706.1) scale(0.77,1)" class="tk">10<tspan dy="-2.5" class="sp">4</tspan></text>
<text x="337.4" y="647.1" class="nm">268</text>
<path d="M361.5,696.0 L361.5,690.3 L362.3,688.6 L363.0,691.6 L363.8,694.1 L364.5,695.1 L365.3,695.3 L366.0,695.1 L366.8,695.2 L367.6,695.0 L368.3,695.1 L369.1,694.8 L369.8,694.8 L370.6,694.5 L371.3,694.7 L372.1,693.3 L372.9,692.4 L373.6,694.2 L374.4,693.2 L375.1,694.0 L375.9,693.5 L376.6,693.9 L377.4,693.5 L378.1,693.3 L378.9,692.7 L379.7,691.6 L380.4,692.4 L381.2,691.8 L381.9,693.2 L382.7,690.6 L383.4,691.6 L384.2,691.3 L385.0,690.9 L385.7,689.7 L386.5,690.3 L387.2,687.7 L388.0,683.7 L388.7,684.8 L389.5,679.2 L390.3,679.0 L391.0,675.4 L391.8,671.2 L392.5,667.8 L393.3,666.3 L394.0,665.9 L394.8,655.8 L395.6,657.6 L396.3,652.2 L397.1,652.7 L397.8,650.8 L398.6,660.1 L399.3,662.6 L400.1,666.0 L400.9,671.4 L401.6,677.4 L402.4,684.4 L403.1,686.9 L403.9,690.5 L404.6,691.6 L405.4,693.4 L406.1,695.0 L406.9,695.4 L407.7,695.3 L408.4,695.3 L409.2,695.5 L409.9,695.5 L410.7,695.5 L411.4,695.4 L412.2,695.6 L413.0,695.9 L413.7,695.8 L414.5,695.8 L415.2,695.9 L416.0,695.4 L416.7,695.4 L417.5,695.6 L417.5,696.0 Z" fill="#c9c9c9" stroke="none"/>
<path d="M361.5,685.3 L362.4,681.7 L363.4,679.9 L364.3,677.8 L365.3,675.0 L366.2,668.7 L367.2,666.6 L368.1,661.2 L369.1,662.7 L370.0,655.4 L371.0,654.5 L371.9,653.4 L372.9,652.0 L373.8,649.1 L374.8,649.7 L375.7,662.3 L376.7,670.2 L377.6,682.0 L378.6,688.7 L379.5,692.7 L380.5,694.7 L381.4,695.5 L382.4,695.9 L383.3,695.9 L384.3,695.6 L385.2,695.9 L386.2,696.0 L387.1,695.9 L388.1,695.9 L389.0,695.6 L390.0,695.7 L390.9,695.9 L391.9,695.9 L392.8,695.9 L393.8,695.8 L394.7,695.8 L395.7,695.7 L396.6,695.9 L397.6,695.9 L398.5,695.9 L399.5,695.8 L400.4,695.7 L401.4,695.9 L402.3,696.0 L403.3,695.5 L404.2,695.8 L405.2,695.5 L406.1,695.9 L407.1,695.9 L408.0,695.9 L409.0,695.9 L409.9,696.0 L410.9,695.7 L411.8,695.9 L412.8,695.8 L413.7,695.8 L414.7,696.0 L415.6,696.0 L416.6,695.9 L417.5,695.9" fill="none" stroke="#2a2a2a" stroke-width="0.95" stroke-dasharray="2,1.9"/>
<path d="M361.5,690.3 L362.3,688.6 L363.0,691.6 L363.8,694.1 L364.5,695.1 L365.3,695.3 L366.0,695.1 L366.8,695.2 L367.6,695.0 L368.3,695.1 L369.1,694.8 L369.8,694.8 L370.6,694.5 L371.3,694.7 L372.1,693.3 L372.9,692.4 L373.6,694.2 L374.4,693.2 L375.1,694.0 L375.9,693.5 L376.6,693.9 L377.4,693.5 L378.1,693.3 L378.9,692.7 L379.7,691.6 L380.4,692.4 L381.2,691.8 L381.9,693.2 L382.7,690.6 L383.4,691.6 L384.2,691.3 L385.0,690.9 L385.7,689.7 L386.5,690.3 L387.2,687.7 L388.0,683.7 L388.7,684.8 L389.5,679.2 L390.3,679.0 L391.0,675.4 L391.8,671.2 L392.5,667.8 L393.3,666.3 L394.0,665.9 L394.8,655.8 L395.6,657.6 L396.3,652.2 L397.1,652.7 L397.8,650.8 L398.6,660.1 L399.3,662.6 L400.1,666.0 L400.9,671.4 L401.6,677.4 L402.4,684.4 L403.1,686.9 L403.9,690.5 L404.6,691.6 L405.4,693.4 L406.1,695.0 L406.9,695.4 L407.7,695.3 L408.4,695.3 L409.2,695.5 L409.9,695.5 L410.7,695.5 L411.4,695.4 L412.2,695.6 L413.0,695.9 L413.7,695.8 L414.5,695.8 L415.2,695.9 L416.0,695.4 L416.7,695.4 L417.5,695.6" fill="none" stroke="#111" stroke-width="0.95" stroke-linejoin="round"/>
<path d="M361.5,636.2 H417.5 V697.1" fill="none" stroke="#666" stroke-width="0.8"/>
<path d="M361.5,636.2 V697.1" fill="none" stroke="#222" stroke-width="0.8"/>
<path d="M361.1,697.1 H417.8" fill="none" stroke="#111" stroke-width="0.9"/>
<path d="M359.6,697.1 h2.4 M360.4,694.1 h1.6 M360.4,691.0 h1.6 M360.4,688.0 h1.6 M360.4,684.9 h1.6 M359.6,681.9 h2.4 M360.4,678.8 h1.6 M360.4,675.8 h1.6 M360.4,672.7 h1.6 M360.4,669.7 h1.6 M359.6,666.6 h2.4 M360.4,663.6 h1.6 M360.4,660.5 h1.6 M360.4,657.5 h1.6 M360.4,654.4 h1.6 M359.6,651.4 h2.4 M360.4,648.3 h1.6 M360.4,645.3 h1.6 M360.4,642.2 h1.6 M360.4,639.2 h1.6 M361.5,696.8 v2.0 M365.7,696.8 v1.1 M368.2,696.8 v1.1 M369.9,696.8 v1.1 M371.3,696.8 v1.1 M372.4,696.8 v1.1 M373.3,696.8 v1.1 M374.1,696.8 v1.1 M374.9,696.8 v1.1 M375.5,696.8 v2.0 M379.7,696.8 v1.1 M382.2,696.8 v1.1 M383.9,696.8 v1.1 M385.3,696.8 v1.1 M386.4,696.8 v1.1 M387.3,696.8 v1.1 M388.1,696.8 v1.1 M388.9,696.8 v1.1 M389.5,696.8 v2.0 M393.7,696.8 v1.1 M396.2,696.8 v1.1 M397.9,696.8 v1.1 M399.3,696.8 v1.1 M400.4,696.8 v1.1 M401.3,696.8 v1.1 M402.1,696.8 v1.1 M402.9,696.8 v1.1 M403.5,696.8 v2.0 M407.7,696.8 v1.1 M410.2,696.8 v1.1 M411.9,696.8 v1.1 M413.3,696.8 v1.1 M414.4,696.8 v1.1 M415.3,696.8 v1.1 M416.1,696.8 v1.1 M416.9,696.8 v1.1 M417.5,696.8 v2" fill="none" stroke="#111" stroke-width="0.95"/>
<text transform="translate(357.5,706.1) scale(0.77,1)" class="tk">10<tspan dy="-2.5" class="sp">0</tspan></text>
<text transform="translate(371.5,706.1) scale(0.77,1)" class="tk">10<tspan dy="-2.5" class="sp">1</tspan></text>
<text transform="translate(385.5,706.1) scale(0.77,1)" class="tk">10<tspan dy="-2.5" class="sp">2</tspan></text>
<text transform="translate(399.5,706.1) scale(0.77,1)" class="tk">10<tspan dy="-2.5" class="sp">3</tspan></text>
<text transform="translate(413.5,706.1) scale(0.77,1)" class="tk">10<tspan dy="-2.5" class="sp">4</tspan></text>
<text x="405.1" y="647.1" class="nm">256</text>
<path d="M165.3,771.2 L165.3,765.5 L166.1,765.4 L166.8,765.7 L167.6,769.1 L168.3,769.7 L169.1,769.9 L169.8,769.7 L170.6,769.9 L171.4,769.4 L172.1,767.9 L172.9,769.5 L173.6,769.4 L174.4,768.1 L175.1,769.1 L175.9,768.8 L176.7,768.5 L177.4,767.7 L178.2,766.0 L178.9,767.1 L179.7,765.5 L180.4,765.0 L181.2,766.0 L181.9,763.7 L182.7,763.0 L183.5,763.0 L184.2,762.9 L185.0,760.7 L185.7,763.1 L186.5,761.8 L187.2,758.0 L188.0,758.0 L188.8,755.3 L189.5,749.3 L190.3,746.8 L191.0,741.7 L191.8,743.6 L192.5,734.0 L193.3,734.9 L194.1,732.6 L194.8,731.3 L195.6,733.6 L196.3,736.4 L197.1,738.2 L197.8,737.6 L198.6,735.1 L199.4,744.9 L200.1,747.3 L200.9,748.6 L201.6,747.2 L202.4,753.9 L203.1,755.8 L203.9,760.2 L204.7,762.4 L205.4,763.4 L206.2,765.3 L206.9,766.7 L207.7,766.5 L208.4,767.9 L209.2,769.5 L209.9,770.0 L210.7,770.4 L211.5,770.5 L212.2,770.7 L213.0,770.8 L213.7,770.9 L214.5,771.0 L215.2,770.8 L216.0,770.9 L216.8,770.5 L217.5,771.0 L218.3,770.8 L219.0,771.0 L219.8,770.8 L220.5,771.2 L221.3,771.1 L221.3,771.2 Z" fill="#c9c9c9" stroke="none"/>
<path d="M165.3,759.9 L166.2,756.7 L167.2,754.2 L168.1,749.8 L169.1,746.5 L170.0,743.8 L171.0,741.3 L171.9,735.9 L172.9,728.7 L173.8,725.3 L174.8,718.6 L175.7,716.6 L176.7,720.8 L177.6,721.0 L178.6,732.2 L179.5,741.7 L180.5,752.1 L181.4,762.6 L182.4,766.5 L183.3,768.7 L184.3,770.5 L185.2,771.0 L186.2,770.9 L187.1,771.0 L188.1,770.7 L189.0,771.1 L190.0,771.1 L190.9,771.0 L191.9,771.0 L192.8,770.9 L193.8,771.0 L194.7,770.8 L195.7,771.1 L196.6,771.1 L197.6,770.8 L198.5,771.1 L199.5,770.9 L200.4,770.8 L201.4,771.1 L202.3,771.1 L203.3,771.2 L204.2,770.9 L205.2,771.0 L206.1,771.1 L207.1,770.8 L208.0,771.1 L209.0,771.1 L209.9,771.0 L210.9,771.2 L211.8,770.9 L212.8,771.1 L213.7,770.9 L214.7,771.2 L215.6,771.1 L216.6,770.9 L217.5,771.0 L218.5,771.0 L219.4,770.8 L220.4,770.9 L221.3,770.8" fill="none" stroke="#2a2a2a" stroke-width="0.95" stroke-dasharray="2,1.9"/>
<path d="M165.3,765.5 L166.1,765.4 L166.8,765.7 L167.6,769.1 L168.3,769.7 L169.1,769.9 L169.8,769.7 L170.6,769.9 L171.4,769.4 L172.1,767.9 L172.9,769.5 L173.6,769.4 L174.4,768.1 L175.1,769.1 L175.9,768.8 L176.7,768.5 L177.4,767.7 L178.2,766.0 L178.9,767.1 L179.7,765.5 L180.4,765.0 L181.2,766.0 L181.9,763.7 L182.7,763.0 L183.5,763.0 L184.2,762.9 L185.0,760.7 L185.7,763.1 L186.5,761.8 L187.2,758.0 L188.0,758.0 L188.8,755.3 L189.5,749.3 L190.3,746.8 L191.0,741.7 L191.8,743.6 L192.5,734.0 L193.3,734.9 L194.1,732.6 L194.8,731.3 L195.6,733.6 L196.3,736.4 L197.1,738.2 L197.8,737.6 L198.6,735.1 L199.4,744.9 L200.1,747.3 L200.9,748.6 L201.6,747.2 L202.4,753.9 L203.1,755.8 L203.9,760.2 L204.7,762.4 L205.4,763.4 L206.2,765.3 L206.9,766.7 L207.7,766.5 L208.4,767.9 L209.2,769.5 L209.9,770.0 L210.7,770.4 L211.5,770.5 L212.2,770.7 L213.0,770.8 L213.7,770.9 L214.5,771.0 L215.2,770.8 L216.0,770.9 L216.8,770.5 L217.5,771.0 L218.3,770.8 L219.0,771.0 L219.8,770.8 L220.5,771.2 L221.3,771.1" fill="none" stroke="#111" stroke-width="0.95" stroke-linejoin="round"/>
<path d="M165.3,711.8 H221.3 V772.3" fill="none" stroke="#666" stroke-width="0.8"/>
<path d="M165.3,711.8 V772.3" fill="none" stroke="#222" stroke-width="0.8"/>
<path d="M164.9,772.3 H221.6" fill="none" stroke="#111" stroke-width="0.9"/>
<path d="M163.4,772.3 h2.4 M164.2,769.2 h1.6 M164.2,766.2 h1.6 M164.2,763.2 h1.6 M164.2,760.1 h1.6 M163.4,757.1 h2.4 M164.2,754.0 h1.6 M164.2,751.0 h1.6 M164.2,747.9 h1.6 M164.2,744.9 h1.6 M163.4,741.8 h2.4 M164.2,738.8 h1.6 M164.2,735.7 h1.6 M164.2,732.7 h1.6 M164.2,729.6 h1.6 M163.4,726.6 h2.4 M164.2,723.5 h1.6 M164.2,720.5 h1.6 M164.2,717.4 h1.6 M164.2,714.4 h1.6 M165.3,772.0 v2.0 M169.5,772.0 v1.1 M172.0,772.0 v1.1 M173.7,772.0 v1.1 M175.1,772.0 v1.1 M176.2,772.0 v1.1 M177.1,772.0 v1.1 M177.9,772.0 v1.1 M178.7,772.0 v1.1 M179.3,772.0 v2.0 M183.5,772.0 v1.1 M186.0,772.0 v1.1 M187.7,772.0 v1.1 M189.1,772.0 v1.1 M190.2,772.0 v1.1 M191.1,772.0 v1.1 M191.9,772.0 v1.1 M192.7,772.0 v1.1 M193.3,772.0 v2.0 M197.5,772.0 v1.1 M200.0,772.0 v1.1 M201.7,772.0 v1.1 M203.1,772.0 v1.1 M204.2,772.0 v1.1 M205.1,772.0 v1.1 M205.9,772.0 v1.1 M206.7,772.0 v1.1 M207.3,772.0 v2.0 M211.5,772.0 v1.1 M214.0,772.0 v1.1 M215.7,772.0 v1.1 M217.1,772.0 v1.1 M218.2,772.0 v1.1 M219.1,772.0 v1.1 M219.9,772.0 v1.1 M220.7,772.0 v1.1 M221.3,772.0 v2" fill="none" stroke="#111" stroke-width="0.95"/>
<text transform="translate(161.3,781.3) scale(0.77,1)" class="tk">10<tspan dy="-2.5" class="sp">0</tspan></text>
<text transform="translate(175.3,781.3) scale(0.77,1)" class="tk">10<tspan dy="-2.5" class="sp">1</tspan></text>
<text transform="translate(189.3,781.3) scale(0.77,1)" class="tk">10<tspan dy="-2.5" class="sp">2</tspan></text>
<text transform="translate(203.3,781.3) scale(0.77,1)" class="tk">10<tspan dy="-2.5" class="sp">3</tspan></text>
<text transform="translate(217.3,781.3) scale(0.77,1)" class="tk">10<tspan dy="-2.5" class="sp">4</tspan></text>
<text x="208.9" y="722.7" class="nm">141</text>
<path d="M229.2,771.2 L229.2,767.6 L230.0,765.8 L230.7,767.3 L231.5,769.8 L232.2,770.6 L233.0,770.7 L233.7,770.9 L234.5,770.7 L235.3,771.1 L236.0,771.0 L236.8,770.7 L237.5,770.7 L238.3,770.4 L239.0,770.4 L239.8,769.8 L240.6,768.1 L241.3,768.5 L242.1,766.5 L242.8,765.6 L243.6,763.9 L244.3,763.0 L245.1,758.8 L245.8,758.3 L246.6,753.5 L247.4,749.3 L248.1,741.2 L248.9,738.0 L249.6,736.1 L250.4,730.6 L251.1,728.3 L251.9,729.9 L252.7,731.1 L253.4,721.0 L254.2,720.4 L254.9,723.2 L255.7,728.9 L256.4,732.7 L257.2,735.9 L258.0,736.2 L258.7,743.4 L259.5,746.1 L260.2,752.5 L261.0,756.1 L261.7,758.2 L262.5,762.5 L263.3,764.1 L264.0,765.5 L264.8,767.4 L265.5,768.4 L266.3,769.2 L267.0,769.8 L267.8,770.5 L268.6,770.6 L269.3,771.0 L270.1,770.9 L270.8,770.6 L271.6,770.6 L272.3,771.1 L273.1,770.7 L273.8,770.5 L274.6,771.0 L275.4,771.0 L276.1,770.9 L276.9,770.2 L277.6,771.0 L278.4,771.2 L279.1,770.7 L279.9,771.0 L280.7,770.5 L281.4,770.9 L282.2,770.9 L282.9,770.9 L283.7,770.6 L284.4,770.9 L285.2,770.7 L285.2,771.2 Z" fill="#c9c9c9" stroke="none"/>
<path d="M229.2,758.0 L230.1,755.9 L231.1,751.4 L232.0,747.7 L233.0,742.3 L233.9,738.2 L234.9,734.9 L235.8,728.9 L236.8,724.0 L237.7,725.6 L238.7,717.4 L239.6,719.6 L240.6,714.8 L241.5,717.9 L242.5,725.9 L243.4,739.5 L244.4,749.0 L245.3,756.7 L246.3,764.6 L247.2,767.3 L248.2,769.3 L249.1,770.6 L250.1,770.7 L251.0,771.1 L252.0,770.8 L252.9,771.1 L253.9,771.1 L254.8,771.0 L255.8,771.1 L256.7,771.0 L257.7,771.2 L258.6,771.1 L259.6,770.9 L260.5,771.1 L261.5,771.1 L262.4,771.0 L263.4,770.9 L264.3,771.2 L265.3,771.1 L266.2,771.1 L267.2,771.1 L268.1,770.8 L269.1,771.1 L270.0,771.2 L271.0,771.2 L271.9,771.0 L272.9,771.2 L273.8,771.1 L274.8,771.2 L275.7,771.2 L276.7,771.1 L277.6,770.9 L278.6,771.2 L279.5,771.1 L280.5,771.0 L281.4,771.1 L282.4,771.0 L283.3,771.2 L284.3,771.1 L285.2,771.2" fill="none" stroke="#2a2a2a" stroke-width="0.95" stroke-dasharray="2,1.9"/>
<path d="M229.2,767.6 L230.0,765.8 L230.7,767.3 L231.5,769.8 L232.2,770.6 L233.0,770.7 L233.7,770.9 L234.5,770.7 L235.3,771.1 L236.0,771.0 L236.8,770.7 L237.5,770.7 L238.3,770.4 L239.0,770.4 L239.8,769.8 L240.6,768.1 L241.3,768.5 L242.1,766.5 L242.8,765.6 L243.6,763.9 L244.3,763.0 L245.1,758.8 L245.8,758.3 L246.6,753.5 L247.4,749.3 L248.1,741.2 L248.9,738.0 L249.6,736.1 L250.4,730.6 L251.1,728.3 L251.9,729.9 L252.7,731.1 L253.4,721.0 L254.2,720.4 L254.9,723.2 L255.7,728.9 L256.4,732.7 L257.2,735.9 L258.0,736.2 L258.7,743.4 L259.5,746.1 L260.2,752.5 L261.0,756.1 L261.7,758.2 L262.5,762.5 L263.3,764.1 L264.0,765.5 L264.8,767.4 L265.5,768.4 L266.3,769.2 L267.0,769.8 L267.8,770.5 L268.6,770.6 L269.3,771.0 L270.1,770.9 L270.8,770.6 L271.6,770.6 L272.3,771.1 L273.1,770.7 L273.8,770.5 L274.6,771.0 L275.4,771.0 L276.1,770.9 L276.9,770.2 L277.6,771.0 L278.4,771.2 L279.1,770.7 L279.9,771.0 L280.7,770.5 L281.4,770.9 L282.2,770.9 L282.9,770.9 L283.7,770.6 L284.4,770.9 L285.2,770.7" fill="none" stroke="#111" stroke-width="0.95" stroke-linejoin="round"/>
<path d="M229.2,711.8 H285.2 V772.3" fill="none" stroke="#666" stroke-width="0.8"/>
<path d="M229.2,711.8 V772.3" fill="none" stroke="#222" stroke-width="0.8"/>
<path d="M228.8,772.3 H285.5" fill="none" stroke="#111" stroke-width="0.9"/>
<path d="M227.3,772.3 h2.4 M228.1,769.2 h1.6 M228.1,766.2 h1.6 M228.1,763.2 h1.6 M228.1,760.1 h1.6 M227.3,757.1 h2.4 M228.1,754.0 h1.6 M228.1,751.0 h1.6 M228.1,747.9 h1.6 M228.1,744.9 h1.6 M227.3,741.8 h2.4 M228.1,738.8 h1.6 M228.1,735.7 h1.6 M228.1,732.7 h1.6 M228.1,729.6 h1.6 M227.3,726.6 h2.4 M228.1,723.5 h1.6 M228.1,720.5 h1.6 M228.1,717.4 h1.6 M228.1,714.4 h1.6 M229.2,772.0 v2.0 M233.4,772.0 v1.1 M235.9,772.0 v1.1 M237.6,772.0 v1.1 M239.0,772.0 v1.1 M240.1,772.0 v1.1 M241.0,772.0 v1.1 M241.8,772.0 v1.1 M242.6,772.0 v1.1 M243.2,772.0 v2.0 M247.4,772.0 v1.1 M249.9,772.0 v1.1 M251.6,772.0 v1.1 M253.0,772.0 v1.1 M254.1,772.0 v1.1 M255.0,772.0 v1.1 M255.8,772.0 v1.1 M256.6,772.0 v1.1 M257.2,772.0 v2.0 M261.4,772.0 v1.1 M263.9,772.0 v1.1 M265.6,772.0 v1.1 M267.0,772.0 v1.1 M268.1,772.0 v1.1 M269.0,772.0 v1.1 M269.8,772.0 v1.1 M270.6,772.0 v1.1 M271.2,772.0 v2.0 M275.4,772.0 v1.1 M277.9,772.0 v1.1 M279.6,772.0 v1.1 M281.0,772.0 v1.1 M282.1,772.0 v1.1 M283.0,772.0 v1.1 M283.8,772.0 v1.1 M284.6,772.0 v1.1 M285.2,772.0 v2" fill="none" stroke="#111" stroke-width="0.95"/>
<text transform="translate(225.2,781.3) scale(0.77,1)" class="tk">10<tspan dy="-2.5" class="sp">0</tspan></text>
<text transform="translate(239.2,781.3) scale(0.77,1)" class="tk">10<tspan dy="-2.5" class="sp">1</tspan></text>
<text transform="translate(253.2,781.3) scale(0.77,1)" class="tk">10<tspan dy="-2.5" class="sp">2</tspan></text>
<text transform="translate(267.2,781.3) scale(0.77,1)" class="tk">10<tspan dy="-2.5" class="sp">3</tspan></text>
<text transform="translate(281.2,781.3) scale(0.77,1)" class="tk">10<tspan dy="-2.5" class="sp">4</tspan></text>
<text x="274.5" y="722.7" class="nm">63</text>
<path d="M293.8,771.2 L293.8,767.8 L294.6,765.2 L295.3,768.2 L296.1,769.6 L296.8,770.7 L297.6,770.8 L298.3,770.4 L299.1,770.3 L299.9,770.2 L300.6,770.1 L301.4,770.1 L302.1,770.0 L302.9,770.0 L303.6,768.3 L304.4,769.2 L305.2,768.0 L305.9,767.0 L306.7,766.9 L307.4,764.7 L308.2,761.9 L308.9,763.1 L309.7,761.4 L310.4,763.3 L311.2,763.7 L312.0,764.1 L312.7,767.2 L313.5,766.9 L314.2,768.3 L315.0,767.2 L315.7,768.6 L316.5,768.9 L317.3,768.3 L318.0,768.3 L318.8,769.0 L319.5,768.7 L320.3,767.6 L321.0,765.6 L321.8,762.9 L322.6,760.6 L323.3,757.2 L324.1,749.7 L324.8,743.4 L325.6,737.4 L326.3,734.0 L327.1,727.1 L327.9,725.4 L328.6,725.8 L329.4,724.8 L330.1,731.9 L330.9,734.7 L331.6,746.2 L332.4,750.6 L333.2,755.3 L333.9,761.4 L334.7,764.9 L335.4,764.4 L336.2,768.6 L336.9,770.0 L337.7,770.5 L338.4,770.9 L339.2,771.0 L340.0,770.6 L340.7,771.1 L341.5,771.2 L342.2,771.2 L343.0,771.1 L343.7,771.1 L344.5,770.9 L345.3,770.9 L346.0,770.9 L346.8,770.9 L347.5,771.0 L348.3,771.1 L349.0,770.5 L349.8,771.0 L349.8,771.2 Z" fill="#c9c9c9" stroke="none"/>
<path d="M293.8,759.6 L294.7,755.0 L295.7,753.6 L296.6,750.0 L297.6,747.8 L298.5,740.0 L299.5,738.8 L300.4,733.1 L301.4,729.5 L302.3,728.9 L303.3,722.9 L304.2,716.1 L305.2,715.3 L306.1,718.8 L307.1,719.8 L308.0,731.4 L309.0,745.3 L309.9,758.5 L310.9,765.3 L311.8,769.2 L312.8,770.5 L313.7,771.1 L314.7,771.0 L315.6,771.1 L316.6,771.1 L317.5,771.0 L318.5,771.0 L319.4,771.0 L320.4,771.1 L321.3,770.9 L322.3,771.2 L323.2,771.1 L324.2,770.9 L325.1,770.9 L326.1,771.1 L327.0,771.1 L328.0,771.0 L328.9,771.2 L329.9,771.2 L330.8,771.1 L331.8,771.1 L332.7,771.1 L333.7,770.9 L334.6,770.9 L335.6,770.8 L336.5,771.1 L337.5,771.2 L338.4,771.0 L339.4,771.1 L340.3,770.8 L341.3,771.0 L342.2,770.9 L343.2,771.1 L344.1,771.0 L345.1,771.2 L346.0,770.9 L347.0,771.1 L347.9,770.9 L348.9,771.0 L349.8,771.1" fill="none" stroke="#2a2a2a" stroke-width="0.95" stroke-dasharray="2,1.9"/>
<path d="M293.8,767.8 L294.6,765.2 L295.3,768.2 L296.1,769.6 L296.8,770.7 L297.6,770.8 L298.3,770.4 L299.1,770.3 L299.9,770.2 L300.6,770.1 L301.4,770.1 L302.1,770.0 L302.9,770.0 L303.6,768.3 L304.4,769.2 L305.2,768.0 L305.9,767.0 L306.7,766.9 L307.4,764.7 L308.2,761.9 L308.9,763.1 L309.7,761.4 L310.4,763.3 L311.2,763.7 L312.0,764.1 L312.7,767.2 L313.5,766.9 L314.2,768.3 L315.0,767.2 L315.7,768.6 L316.5,768.9 L317.3,768.3 L318.0,768.3 L318.8,769.0 L319.5,768.7 L320.3,767.6 L321.0,765.6 L321.8,762.9 L322.6,760.6 L323.3,757.2 L324.1,749.7 L324.8,743.4 L325.6,737.4 L326.3,734.0 L327.1,727.1 L327.9,725.4 L328.6,725.8 L329.4,724.8 L330.1,731.9 L330.9,734.7 L331.6,746.2 L332.4,750.6 L333.2,755.3 L333.9,761.4 L334.7,764.9 L335.4,764.4 L336.2,768.6 L336.9,770.0 L337.7,770.5 L338.4,770.9 L339.2,771.0 L340.0,770.6 L340.7,771.1 L341.5,771.2 L342.2,771.2 L343.0,771.1 L343.7,771.1 L344.5,770.9 L345.3,770.9 L346.0,770.9 L346.8,770.9 L347.5,771.0 L348.3,771.1 L349.0,770.5 L349.8,771.0" fill="none" stroke="#111" stroke-width="0.95" stroke-linejoin="round"/>
<path d="M293.8,711.8 H349.8 V772.3" fill="none" stroke="#666" stroke-width="0.8"/>
<path d="M293.8,711.8 V772.3" fill="none" stroke="#222" stroke-width="0.8"/>
<path d="M293.4,772.3 H350.1" fill="none" stroke="#111" stroke-width="0.9"/>
<path d="M291.9,772.3 h2.4 M292.7,769.2 h1.6 M292.7,766.2 h1.6 M292.7,763.2 h1.6 M292.7,760.1 h1.6 M291.9,757.1 h2.4 M292.7,754.0 h1.6 M292.7,751.0 h1.6 M292.7,747.9 h1.6 M292.7,744.9 h1.6 M291.9,741.8 h2.4 M292.7,738.8 h1.6 M292.7,735.7 h1.6 M292.7,732.7 h1.6 M292.7,729.6 h1.6 M291.9,726.6 h2.4 M292.7,723.5 h1.6 M292.7,720.5 h1.6 M292.7,717.4 h1.6 M292.7,714.4 h1.6 M293.8,772.0 v2.0 M298.0,772.0 v1.1 M300.5,772.0 v1.1 M302.2,772.0 v1.1 M303.6,772.0 v1.1 M304.7,772.0 v1.1 M305.6,772.0 v1.1 M306.4,772.0 v1.1 M307.2,772.0 v1.1 M307.8,772.0 v2.0 M312.0,772.0 v1.1 M314.5,772.0 v1.1 M316.2,772.0 v1.1 M317.6,772.0 v1.1 M318.7,772.0 v1.1 M319.6,772.0 v1.1 M320.4,772.0 v1.1 M321.2,772.0 v1.1 M321.8,772.0 v2.0 M326.0,772.0 v1.1 M328.5,772.0 v1.1 M330.2,772.0 v1.1 M331.6,772.0 v1.1 M332.7,772.0 v1.1 M333.6,772.0 v1.1 M334.4,772.0 v1.1 M335.2,772.0 v1.1 M335.8,772.0 v2.0 M340.0,772.0 v1.1 M342.5,772.0 v1.1 M344.2,772.0 v1.1 M345.6,772.0 v1.1 M346.7,772.0 v1.1 M347.6,772.0 v1.1 M348.4,772.0 v1.1 M349.2,772.0 v1.1 M349.8,772.0 v2" fill="none" stroke="#111" stroke-width="0.95"/>
<text transform="translate(289.8,781.3) scale(0.77,1)" class="tk">10<tspan dy="-2.5" class="sp">0</tspan></text>
<text transform="translate(303.8,781.3) scale(0.77,1)" class="tk">10<tspan dy="-2.5" class="sp">1</tspan></text>
<text transform="translate(317.8,781.3) scale(0.77,1)" class="tk">10<tspan dy="-2.5" class="sp">2</tspan></text>
<text transform="translate(331.8,781.3) scale(0.77,1)" class="tk">10<tspan dy="-2.5" class="sp">3</tspan></text>
<text transform="translate(345.8,781.3) scale(0.77,1)" class="tk">10<tspan dy="-2.5" class="sp">4</tspan></text>
<text x="335.9" y="722.7" class="nm">233</text>
<path d="M361.5,771.2 L361.5,768.0 L362.3,765.8 L363.0,765.2 L363.8,769.9 L364.5,771.0 L365.3,770.7 L366.0,770.3 L366.8,771.1 L367.6,771.0 L368.3,770.7 L369.1,770.7 L369.8,770.7 L370.6,770.8 L371.3,771.0 L372.1,770.8 L372.9,770.6 L373.6,771.0 L374.4,771.0 L375.1,770.8 L375.9,770.9 L376.6,770.8 L377.4,770.9 L378.1,770.7 L378.9,770.9 L379.7,771.1 L380.4,770.6 L381.2,770.8 L381.9,770.2 L382.7,768.7 L383.4,767.2 L384.2,765.8 L385.0,764.3 L385.7,763.0 L386.5,760.3 L387.2,757.7 L388.0,758.9 L388.7,756.2 L389.5,756.5 L390.3,752.3 L391.0,751.7 L391.8,747.5 L392.5,745.1 L393.3,743.8 L394.0,740.9 L394.8,733.3 L395.6,734.5 L396.3,727.6 L397.1,726.6 L397.8,732.2 L398.6,730.1 L399.3,726.2 L400.1,731.9 L400.9,729.1 L401.6,727.2 L402.4,730.7 L403.1,734.6 L403.9,743.1 L404.6,749.6 L405.4,755.3 L406.1,755.8 L406.9,759.7 L407.7,765.6 L408.4,767.2 L409.2,770.1 L409.9,771.0 L410.7,770.7 L411.4,770.6 L412.2,771.1 L413.0,771.0 L413.7,770.9 L414.5,771.0 L415.2,770.9 L416.0,770.8 L416.7,771.2 L417.5,770.8 L417.5,771.2 Z" fill="#c9c9c9" stroke="none"/>
<path d="M361.5,759.5 L362.4,757.7 L363.4,755.1 L364.3,749.8 L365.3,745.4 L366.2,745.4 L367.2,737.6 L368.1,734.2 L369.1,733.1 L370.0,729.1 L371.0,721.3 L371.9,719.3 L372.9,719.6 L373.8,718.4 L374.8,724.4 L375.7,731.1 L376.7,746.6 L377.6,757.3 L378.6,763.9 L379.5,768.2 L380.5,770.0 L381.4,770.7 L382.4,771.0 L383.3,771.0 L384.3,771.2 L385.2,771.0 L386.2,771.2 L387.1,771.0 L388.1,771.0 L389.0,770.9 L390.0,770.9 L390.9,771.1 L391.9,770.9 L392.8,771.1 L393.8,770.9 L394.7,771.0 L395.7,771.0 L396.6,770.7 L397.6,770.8 L398.5,771.2 L399.5,770.9 L400.4,771.2 L401.4,771.1 L402.3,771.0 L403.3,771.0 L404.2,770.8 L405.2,771.2 L406.1,771.0 L407.1,771.0 L408.0,771.0 L409.0,771.1 L409.9,770.9 L410.9,771.2 L411.8,770.8 L412.8,771.2 L413.7,771.0 L414.7,771.1 L415.6,771.0 L416.6,771.1 L417.5,771.2" fill="none" stroke="#2a2a2a" stroke-width="0.95" stroke-dasharray="2,1.9"/>
<path d="M361.5,768.0 L362.3,765.8 L363.0,765.2 L363.8,769.9 L364.5,771.0 L365.3,770.7 L366.0,770.3 L366.8,771.1 L367.6,771.0 L368.3,770.7 L369.1,770.7 L369.8,770.7 L370.6,770.8 L371.3,771.0 L372.1,770.8 L372.9,770.6 L373.6,771.0 L374.4,771.0 L375.1,770.8 L375.9,770.9 L376.6,770.8 L377.4,770.9 L378.1,770.7 L378.9,770.9 L379.7,771.1 L380.4,770.6 L381.2,770.8 L381.9,770.2 L382.7,768.7 L383.4,767.2 L384.2,765.8 L385.0,764.3 L385.7,763.0 L386.5,760.3 L387.2,757.7 L388.0,758.9 L388.7,756.2 L389.5,756.5 L390.3,752.3 L391.0,751.7 L391.8,747.5 L392.5,745.1 L393.3,743.8 L394.0,740.9 L394.8,733.3 L395.6,734.5 L396.3,727.6 L397.1,726.6 L397.8,732.2 L398.6,730.1 L399.3,726.2 L400.1,731.9 L400.9,729.1 L401.6,727.2 L402.4,730.7 L403.1,734.6 L403.9,743.1 L404.6,749.6 L405.4,755.3 L406.1,755.8 L406.9,759.7 L407.7,765.6 L408.4,767.2 L409.2,770.1 L409.9,771.0 L410.7,770.7 L411.4,770.6 L412.2,771.1 L413.0,771.0 L413.7,770.9 L414.5,771.0 L415.2,770.9 L416.0,770.8 L416.7,771.2 L417.5,770.8" fill="none" stroke="#111" stroke-width="0.95" stroke-linejoin="round"/>
<path d="M361.5,711.8 H417.5 V772.3" fill="none" stroke="#666" stroke-width="0.8"/>
<path d="M361.5,711.8 V772.3" fill="none" stroke="#222" stroke-width="0.8"/>
<path d="M361.1,772.3 H417.8" fill="none" stroke="#111" stroke-width="0.9"/>
<path d="M359.6,772.3 h2.4 M360.4,769.2 h1.6 M360.4,766.2 h1.6 M360.4,763.2 h1.6 M360.4,760.1 h1.6 M359.6,757.1 h2.4 M360.4,754.0 h1.6 M360.4,751.0 h1.6 M360.4,747.9 h1.6 M360.4,744.9 h1.6 M359.6,741.8 h2.4 M360.4,738.8 h1.6 M360.4,735.7 h1.6 M360.4,732.7 h1.6 M360.4,729.6 h1.6 M359.6,726.6 h2.4 M360.4,723.5 h1.6 M360.4,720.5 h1.6 M360.4,717.4 h1.6 M360.4,714.4 h1.6 M361.5,772.0 v2.0 M365.7,772.0 v1.1 M368.2,772.0 v1.1 M369.9,772.0 v1.1 M371.3,772.0 v1.1 M372.4,772.0 v1.1 M373.3,772.0 v1.1 M374.1,772.0 v1.1 M374.9,772.0 v1.1 M375.5,772.0 v2.0 M379.7,772.0 v1.1 M382.2,772.0 v1.1 M383.9,772.0 v1.1 M385.3,772.0 v1.1 M386.4,772.0 v1.1 M387.3,772.0 v1.1 M388.1,772.0 v1.1 M388.9,772.0 v1.1 M389.5,772.0 v2.0 M393.7,772.0 v1.1 M396.2,772.0 v1.1 M397.9,772.0 v1.1 M399.3,772.0 v1.1 M400.4,772.0 v1.1 M401.3,772.0 v1.1 M402.1,772.0 v1.1 M402.9,772.0 v1.1 M403.5,772.0 v2.0 M407.7,772.0 v1.1 M410.2,772.0 v1.1 M411.9,772.0 v1.1 M413.3,772.0 v1.1 M414.4,772.0 v1.1 M415.3,772.0 v1.1 M416.1,772.0 v1.1 M416.9,772.0 v1.1 M417.5,772.0 v2" fill="none" stroke="#111" stroke-width="0.95"/>
<text transform="translate(357.5,781.3) scale(0.77,1)" class="tk">10<tspan dy="-2.5" class="sp">0</tspan></text>
<text transform="translate(371.5,781.3) scale(0.77,1)" class="tk">10<tspan dy="-2.5" class="sp">1</tspan></text>
<text transform="translate(385.5,781.3) scale(0.77,1)" class="tk">10<tspan dy="-2.5" class="sp">2</tspan></text>
<text transform="translate(399.5,781.3) scale(0.77,1)" class="tk">10<tspan dy="-2.5" class="sp">3</tspan></text>
<text transform="translate(413.5,781.3) scale(0.77,1)" class="tk">10<tspan dy="-2.5" class="sp">4</tspan></text>
<text x="403.6" y="722.7" class="nm">371</text>
<path d="M95.5,226.5 H439" stroke="#111" stroke-width="1.3" fill="none"/><path d="M437.8,222 L447.6,226.5 L437.8,231 Z" fill="#111"/>
<text class="big" transform="translate(0.7,19.0) scale(1.06,1)">A</text>
<text class="big" transform="translate(-0.1,281.1) scale(1.02,1)">B</text>
<text class="big" transform="translate(0.3,557.1) scale(0.99,1)">C</text>
<text x="130.2" y="35.0" class="lb" text-anchor="middle">medium</text>
<text x="219.8" y="35.0" class="lb" text-anchor="middle">MOPC21</text>
<text x="312.0" y="35.0" class="lb" text-anchor="middle">anti-CD13</text>
<text x="404.6" y="20.0" class="lb" text-anchor="middle">soluble</text>
<text x="404.4" y="34.4" class="lb" text-anchor="middle">anti-hOSCAR</text>
<text x="131.2" y="129.2" class="lb" text-anchor="middle">anti-</text>
<text x="131.2" y="143.0" class="lb" text-anchor="middle">hOSCAR</text>
<text x="220.0" y="129.2" class="lb" text-anchor="middle">anti-hOSCAR</text>
<text x="220.0" y="143.0" class="lb" text-anchor="middle">F(ab')<tspan dy="2.5" style="font-size:8px">2</tspan></text>
<text x="312.0" y="129.2" class="lb" text-anchor="middle">anti-hOSCAR</text>
<text x="312.0" y="143.0" class="lb" text-anchor="middle">polymixin B</text>
<text x="403.8" y="143.0" class="lb" text-anchor="middle">LPS</text>
<text x="270.8" y="243.6" class="cd" text-anchor="middle">CD86</text>
<text x="27.2" y="320.0" class="lb" text-anchor="middle">MOPC21</text>
<text x="25.0" y="391.6" class="lb" text-anchor="middle">anti-</text>
<text x="25.0" y="405.2" class="lb" text-anchor="middle">hOSCAR</text>
<text x="26.5" y="458.2" class="lb" text-anchor="middle">LPS</text>
<text x="92.5" y="523.5" class="lb" text-anchor="middle">CD25</text>
<text x="156.9" y="523.5" class="lb" text-anchor="middle">CD40</text>
<text x="223.6" y="523.5" class="lb" text-anchor="middle">CD54</text>
<text x="290.1" y="523.5" class="lb" text-anchor="middle">CD80</text>
<text x="356.4" y="523.5" class="lb" text-anchor="middle">CD83</text>
<text x="421.5" y="523.5" class="lb" text-anchor="middle">HLA-DR</text>
<text x="486.1" y="523.5" class="lb" text-anchor="middle">DC-LAMP</text>
<text x="136.3" y="602.6" class="lb" text-anchor="middle">MOPC21</text>
<text x="134.0" y="666.6" class="lb" text-anchor="middle">anti-</text>
<text x="134.0" y="681.0" class="lb" text-anchor="middle">hOSCAR</text>
<text x="137.2" y="750.2" class="lb" text-anchor="middle">LPS</text>
<text x="192.6" y="796.8" class="lb" text-anchor="middle">CCR7</text>
<text x="257.4" y="796.8" class="lb" text-anchor="middle">CD80</text>
<text x="323.6" y="796.8" class="lb" text-anchor="middle">CD83</text>
<text x="389.5" y="796.8" class="lb" text-anchor="middle">CD86</text>
</svg>
</body></html>
